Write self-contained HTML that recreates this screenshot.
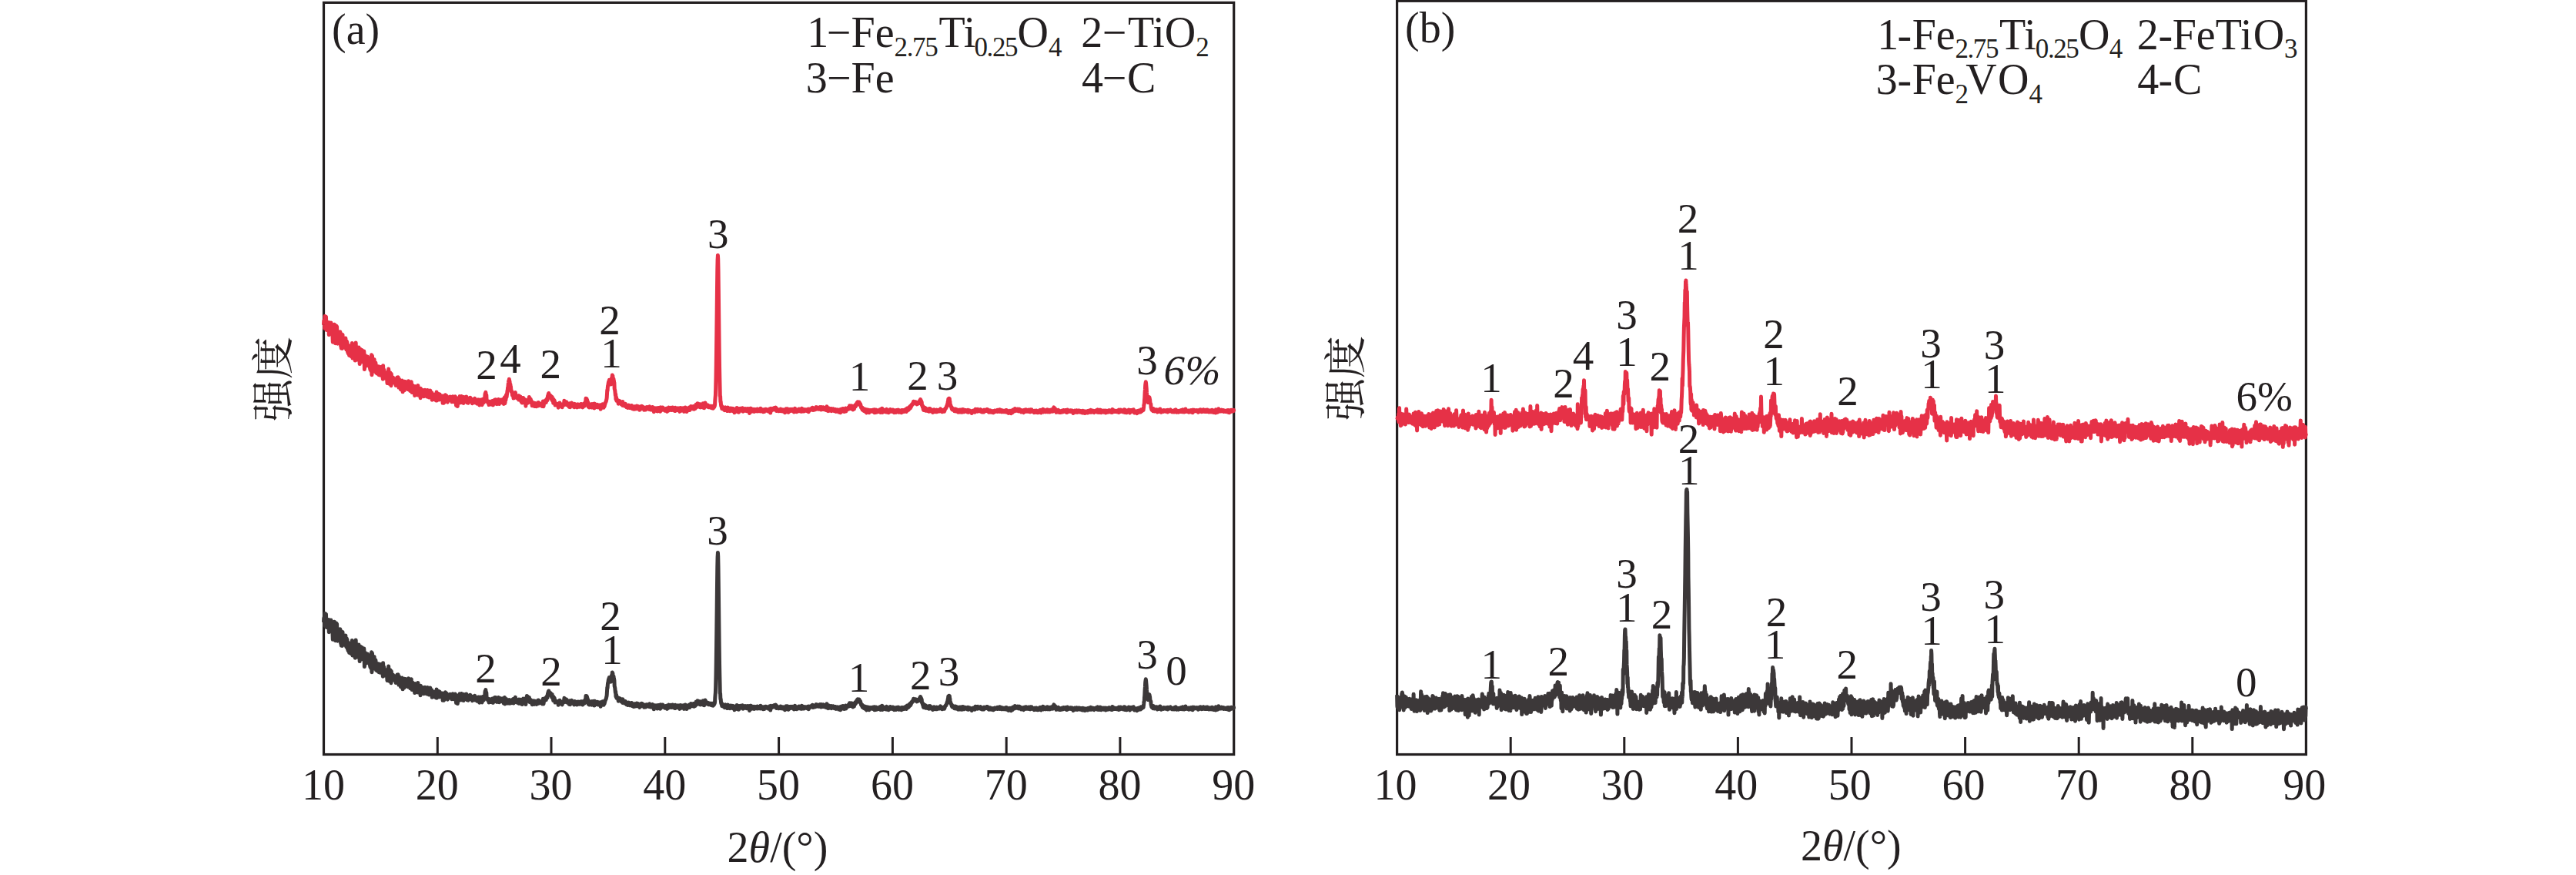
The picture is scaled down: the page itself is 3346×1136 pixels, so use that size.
<!DOCTYPE html>
<html lang="zh"><head><meta charset="utf-8"><title>XRD patterns</title>
<style>html,body{margin:0;padding:0;background:#fff;}body{width:3346px;height:1136px;overflow:hidden;}svg{display:block;}text{font-family:"Liberation Serif", "Noto Serif CJK SC", serif;fill:#231f20;}.it{font-style:italic;}.cv{fill:none;stroke-linejoin:round;stroke-linecap:butt;}</style></head><body>
<svg width="3346" height="1136" viewBox="0 0 3346 1136">
<rect width="3346" height="1136" fill="#fff"/>
<rect x="420.5" y="3.4" width="1182.2" height="976.1" fill="none" stroke="#231f20" stroke-width="3.2"/>
<path d="M568.3 979.5V957.0M716.0 979.5V957.0M863.8 979.5V957.0M1011.6 979.5V957.0M1159.4 979.5V957.0M1307.2 979.5V957.0M1454.9 979.5V957.0" stroke="#231f20" stroke-width="3" fill="none"/>
<rect x="1814.6" y="1.3" width="1180.8" height="978.2" fill="none" stroke="#231f20" stroke-width="3.2"/>
<path d="M1962.2 979.5V957.0M2109.8 979.5V957.0M2257.4 979.5V957.0M2405.0 979.5V957.0M2552.6 979.5V957.0M2700.2 979.5V957.0M2847.8 979.5V957.0" stroke="#231f20" stroke-width="3" fill="none"/>
<polyline class="cv" stroke="#3c3839" stroke-width="5" points="420.5,807.9 420.8,802.3 421.1,802.5 421.4,802.9 421.7,812.3 422.0,796.6 422.3,802.5 422.6,800.2 422.9,802.1 423.2,797.8 423.5,797.5 423.8,807.9 424.0,814.5 424.3,804.3 424.6,814.6 424.9,808.4 425.2,811.4 425.5,812.7 425.8,810.8 426.1,805.6 426.4,809.2 426.7,811.5 427.0,804.6 427.3,820.7 427.6,816.2 427.9,814.8 428.2,806.4 428.5,817.2 428.8,811.3 429.1,806.9 429.4,817.7 429.7,816.6 430.0,805.1 430.3,812.5 430.5,810.7 430.8,811.2 431.1,808.4 431.4,808.5 431.7,815.9 432.0,822.4 432.3,830.3 432.6,823.3 432.9,817.6 433.2,813.6 433.5,815.0 433.8,821.4 434.1,811.1 434.4,807.3 434.7,825.1 435.0,824.2 435.3,816.4 435.6,831.8 435.9,820.0 436.2,819.5 436.5,828.9 436.8,809.0 437.1,829.5 437.3,826.9 437.6,810.0 437.9,822.8 438.2,821.1 438.5,832.2 438.8,821.6 439.1,828.0 439.4,830.4 439.7,827.3 440.0,821.8 440.3,826.1 440.6,828.2 440.9,827.9 441.2,828.8 441.5,827.5 441.8,816.8 442.1,825.8 442.4,818.3 442.7,835.6 443.0,824.0 443.3,838.3 443.6,830.2 443.8,828.3 444.1,834.3 444.4,838.5 444.7,830.6 445.0,820.4 445.3,831.5 445.6,836.9 445.9,830.2 446.2,830.0 446.5,825.3 446.8,833.0 447.1,831.6 447.4,831.9 447.7,829.0 448.0,828.7 448.3,829.4 448.6,837.7 448.9,825.0 449.2,836.4 449.5,832.4 449.8,839.9 450.1,838.5 450.4,829.1 450.6,832.6 450.9,830.2 451.2,835.2 451.5,843.0 451.8,834.1 452.1,844.8 452.4,843.3 452.7,835.1 453.0,835.4 453.3,838.1 453.6,847.4 453.9,834.9 454.2,845.9 454.5,844.9 454.8,837.6 455.1,846.8 455.4,838.2 455.7,846.3 456.0,836.9 456.3,848.9 456.6,838.8 456.9,841.4 457.1,843.7 457.4,831.4 457.7,845.9 458.0,851.1 458.3,846.8 458.6,841.1 458.9,840.5 459.2,834.8 459.5,848.2 459.8,847.8 460.1,847.8 460.4,844.2 460.7,845.4 461.0,843.3 461.3,854.2 461.6,834.7 461.9,839.1 462.2,831.0 462.5,846.0 462.8,841.3 463.1,852.4 463.4,842.5 463.7,843.1 463.9,853.0 464.2,848.8 464.5,841.2 464.8,852.8 465.1,849.0 465.4,849.8 465.7,844.9 466.0,836.9 466.3,841.2 466.6,843.7 466.9,851.9 467.2,858.6 467.5,847.5 467.8,847.2 468.1,839.3 468.4,848.8 468.7,850.6 469.0,846.4 469.3,844.2 469.6,852.2 469.9,855.4 470.2,840.5 470.4,853.0 470.7,847.4 471.0,851.9 471.3,849.4 471.6,853.9 471.9,854.3 472.2,843.3 472.5,857.0 472.8,842.0 473.1,848.2 473.4,865.6 473.7,862.6 474.0,852.5 474.3,858.1 474.6,847.6 474.9,861.5 475.2,849.3 475.5,857.2 475.8,857.3 476.1,857.3 476.4,855.1 476.7,853.2 477.0,856.9 477.2,857.3 477.5,849.0 477.8,856.5 478.1,855.2 478.4,860.1 478.7,860.6 479.0,856.9 479.3,859.2 479.6,857.1 479.9,859.4 480.2,863.3 480.5,860.6 480.8,865.9 481.1,857.9 481.4,859.8 481.7,867.5 482.0,863.8 482.3,852.5 482.6,846.8 482.9,872.7 483.2,869.9 483.5,848.0 483.7,856.6 484.0,857.2 484.3,864.1 484.6,862.3 484.9,864.2 485.2,862.9 485.5,866.1 485.8,852.4 486.1,852.9 486.4,859.5 486.7,866.8 487.0,865.6 487.3,859.4 487.6,868.5 487.9,857.1 488.2,860.3 488.5,870.0 488.8,867.4 489.1,867.4 489.4,869.4 489.7,871.0 490.0,863.1 490.2,866.7 490.5,866.6 490.8,862.1 491.1,863.7 491.4,869.9 491.7,861.8 492.0,864.3 492.3,872.8 492.6,866.3 492.9,866.6 493.2,862.6 493.5,864.9 493.8,873.3 494.1,872.0 494.4,868.5 494.7,866.3 495.0,866.5 495.3,865.8 495.6,862.3 495.9,872.0 496.2,870.2 496.5,873.0 496.8,868.0 497.0,873.2 497.3,878.2 497.6,860.8 497.9,867.5 498.2,868.7 498.5,870.2 498.8,866.0 499.1,877.0 499.4,871.8 499.7,874.5 500.0,876.6 500.3,876.5 500.6,870.6 500.9,875.6 501.2,877.5 501.5,872.4 501.8,872.8 502.1,869.8 502.4,873.8 502.7,879.0 503.0,883.5 503.3,874.3 503.5,876.4 503.8,872.2 504.1,880.8 504.4,872.1 504.7,865.1 505.0,876.3 505.3,884.2 505.6,875.5 505.9,877.9 506.2,880.0 506.5,872.8 506.8,869.8 507.1,876.4 507.4,881.7 507.7,876.8 508.0,886.8 508.3,871.5 508.6,875.4 508.9,876.3 509.2,882.7 509.5,879.3 509.8,876.9 510.1,881.9 510.3,876.6 510.6,876.2 510.9,877.9 511.2,883.0 511.5,881.7 511.8,881.9 512.1,881.1 512.4,878.0 512.7,879.9 513.0,879.4 513.3,882.1 513.6,880.6 513.9,883.2 514.2,886.6 514.5,883.0 514.8,880.6 515.1,877.2 515.4,881.9 515.7,879.4 516.0,876.1 516.3,884.4 516.6,881.6 516.8,879.2 517.1,875.7 517.4,884.9 517.7,886.7 518.0,889.1 518.3,886.0 518.6,878.4 518.9,884.7 519.2,882.3 519.5,884.2 519.8,884.9 520.1,881.8 520.4,891.8 520.7,889.7 521.0,881.5 521.3,888.5 521.6,885.3 521.9,891.2 522.2,880.0 522.5,883.5 522.8,889.5 523.1,894.8 523.4,885.1 523.6,885.7 523.9,888.1 524.2,882.5 524.5,889.4 524.8,889.1 525.1,892.9 525.4,888.1 525.7,881.3 526.0,891.1 526.3,890.7 526.6,887.3 526.9,881.5 527.2,889.8 527.5,887.9 527.8,885.9 528.1,887.7 528.4,889.2 528.7,885.0 529.0,889.6 529.3,891.0 529.6,891.5 529.9,884.8 530.1,884.2 530.4,891.8 530.7,880.7 531.0,889.3 531.3,891.5 531.6,882.9 531.9,886.1 532.2,890.2 532.5,886.7 532.8,893.7 533.1,889.2 533.4,892.1 533.7,891.9 534.0,892.3 534.3,881.7 534.6,893.6 534.9,888.4 535.2,895.6 535.5,889.9 535.8,886.1 536.1,895.2 536.4,893.9 536.7,893.9 536.9,893.1 537.2,894.8 537.5,890.3 537.8,891.5 538.1,894.6 538.4,895.0 538.7,899.6 539.0,887.5 539.3,889.3 539.6,891.8 539.9,896.2 540.2,890.4 540.5,894.1 540.8,897.3 541.1,893.5 541.4,892.8 541.7,896.9 542.0,892.6 542.3,891.4 542.6,898.9 542.9,886.4 543.2,893.9 543.4,893.3 543.7,893.2 544.0,899.2 544.3,894.3 544.6,894.1 544.9,893.2 545.2,895.8 545.5,893.9 545.8,897.1 546.1,902.8 546.4,890.3 546.7,898.1 547.0,894.7 547.3,895.1 547.6,894.5 547.9,892.8 548.2,895.9 548.5,897.9 548.8,898.7 549.1,895.4 549.4,895.6 549.7,894.6 550.0,892.6 550.2,900.8 550.5,895.6 550.8,897.1 551.1,896.6 551.4,896.0 551.7,897.7 552.0,892.3 552.3,899.0 552.6,899.5 552.9,899.9 553.2,898.9 553.5,900.4 553.8,898.9 554.1,894.6 554.4,898.0 554.7,900.9 555.0,896.8 555.3,892.5 555.6,899.8 555.9,897.8 556.2,894.3 556.5,897.1 556.7,895.8 557.0,898.7 557.3,902.0 557.6,901.3 557.9,897.7 558.2,895.0 558.5,896.2 558.8,892.9 559.1,895.1 559.4,899.2 559.7,897.3 560.0,899.4 560.3,900.5 560.6,897.0 560.9,896.0 561.2,905.3 561.5,899.2 561.8,897.9 562.1,899.4 562.4,903.4 562.7,899.0 563.0,898.3 563.3,901.6 563.5,900.4 563.8,901.4 564.1,898.4 564.4,898.9 564.7,904.8 565.0,898.0 565.3,901.2 565.6,897.9 565.9,901.8 566.2,902.1 566.5,906.0 566.8,902.2 567.1,895.1 567.4,906.2 567.7,901.2 568.0,901.1 568.3,901.6 568.6,900.7 568.9,901.5 569.2,898.7 569.5,902.6 569.8,899.9 570.0,898.1 570.3,897.6 570.6,905.1 570.9,902.3 571.2,898.2 571.5,900.1 571.8,903.2 572.1,903.9 572.4,900.2 572.7,902.5 573.0,901.4 573.3,904.0 573.6,902.7 573.9,903.4 574.2,900.0 574.5,901.3 574.8,901.9 575.1,909.3 575.4,901.6 575.7,908.2 576.0,902.6 576.3,908.8 576.6,909.0 576.8,899.9 577.1,905.4 577.4,902.4 577.7,903.2 578.0,903.7 578.3,904.2 578.6,898.8 578.9,903.6 579.2,904.9 579.5,906.8 579.8,903.0 580.1,900.2 580.4,906.2 580.7,904.0 581.0,903.8 581.3,908.2 581.6,902.4 581.9,903.4 582.2,904.2 582.5,902.0 582.8,903.8 583.1,901.8 583.3,901.8 583.6,905.9 583.9,903.5 584.2,904.8 584.5,905.6 584.8,901.2 585.1,906.0 585.4,905.5 585.7,906.4 586.0,901.8 586.3,904.9 586.6,904.1 586.9,907.8 587.2,906.7 587.5,905.7 587.8,901.6 588.1,900.9 588.4,903.7 588.7,902.0 589.0,905.1 589.3,906.4 589.6,902.9 589.9,901.6 590.1,908.0 590.4,905.4 590.7,902.7 591.0,905.5 591.3,900.9 591.6,904.7 591.9,903.6 592.2,903.8 592.5,912.6 592.8,911.3 593.1,902.8 593.4,903.6 593.7,910.9 594.0,909.5 594.3,913.6 594.6,906.9 594.9,904.5 595.2,905.6 595.5,908.3 595.8,904.0 596.1,906.8 596.4,909.4 596.6,902.3 596.9,905.2 597.2,900.7 597.5,905.5 597.8,905.3 598.1,907.7 598.4,908.8 598.7,907.3 599.0,908.2 599.3,904.7 599.6,900.5 599.9,906.3 600.2,906.4 600.5,907.3 600.8,908.2 601.1,909.0 601.4,906.3 601.7,905.8 602.0,909.5 602.3,904.3 602.6,901.6 602.9,904.5 603.1,904.4 603.4,905.8 603.7,906.0 604.0,906.8 604.3,905.6 604.6,902.0 604.9,905.5 605.2,902.2 605.5,907.2 605.8,901.0 606.1,905.6 606.4,905.8 606.7,908.8 607.0,905.6 607.3,905.5 607.6,908.9 607.9,907.7 608.2,909.3 608.5,906.7 608.8,907.1 609.1,907.2 609.4,903.1 609.7,905.9 609.9,905.2 610.2,903.7 610.5,905.8 610.8,902.3 611.1,907.4 611.4,907.0 611.7,905.7 612.0,907.6 612.3,904.1 612.6,904.1 612.9,908.2 613.2,907.5 613.5,909.8 613.8,906.9 614.1,905.7 614.4,906.7 614.7,907.0 615.0,904.6 615.3,905.8 615.6,908.5 615.9,904.4 616.2,906.6 616.4,906.5 616.7,903.3 617.0,906.1 617.3,906.7 617.6,909.1 617.9,906.8 618.2,908.7 618.5,908.8 618.8,906.2 619.1,906.8 619.4,908.9 619.7,910.3 620.0,906.4 620.3,906.5 620.6,906.2 620.9,906.0 621.2,905.0 621.5,907.1 621.8,906.4 622.1,906.2 622.4,905.7 622.7,912.2 623.0,908.8 623.2,906.8 623.5,909.7 623.8,905.1 624.1,906.8 624.4,908.5 624.7,908.4 625.0,908.1 625.3,908.0 625.6,908.0 625.9,911.5 626.2,911.8 626.5,907.5 626.8,906.3 627.1,904.6 627.4,906.0 627.7,906.4 628.0,906.4 628.3,909.0 628.6,905.8 628.9,907.4 629.2,903.8 629.5,904.8 629.7,903.4 630.0,898.7 630.3,896.9 630.6,900.2 630.9,895.6 631.2,902.4 631.5,904.0 631.8,899.0 632.1,906.2 632.4,906.4 632.7,907.6 633.0,906.4 633.3,907.8 633.6,909.0 633.9,907.9 634.2,907.5 634.5,910.1 634.8,909.6 635.1,912.0 635.4,908.9 635.7,909.2 636.0,907.6 636.3,911.4 636.5,908.7 636.8,908.4 637.1,911.5 637.4,909.0 637.7,909.2 638.0,909.2 638.3,909.6 638.6,909.9 638.9,911.8 639.2,910.7 639.5,907.0 639.8,907.7 640.1,910.5 640.4,912.4 640.7,909.2 641.0,907.2 641.3,910.9 641.6,911.0 641.9,910.2 642.2,906.0 642.5,907.6 642.8,905.5 643.0,908.8 643.3,910.6 643.6,908.4 643.9,905.4 644.2,907.6 644.5,908.6 644.8,908.0 645.1,910.7 645.4,911.3 645.7,910.2 646.0,910.5 646.3,907.8 646.6,910.1 646.9,909.4 647.2,908.3 647.5,905.5 647.8,908.8 648.1,907.7 648.4,911.7 648.7,907.7 649.0,906.2 649.3,907.0 649.6,907.7 649.8,907.5 650.1,908.6 650.4,908.4 650.7,909.1 651.0,910.4 651.3,909.2 651.6,906.9 651.9,910.7 652.2,910.5 652.5,909.1 652.8,907.4 653.1,908.2 653.4,907.8 653.7,909.0 654.0,906.5 654.3,913.2 654.6,909.9 654.9,910.1 655.2,909.1 655.5,905.5 655.8,914.0 656.1,913.1 656.3,909.9 656.6,910.4 656.9,912.2 657.2,910.5 657.5,907.5 657.8,909.3 658.1,913.1 658.4,912.2 658.7,911.6 659.0,910.7 659.3,912.1 659.6,910.6 659.9,912.9 660.2,910.5 660.5,910.4 660.8,909.2 661.1,912.8 661.4,908.6 661.7,912.1 662.0,910.6 662.3,913.3 662.6,912.8 662.9,910.4 663.1,912.5 663.4,909.2 663.7,910.7 664.0,912.7 664.3,911.4 664.6,908.8 664.9,909.8 665.2,909.8 665.5,911.3 665.8,908.3 666.1,908.8 666.4,911.2 666.7,907.5 667.0,913.0 667.3,909.1 667.6,911.0 667.9,911.8 668.2,907.6 668.5,912.1 668.8,909.1 669.1,910.3 669.4,905.2 669.6,911.3 669.9,910.3 670.2,910.2 670.5,911.0 670.8,910.2 671.1,911.9 671.4,909.7 671.7,910.0 672.0,912.2 672.3,911.7 672.6,910.8 672.9,912.0 673.2,908.4 673.5,912.4 673.8,913.3 674.1,907.9 674.4,911.9 674.7,911.4 675.0,913.0 675.3,908.4 675.6,909.4 675.9,908.2 676.2,910.2 676.4,911.2 676.7,912.2 677.0,913.9 677.3,908.6 677.6,908.4 677.9,910.4 678.2,914.6 678.5,908.3 678.8,911.1 679.1,910.1 679.4,911.7 679.7,907.1 680.0,911.9 680.3,910.0 680.6,910.9 680.9,911.3 681.2,910.9 681.5,908.1 681.8,909.2 682.1,912.9 682.4,909.8 682.7,907.2 682.9,914.6 683.2,906.4 683.5,907.9 683.8,906.4 684.1,906.9 684.4,903.6 684.7,904.3 685.0,904.0 685.3,905.1 685.6,906.8 685.9,906.9 686.2,906.7 686.5,905.7 686.8,907.3 687.1,908.7 687.4,905.5 687.7,911.4 688.0,911.0 688.3,910.7 688.6,908.5 688.9,909.7 689.2,908.4 689.5,910.8 689.7,912.2 690.0,909.2 690.3,912.1 690.6,910.2 690.9,909.8 691.2,914.7 691.5,911.0 691.8,913.4 692.1,911.7 692.4,909.8 692.7,912.9 693.0,910.5 693.3,911.1 693.6,913.2 693.9,912.7 694.2,914.4 694.5,910.1 694.8,910.9 695.1,914.1 695.4,910.7 695.7,911.2 696.0,911.2 696.2,913.2 696.5,911.0 696.8,914.4 697.1,911.3 697.4,913.6 697.7,910.4 698.0,912.5 698.3,910.6 698.6,909.4 698.9,912.1 699.2,913.4 699.5,910.7 699.8,909.1 700.1,912.4 700.4,910.2 700.7,911.0 701.0,912.8 701.3,910.8 701.6,912.1 701.9,911.2 702.2,911.5 702.5,912.5 702.8,910.7 703.0,911.0 703.3,911.1 703.6,912.6 703.9,910.5 704.2,911.8 704.5,913.9 704.8,911.5 705.1,910.6 705.4,907.2 705.7,908.9 706.0,914.0 706.3,911.9 706.6,910.0 706.9,909.8 707.2,908.9 707.5,908.4 707.8,907.5 708.1,906.9 708.4,906.2 708.7,907.9 709.0,906.8 709.3,908.8 709.5,906.6 709.8,906.4 710.1,905.3 710.4,905.8 710.7,903.3 711.0,905.9 711.3,902.7 711.6,900.0 711.9,902.1 712.2,897.9 712.5,899.8 712.8,896.9 713.1,898.8 713.4,900.9 713.7,899.7 713.8,901.2 714.0,900.2 714.3,899.1 714.6,900.9 714.9,901.5 715.2,899.8 715.5,902.8 715.8,903.3 716.0,901.0 716.3,902.5 716.6,904.9 716.9,902.0 717.2,901.6 717.5,906.2 717.8,905.3 718.1,906.7 718.4,905.9 718.7,909.5 719.0,904.4 719.3,907.9 719.6,907.3 719.9,905.9 720.2,906.5 720.5,908.4 720.8,909.4 721.1,912.1 721.4,910.4 721.7,910.3 722.0,911.2 722.3,911.0 722.6,911.3 722.8,910.7 723.1,912.0 723.4,910.5 723.7,910.6 724.0,910.7 724.3,911.8 724.6,913.1 724.9,910.4 725.2,915.3 725.5,914.2 725.8,912.1 726.1,912.2 726.4,913.4 726.7,912.7 727.0,909.2 727.3,910.9 727.6,910.4 727.9,912.5 728.2,912.8 728.5,913.0 728.8,913.5 729.1,913.4 729.3,911.6 729.6,911.3 729.9,911.1 730.2,914.9 730.5,913.3 730.8,911.3 731.1,912.9 731.4,910.6 731.7,911.9 732.0,911.1 732.3,911.9 732.6,911.1 732.9,906.3 733.2,910.1 733.5,911.1 733.8,909.9 734.1,907.3 734.4,910.6 734.7,911.3 735.0,911.4 735.3,910.2 735.6,907.9 735.9,908.0 736.1,908.7 736.4,911.9 736.7,911.6 737.0,910.2 737.3,910.5 737.6,910.7 737.9,912.3 738.2,912.5 738.5,911.1 738.8,913.8 739.1,911.1 739.4,910.9 739.7,914.6 740.0,909.8 740.3,911.2 740.6,914.8 740.9,912.3 741.2,912.6 741.5,910.8 741.8,912.0 742.1,912.3 742.4,912.9 742.6,909.2 742.9,913.0 743.2,910.9 743.5,912.7 743.8,912.5 744.1,912.7 744.4,911.4 744.7,913.5 745.0,911.9 745.3,914.2 745.6,913.6 745.9,914.9 746.2,911.9 746.5,910.5 746.8,912.3 747.1,912.3 747.4,911.2 747.7,912.3 748.0,913.1 748.3,911.2 748.6,913.1 748.9,914.0 749.2,912.1 749.4,915.0 749.7,912.5 750.0,911.3 750.3,913.7 750.6,912.7 750.9,910.9 751.2,913.0 751.5,913.9 751.8,913.2 752.1,914.2 752.4,912.5 752.7,914.2 753.0,913.5 753.3,911.9 753.6,911.0 753.9,912.6 754.2,914.1 754.5,911.1 754.8,910.8 755.1,913.2 755.4,912.8 755.7,910.8 755.9,911.4 756.2,912.5 756.5,913.1 756.8,915.0 757.1,914.3 757.4,913.9 757.7,913.4 758.0,911.8 758.3,912.1 758.6,910.2 758.9,912.7 759.2,913.0 759.5,912.6 759.8,911.1 760.1,908.3 760.4,911.3 760.7,908.5 761.0,903.4 761.3,905.8 761.6,904.4 761.9,903.5 762.2,904.3 762.5,904.7 762.7,906.8 763.0,906.5 763.3,908.0 763.6,909.9 763.9,908.7 764.2,914.1 764.5,912.4 764.8,912.4 765.1,911.7 765.4,915.1 765.7,912.6 766.0,913.6 766.3,913.2 766.6,911.5 766.9,911.1 767.2,912.2 767.5,912.3 767.8,912.2 768.1,912.9 768.4,914.0 768.7,915.1 769.0,910.5 769.2,914.1 769.5,914.6 769.8,913.4 770.1,914.2 770.4,912.6 770.7,914.3 771.0,912.0 771.3,910.4 771.6,911.0 771.9,916.0 772.2,911.6 772.5,910.2 772.8,913.3 773.1,914.2 773.4,912.9 773.7,913.7 774.0,914.7 774.3,913.5 774.6,913.8 774.9,914.3 775.2,913.8 775.5,911.5 775.8,914.5 776.0,911.3 776.3,914.2 776.6,914.1 776.9,914.9 777.2,913.3 777.5,913.8 777.8,912.3 778.1,913.5 778.4,913.1 778.7,913.8 779.0,913.0 779.3,913.2 779.6,911.8 779.9,913.0 780.2,917.2 780.5,914.5 780.8,912.1 781.1,912.1 781.4,913.9 781.7,915.2 782.0,913.3 782.3,914.4 782.5,913.3 782.8,910.8 783.1,911.0 783.4,911.7 783.7,911.9 784.0,915.2 784.3,911.3 784.6,914.4 784.9,912.1 785.2,913.5 785.5,911.3 785.8,911.1 786.1,909.1 786.4,909.0 786.7,908.4 787.0,907.6 787.3,907.2 787.6,905.3 787.9,904.4 788.2,902.4 788.5,897.4 788.8,892.3 789.1,893.4 789.3,889.6 789.6,886.7 789.9,886.1 790.2,883.7 790.5,881.9 790.8,883.5 791.0,880.4 791.1,881.1 791.4,879.5 791.7,882.7 792.0,883.2 792.3,881.3 792.6,883.7 792.9,882.6 793.2,885.2 793.5,885.1 793.8,883.5 794.1,883.4 794.4,877.1 794.7,877.6 795.0,877.7 795.3,873.1 795.6,873.6 795.8,873.8 796.1,875.9 796.4,877.5 796.7,877.5 797.0,878.1 797.3,880.5 797.6,882.3 797.9,882.9 798.2,890.8 798.5,891.9 798.8,893.2 799.1,896.4 799.4,899.4 799.7,897.8 800.0,904.5 800.3,901.9 800.6,902.0 800.9,906.3 801.2,905.8 801.5,906.1 801.8,905.6 802.1,905.5 802.4,906.9 802.6,908.0 802.9,905.8 803.2,910.2 803.5,907.5 803.8,908.5 804.1,908.1 804.4,909.3 804.7,907.2 805.0,906.7 805.3,907.8 805.6,908.4 805.9,909.4 806.2,909.9 806.5,910.4 806.8,909.6 807.1,911.0 807.4,908.0 807.7,908.8 808.0,909.0 808.3,910.7 808.6,912.4 808.9,907.7 809.1,910.4 809.4,909.9 809.7,911.7 810.0,909.8 810.3,911.4 810.6,910.5 810.9,911.2 811.2,911.0 811.5,913.2 811.8,911.7 812.1,913.3 812.4,910.4 812.7,912.7 813.0,911.9 813.3,911.7 813.6,912.3 813.9,914.8 814.2,913.7 814.5,913.5 814.8,913.1 815.1,914.6 815.4,915.5 815.7,914.4 815.9,915.1 816.2,914.4 816.5,912.7 816.8,912.2 817.1,914.8 817.4,913.7 817.7,915.7 818.0,915.2 818.3,913.2 818.6,914.9 818.9,914.5 819.2,914.1 819.5,912.7 819.8,914.9 820.1,915.9 820.4,912.6 820.7,914.3 821.0,914.5 821.3,915.4 821.6,916.7 821.9,915.6 822.2,915.0 822.4,917.0 822.7,914.1 823.0,914.1 823.3,917.4 823.6,917.3 823.9,916.1 824.2,913.8 824.5,913.7 824.8,916.4 825.1,917.0 825.4,914.3 825.7,916.5 826.0,914.6 826.3,913.8 826.6,915.3 826.9,915.5 827.2,913.1 827.5,916.7 827.8,914.7 828.1,916.2 828.4,915.7 828.7,913.5 829.0,913.6 829.2,915.5 829.5,915.0 829.8,916.5 830.1,915.2 830.4,914.3 830.7,918.4 831.0,914.4 831.3,914.3 831.6,914.1 831.9,917.3 832.2,916.5 832.5,914.6 832.8,913.5 833.1,915.4 833.4,916.3 833.7,914.0 834.0,913.4 834.3,915.0 834.6,915.5 834.9,914.7 835.2,915.8 835.5,914.5 835.7,915.2 836.0,916.6 836.3,916.6 836.6,918.3 836.9,915.5 837.2,915.3 837.5,916.5 837.8,917.8 838.1,916.5 838.4,915.7 838.7,918.0 839.0,916.5 839.3,916.3 839.6,914.8 839.9,917.0 840.2,914.7 840.5,915.3 840.8,915.1 841.1,914.8 841.4,915.8 841.7,916.3 842.0,916.4 842.2,916.0 842.5,916.5 842.8,915.2 843.1,917.5 843.4,914.7 843.7,913.9 844.0,914.3 844.3,917.0 844.6,915.1 844.9,915.3 845.2,915.5 845.5,918.1 845.8,918.1 846.1,917.3 846.4,915.9 846.7,916.0 847.0,916.2 847.3,918.3 847.6,914.6 847.9,917.0 848.2,917.4 848.5,916.6 848.8,918.6 849.0,916.3 849.3,920.8 849.6,916.3 849.9,917.1 850.2,918.1 850.5,917.9 850.8,915.8 851.1,918.0 851.4,918.5 851.7,916.4 852.0,916.9 852.3,917.4 852.6,919.5 852.9,916.8 853.2,915.9 853.5,918.1 853.8,920.0 854.1,915.8 854.4,917.1 854.7,916.0 855.0,916.1 855.3,918.5 855.5,916.1 855.8,915.5 856.1,918.2 856.4,918.1 856.7,917.1 857.0,916.7 857.3,917.6 857.6,920.3 857.9,916.6 858.2,914.9 858.5,916.8 858.8,915.7 859.1,916.1 859.4,915.8 859.7,915.5 860.0,916.6 860.3,916.4 860.6,918.1 860.9,915.1 861.2,918.0 861.5,915.8 861.8,917.4 862.1,916.6 862.3,916.5 862.6,917.5 862.9,917.4 863.2,917.2 863.5,919.2 863.8,917.1 864.1,917.3 864.4,918.0 864.7,919.1 865.0,917.3 865.3,918.3 865.6,916.3 865.9,918.6 866.2,918.7 866.5,920.4 866.8,919.6 867.1,916.7 867.4,917.4 867.7,919.2 868.0,918.1 868.3,919.1 868.6,914.9 868.8,917.0 869.1,916.6 869.4,917.4 869.7,916.0 870.0,916.5 870.3,917.1 870.6,916.5 870.9,916.7 871.2,915.8 871.5,915.4 871.8,916.2 872.1,918.6 872.4,915.9 872.7,916.1 873.0,918.1 873.3,916.1 873.6,915.0 873.9,917.3 874.2,918.4 874.5,915.4 874.8,917.0 875.1,917.3 875.4,916.1 875.6,918.9 875.9,917.5 876.2,916.3 876.5,919.4 876.8,917.1 877.1,915.2 877.4,919.4 877.7,918.2 878.0,917.9 878.3,916.5 878.6,918.4 878.9,916.4 879.2,917.7 879.5,918.5 879.8,916.8 880.1,916.5 880.4,916.6 880.7,915.8 881.0,917.1 881.3,916.7 881.6,917.1 881.9,917.5 882.1,916.8 882.4,918.5 882.7,920.4 883.0,918.5 883.3,917.9 883.6,918.9 883.9,915.5 884.2,919.6 884.5,917.7 884.8,917.6 885.1,918.9 885.4,917.5 885.7,916.1 886.0,917.4 886.3,916.6 886.6,917.7 886.9,916.6 887.2,917.0 887.5,915.9 887.8,916.5 888.1,918.8 888.4,920.4 888.7,919.0 888.9,917.9 889.2,919.2 889.5,918.3 889.8,917.8 890.1,915.0 890.4,916.8 890.7,916.0 891.0,917.9 891.3,917.4 891.6,916.7 891.9,920.5 892.2,918.7 892.5,916.2 892.8,916.7 893.1,918.3 893.4,916.4 893.7,918.9 894.0,917.2 894.3,917.0 894.6,916.3 894.9,917.4 895.2,915.0 895.4,916.4 895.7,915.8 896.0,918.5 896.3,916.5 896.6,916.1 896.9,916.4 897.2,915.2 897.5,913.5 897.8,916.1 898.1,915.1 898.4,915.4 898.7,914.6 899.0,916.4 899.3,915.2 899.6,916.7 899.9,915.4 900.2,914.1 900.5,915.6 900.8,913.4 901.1,913.8 901.4,917.3 901.7,915.8 902.0,915.2 902.2,914.2 902.5,913.2 902.8,913.1 903.1,916.5 903.4,913.7 903.7,914.3 904.0,915.2 904.3,911.0 904.6,914.9 904.9,913.9 905.2,912.8 905.5,912.9 905.8,913.0 905.9,913.8 906.1,909.8 906.4,911.3 906.7,911.8 907.0,911.8 907.3,913.1 907.6,911.3 907.9,910.9 908.2,914.3 908.5,911.6 908.7,912.0 909.0,912.4 909.3,910.6 909.6,914.9 909.9,912.4 910.2,912.3 910.5,914.4 910.8,912.5 911.1,912.4 911.4,913.3 911.7,911.9 912.0,912.9 912.3,910.8 912.6,912.3 912.9,914.9 913.2,909.8 913.5,913.7 913.8,912.6 914.1,914.3 914.4,913.3 914.7,915.8 915.0,911.5 915.3,912.2 915.5,914.3 915.8,912.3 916.1,909.0 916.4,911.2 916.7,913.5 917.0,912.9 917.3,913.6 917.6,912.0 917.9,911.7 918.2,913.2 918.5,912.8 918.8,912.4 919.1,912.2 919.4,912.2 919.7,912.6 920.0,912.6 920.3,914.7 920.6,914.0 920.9,913.1 921.2,914.0 921.5,914.8 921.8,914.8 922.0,913.3 922.3,913.5 922.6,913.3 922.9,913.5 923.2,914.2 923.5,913.9 923.8,915.5 924.1,913.2 924.4,914.8 924.7,915.4 925.0,914.8 925.3,916.0 925.6,915.0 925.9,915.2 926.2,915.0 926.5,916.1 926.8,915.1 927.1,914.0 927.4,912.5 927.7,914.6 928.0,913.5 928.3,913.2 928.6,911.2 928.8,906.5 929.1,902.5 929.4,899.3 929.7,890.2 930.0,876.9 930.3,859.4 930.6,837.1 930.9,813.1 931.2,787.6 931.5,759.8 931.8,736.7 932.1,722.8 932.4,718.3 932.4,717.4 932.7,721.9 933.0,736.2 933.3,760.2 933.6,787.0 933.9,813.7 934.2,839.2 934.5,861.0 934.8,876.3 935.1,889.8 935.3,899.9 935.6,900.6 935.9,907.8 936.2,907.5 936.5,911.5 936.8,913.3 937.1,914.2 937.4,913.5 937.7,916.5 938.0,913.6 938.3,916.1 938.6,914.5 938.9,916.9 939.2,916.6 939.5,916.8 939.8,916.2 940.1,917.3 940.4,916.9 940.7,918.2 941.0,918.6 941.3,916.3 941.6,917.2 941.9,915.2 942.1,915.0 942.4,916.5 942.7,917.0 943.0,918.5 943.3,917.1 943.6,917.5 943.9,918.3 944.2,918.7 944.5,916.9 944.8,919.6 945.1,919.1 945.4,915.1 945.7,918.3 946.0,918.5 946.3,918.9 946.6,916.7 946.9,918.2 947.2,917.1 947.5,919.0 947.8,916.9 948.1,919.8 948.4,916.6 948.6,918.2 948.9,916.0 949.2,917.8 949.5,917.8 949.8,919.1 950.1,918.2 950.4,917.8 950.7,916.3 951.0,918.9 951.3,916.7 951.6,918.0 951.9,918.0 952.2,919.8 952.5,917.3 952.8,916.5 953.1,918.6 953.4,917.2 953.7,918.1 954.0,921.8 954.3,919.3 954.6,917.4 954.9,919.3 955.1,919.7 955.4,918.2 955.7,920.0 956.0,917.1 956.3,917.9 956.6,918.4 956.9,918.8 957.2,915.6 957.5,920.7 957.8,920.6 958.1,918.6 958.4,919.6 958.7,919.8 959.0,917.1 959.3,916.7 959.6,921.3 959.9,920.8 960.2,920.1 960.5,919.8 960.8,917.5 961.1,917.7 961.4,918.1 961.7,916.4 961.9,919.2 962.2,917.4 962.5,918.4 962.8,917.4 963.1,918.7 963.4,918.8 963.7,917.8 964.0,918.5 964.3,915.8 964.6,917.0 964.9,916.3 965.2,920.3 965.5,917.4 965.8,918.3 966.1,919.0 966.4,918.7 966.7,918.6 967.0,918.2 967.3,918.6 967.6,918.8 967.9,916.4 968.2,919.2 968.4,917.8 968.7,917.9 969.0,918.8 969.3,918.5 969.6,917.0 969.9,919.7 970.2,917.4 970.5,916.7 970.8,918.4 971.1,918.6 971.4,916.6 971.7,916.5 972.0,918.7 972.3,917.8 972.6,917.4 972.9,919.0 973.2,921.3 973.5,922.5 973.8,919.4 974.1,918.7 974.4,918.8 974.7,916.3 975.0,918.2 975.2,919.6 975.5,916.3 975.8,919.6 976.1,918.6 976.4,920.3 976.7,917.1 977.0,919.5 977.3,918.5 977.6,919.9 977.9,918.6 978.2,919.7 978.5,919.8 978.8,918.6 979.1,917.9 979.4,917.4 979.7,920.4 980.0,919.4 980.3,919.4 980.6,918.9 980.9,919.4 981.2,919.2 981.5,919.6 981.7,917.5 982.0,917.5 982.3,918.6 982.6,917.6 982.9,919.3 983.2,917.4 983.5,919.9 983.8,917.0 984.1,917.9 984.4,917.6 984.7,918.8 985.0,917.9 985.3,918.8 985.6,919.8 985.9,917.7 986.2,917.3 986.5,918.3 986.8,918.3 987.1,918.4 987.4,918.0 987.7,920.1 988.0,916.2 988.3,919.4 988.5,919.0 988.8,917.5 989.1,918.1 989.4,918.8 989.7,918.8 990.0,918.4 990.3,918.4 990.6,917.8 990.9,919.0 991.2,920.8 991.5,919.2 991.8,919.7 992.1,917.8 992.4,918.6 992.7,920.6 993.0,918.1 993.3,917.9 993.6,918.7 993.9,919.4 994.2,917.3 994.5,918.8 994.8,917.2 995.0,918.5 995.3,918.0 995.6,919.3 995.9,917.5 996.2,917.6 996.5,919.0 996.8,918.5 997.1,917.8 997.4,919.3 997.7,918.2 998.0,918.7 998.3,920.2 998.6,918.3 998.9,919.0 999.2,920.5 999.5,917.9 999.8,916.9 1000.1,919.3 1000.4,918.9 1000.7,922.0 1001.0,916.8 1001.3,916.5 1001.6,919.7 1001.8,918.1 1002.1,918.0 1002.4,918.8 1002.7,916.8 1003.0,917.7 1003.3,917.8 1003.6,918.2 1003.9,918.0 1004.2,916.6 1004.5,917.4 1004.8,916.6 1005.1,915.7 1005.4,917.8 1005.7,915.6 1006.0,915.6 1006.3,916.8 1006.6,916.5 1006.9,916.0 1007.2,915.9 1007.5,915.0 1007.8,915.8 1008.1,917.1 1008.3,919.4 1008.6,918.0 1008.9,916.5 1009.2,918.6 1009.5,917.7 1009.8,918.6 1010.1,918.5 1010.4,917.7 1010.7,919.7 1011.0,919.0 1011.3,918.2 1011.6,918.7 1011.9,919.6 1012.2,918.9 1012.5,918.3 1012.8,918.9 1013.1,918.5 1013.4,918.4 1013.7,917.6 1014.0,917.0 1014.3,919.8 1014.6,918.9 1014.9,919.4 1015.1,917.9 1015.4,918.0 1015.7,918.3 1016.0,919.5 1016.3,918.4 1016.6,919.9 1016.9,917.7 1017.2,919.7 1017.5,920.0 1017.8,918.8 1018.1,919.2 1018.4,918.2 1018.7,919.6 1019.0,919.5 1019.3,918.9 1019.6,921.7 1019.9,918.5 1020.2,920.4 1020.5,917.2 1020.8,919.9 1021.1,916.7 1021.4,918.4 1021.6,918.2 1021.9,918.3 1022.2,917.6 1022.5,919.5 1022.8,916.7 1023.1,920.9 1023.4,919.6 1023.7,920.9 1024.0,921.2 1024.3,919.8 1024.6,919.7 1024.9,918.3 1025.2,920.3 1025.5,917.5 1025.8,917.7 1026.1,918.8 1026.4,918.4 1026.7,917.6 1027.0,918.9 1027.3,917.4 1027.6,917.7 1027.9,919.4 1028.2,917.4 1028.4,917.9 1028.7,918.9 1029.0,918.2 1029.3,917.3 1029.6,918.7 1029.9,918.4 1030.2,919.7 1030.5,918.4 1030.8,920.1 1031.1,917.6 1031.4,921.0 1031.7,918.9 1032.0,919.1 1032.3,919.8 1032.6,916.2 1032.9,920.4 1033.2,918.8 1033.5,917.4 1033.8,920.0 1034.1,917.7 1034.4,920.0 1034.7,919.6 1034.9,920.8 1035.2,918.2 1035.5,918.7 1035.8,918.3 1036.1,918.0 1036.4,919.6 1036.7,918.1 1037.0,918.4 1037.3,917.8 1037.6,919.8 1037.9,917.0 1038.2,918.5 1038.5,919.0 1038.8,919.7 1039.1,919.0 1039.4,918.2 1039.7,920.0 1040.0,918.1 1040.3,920.2 1040.6,918.3 1040.9,918.5 1041.2,918.9 1041.5,916.3 1041.7,920.3 1042.0,917.9 1042.3,919.8 1042.6,918.6 1042.9,918.0 1043.2,917.9 1043.5,917.3 1043.8,918.7 1044.1,919.2 1044.4,920.0 1044.7,918.4 1045.0,917.9 1045.3,919.5 1045.6,918.9 1045.9,918.0 1046.2,918.3 1046.5,918.8 1046.8,918.3 1047.1,917.8 1047.4,918.5 1047.7,918.4 1048.0,919.0 1048.2,918.6 1048.5,919.7 1048.8,918.1 1049.1,917.4 1049.4,919.4 1049.7,919.4 1050.0,918.5 1050.3,920.8 1050.6,917.8 1050.9,917.2 1051.2,918.8 1051.5,919.0 1051.8,917.3 1052.1,917.3 1052.4,918.1 1052.7,917.2 1053.0,918.0 1053.3,916.8 1053.6,917.9 1053.9,917.9 1054.2,916.2 1054.5,917.1 1054.8,917.7 1055.0,917.6 1055.3,915.3 1055.6,916.4 1055.9,918.5 1056.2,916.9 1056.5,915.6 1056.8,918.0 1057.1,917.1 1057.4,918.2 1057.7,917.6 1058.0,916.4 1058.3,916.9 1058.6,916.3 1058.9,916.8 1059.2,916.5 1059.5,917.6 1059.8,915.7 1060.1,914.6 1060.4,916.5 1060.7,916.8 1061.0,915.3 1061.3,915.0 1061.5,915.8 1061.8,916.6 1062.1,916.9 1062.4,916.3 1062.7,915.7 1063.0,916.2 1063.3,917.3 1063.6,915.4 1063.9,915.9 1064.2,915.1 1064.5,916.5 1064.8,916.7 1065.1,914.5 1065.4,917.4 1065.7,916.5 1066.0,916.0 1066.3,918.0 1066.6,916.9 1066.9,915.1 1067.2,914.7 1067.5,916.4 1067.8,916.3 1068.1,915.8 1068.3,915.8 1068.6,917.5 1068.9,917.3 1069.2,916.5 1069.5,914.7 1069.8,917.5 1070.1,917.1 1070.4,917.2 1070.7,917.5 1071.0,916.0 1071.3,917.2 1071.6,917.6 1071.9,917.0 1072.2,915.2 1072.5,918.3 1072.8,917.1 1073.1,916.5 1073.4,916.8 1073.7,918.8 1074.0,913.8 1074.3,917.2 1074.6,917.6 1074.8,918.0 1075.1,917.2 1075.4,918.0 1075.7,919.6 1076.0,917.2 1076.3,917.1 1076.6,919.3 1076.9,915.9 1077.2,919.2 1077.5,919.0 1077.8,917.4 1078.1,918.1 1078.4,918.2 1078.7,918.9 1079.0,918.5 1079.3,918.2 1079.6,916.5 1079.9,918.4 1080.2,919.6 1080.5,917.5 1080.8,919.0 1081.1,918.4 1081.3,918.9 1081.6,918.3 1081.9,918.1 1082.2,916.7 1082.5,918.3 1082.8,917.3 1083.1,919.2 1083.4,919.6 1083.7,918.7 1084.0,918.2 1084.3,918.1 1084.6,917.5 1084.9,919.3 1085.2,917.4 1085.5,918.0 1085.8,918.9 1086.1,920.4 1086.4,918.4 1086.7,919.0 1087.0,918.1 1087.3,919.2 1087.6,917.9 1087.9,920.1 1088.1,918.3 1088.4,920.1 1088.7,919.7 1089.0,919.6 1089.3,918.4 1089.6,921.1 1089.9,918.4 1090.2,920.4 1090.5,919.0 1090.8,919.9 1091.1,917.7 1091.4,919.0 1091.7,921.7 1092.0,918.2 1092.3,919.7 1092.6,918.5 1092.9,920.6 1093.2,917.1 1093.5,917.9 1093.8,919.2 1094.1,919.0 1094.4,918.6 1094.6,917.9 1094.9,916.5 1095.2,917.3 1095.5,918.3 1095.8,917.9 1096.1,919.5 1096.4,920.4 1096.7,918.6 1097.0,917.4 1097.3,919.5 1097.6,919.1 1097.9,920.2 1098.2,918.2 1098.5,916.0 1098.8,920.0 1099.1,918.4 1099.4,918.2 1099.7,918.5 1100.0,918.2 1100.3,917.8 1100.6,917.5 1100.9,916.9 1101.2,917.5 1101.4,917.5 1101.7,915.8 1102.0,915.1 1102.3,917.1 1102.6,917.1 1102.9,916.5 1103.2,916.5 1103.5,912.7 1103.8,916.1 1104.1,915.5 1104.4,915.6 1104.7,914.0 1105.0,913.8 1105.3,915.2 1105.6,912.7 1105.9,916.7 1106.2,915.2 1106.5,914.6 1106.8,915.9 1107.1,916.9 1107.4,916.2 1107.7,913.3 1107.9,917.9 1108.2,915.2 1108.5,915.3 1108.8,916.3 1109.1,916.3 1109.4,917.0 1109.7,915.3 1110.0,915.1 1110.3,914.5 1110.6,913.3 1110.9,911.8 1111.2,913.9 1111.5,913.3 1111.8,911.9 1112.1,912.0 1112.4,911.3 1112.7,909.6 1113.0,910.6 1113.3,908.7 1113.6,911.2 1113.9,909.5 1114.2,907.8 1114.5,908.4 1114.7,908.3 1115.0,908.1 1115.3,908.2 1115.6,908.1 1115.9,908.0 1116.2,908.4 1116.5,911.6 1116.8,911.4 1117.1,911.8 1117.4,910.1 1117.7,911.6 1118.0,912.0 1118.3,914.3 1118.6,915.3 1118.9,915.8 1119.2,915.6 1119.5,916.0 1119.8,915.0 1120.1,918.0 1120.4,917.0 1120.7,915.9 1121.0,918.5 1121.2,917.8 1121.5,916.5 1121.8,919.1 1122.1,917.9 1122.4,918.5 1122.7,919.8 1123.0,916.9 1123.3,918.3 1123.6,919.6 1123.9,920.4 1124.2,917.5 1124.5,918.6 1124.8,917.9 1125.1,919.5 1125.4,919.8 1125.7,921.9 1126.0,917.8 1126.3,917.9 1126.6,920.4 1126.9,919.1 1127.2,918.8 1127.5,918.7 1127.8,920.2 1128.0,919.2 1128.3,918.2 1128.6,918.7 1128.9,921.7 1129.2,920.8 1129.5,920.3 1129.8,920.0 1130.1,918.9 1130.4,920.1 1130.7,919.2 1131.0,918.6 1131.3,919.4 1131.6,919.9 1131.9,918.7 1132.2,919.2 1132.5,918.5 1132.8,919.9 1133.1,920.3 1133.4,918.6 1133.7,918.3 1134.0,918.5 1134.3,919.6 1134.5,919.6 1134.8,918.0 1135.1,919.1 1135.4,919.8 1135.7,917.7 1136.0,921.8 1136.3,921.5 1136.6,918.3 1136.9,918.9 1137.2,919.6 1137.5,921.6 1137.8,918.1 1138.1,919.9 1138.4,921.3 1138.7,921.2 1139.0,921.1 1139.3,919.4 1139.6,919.8 1139.9,919.7 1140.2,919.0 1140.5,920.1 1140.8,919.0 1141.1,920.5 1141.3,918.9 1141.6,920.1 1141.9,918.8 1142.2,920.6 1142.5,918.8 1142.8,917.7 1143.1,918.3 1143.4,921.4 1143.7,921.5 1144.0,919.6 1144.3,918.1 1144.6,917.0 1144.9,919.3 1145.2,918.7 1145.5,919.6 1145.8,916.2 1146.1,921.5 1146.4,919.8 1146.7,921.1 1147.0,918.4 1147.3,918.6 1147.6,919.9 1147.8,919.0 1148.1,918.9 1148.4,919.5 1148.7,918.3 1149.0,919.1 1149.3,920.3 1149.6,919.0 1149.9,918.9 1150.2,918.3 1150.5,918.3 1150.8,920.9 1151.1,920.5 1151.4,918.5 1151.7,917.4 1152.0,920.0 1152.3,921.1 1152.6,920.5 1152.9,920.0 1153.2,919.1 1153.5,919.2 1153.8,920.5 1154.1,919.3 1154.4,921.7 1154.6,918.5 1154.9,919.9 1155.2,920.8 1155.5,918.7 1155.8,920.2 1156.1,919.6 1156.4,917.4 1156.7,920.0 1157.0,920.0 1157.3,919.6 1157.6,920.0 1157.9,918.1 1158.2,920.2 1158.5,919.4 1158.8,919.2 1159.1,919.9 1159.4,920.5 1159.7,917.9 1160.0,918.3 1160.3,918.8 1160.6,919.8 1160.9,920.5 1161.1,920.2 1161.4,921.6 1161.7,920.8 1162.0,919.1 1162.3,919.8 1162.6,919.2 1162.9,918.9 1163.2,919.6 1163.5,919.1 1163.8,921.4 1164.1,918.7 1164.4,920.2 1164.7,918.5 1165.0,919.7 1165.3,919.2 1165.6,920.1 1165.9,920.4 1166.2,920.3 1166.5,919.4 1166.8,918.1 1167.1,920.4 1167.4,920.1 1167.7,921.3 1167.9,921.1 1168.2,920.5 1168.5,918.9 1168.8,921.0 1169.1,919.4 1169.4,920.5 1169.7,919.0 1170.0,920.9 1170.3,919.8 1170.6,920.1 1170.9,921.8 1171.2,918.5 1171.5,919.6 1171.8,919.7 1172.1,920.5 1172.4,918.9 1172.7,919.8 1173.0,920.6 1173.3,919.7 1173.6,918.6 1173.9,919.7 1174.2,919.9 1174.4,919.8 1174.7,920.3 1175.0,919.4 1175.3,918.4 1175.6,918.0 1175.9,919.5 1176.2,918.1 1176.5,918.8 1176.8,917.3 1177.1,917.6 1177.4,920.5 1177.7,917.3 1178.0,918.3 1178.3,916.1 1178.6,916.6 1178.9,916.7 1179.2,916.0 1179.5,918.6 1179.8,917.0 1180.1,918.0 1180.4,917.2 1180.7,917.5 1181.0,915.2 1181.2,915.3 1181.5,914.1 1181.8,914.9 1182.1,914.3 1182.4,916.0 1182.7,913.1 1183.0,913.6 1183.3,914.7 1183.6,912.7 1183.9,911.5 1184.2,912.2 1184.5,912.3 1184.8,911.3 1185.1,910.4 1185.4,911.2 1185.7,910.2 1186.0,909.1 1186.3,908.6 1186.6,907.2 1186.9,908.1 1187.2,908.5 1187.5,908.9 1187.7,908.5 1188.0,909.0 1188.3,908.4 1188.6,908.8 1188.9,908.9 1189.2,907.7 1189.5,908.4 1189.8,910.2 1190.1,909.9 1190.4,908.5 1190.7,909.6 1191.0,910.9 1191.3,908.5 1191.6,910.2 1191.9,909.0 1192.2,909.6 1192.5,909.4 1192.8,908.5 1193.1,908.2 1193.4,909.9 1193.7,908.6 1194.0,908.9 1194.2,908.8 1194.5,906.2 1194.8,907.8 1195.1,907.0 1195.4,906.9 1195.6,904.4 1195.7,906.4 1196.0,905.4 1196.3,908.0 1196.6,906.5 1196.9,908.7 1197.2,908.0 1197.5,912.2 1197.8,912.5 1198.1,913.0 1198.4,915.0 1198.7,913.0 1199.0,914.6 1199.3,917.7 1199.6,915.8 1199.9,918.5 1200.2,915.7 1200.5,916.8 1200.8,916.7 1201.0,915.7 1201.3,915.5 1201.6,916.7 1201.9,918.5 1202.2,915.7 1202.5,919.2 1202.8,917.4 1203.1,918.8 1203.4,917.6 1203.7,918.5 1204.0,918.5 1204.3,918.1 1204.6,918.0 1204.9,919.4 1205.2,917.0 1205.5,918.0 1205.8,918.8 1206.1,918.3 1206.4,918.4 1206.7,920.3 1207.0,917.9 1207.3,916.6 1207.5,918.5 1207.8,919.6 1208.1,918.6 1208.4,916.6 1208.7,918.9 1209.0,918.8 1209.3,917.7 1209.6,918.8 1209.9,918.9 1210.2,920.3 1210.5,920.5 1210.8,919.3 1211.1,918.4 1211.4,918.4 1211.7,921.4 1212.0,919.2 1212.3,919.2 1212.6,919.9 1212.9,920.9 1213.2,917.8 1213.5,918.6 1213.8,919.6 1214.1,919.9 1214.3,919.7 1214.6,918.9 1214.9,918.9 1215.2,919.8 1215.5,919.6 1215.8,920.8 1216.1,918.2 1216.4,919.8 1216.7,918.2 1217.0,920.7 1217.3,920.6 1217.6,919.7 1217.9,918.6 1218.2,918.3 1218.5,919.5 1218.8,919.4 1219.1,919.3 1219.4,920.0 1219.7,918.2 1220.0,919.3 1220.3,919.9 1220.6,918.3 1220.8,919.2 1221.1,919.2 1221.4,917.5 1221.7,916.9 1222.0,919.3 1222.3,919.9 1222.6,918.2 1222.9,918.1 1223.2,920.2 1223.5,918.7 1223.8,920.8 1224.1,919.2 1224.4,919.9 1224.7,918.7 1225.0,918.9 1225.3,918.9 1225.6,918.6 1225.9,918.3 1226.2,918.0 1226.5,920.3 1226.8,918.4 1227.1,919.0 1227.4,917.4 1227.6,916.9 1227.9,916.3 1228.2,916.4 1228.5,916.2 1228.8,915.8 1229.1,915.2 1229.4,914.0 1229.7,913.2 1230.0,913.7 1230.3,911.6 1230.6,910.5 1230.9,910.4 1231.2,907.5 1231.5,907.2 1231.8,904.1 1232.1,904.9 1232.4,904.8 1232.5,904.3 1232.7,903.2 1233.0,904.4 1233.3,903.5 1233.6,907.0 1233.9,907.1 1234.1,911.7 1234.4,912.3 1234.7,911.5 1235.0,913.5 1235.3,913.9 1235.6,914.3 1235.9,914.4 1236.2,916.8 1236.5,915.1 1236.8,917.6 1237.1,916.2 1237.4,916.7 1237.7,917.3 1238.0,918.3 1238.3,916.7 1238.6,918.0 1238.9,918.2 1239.2,917.8 1239.5,918.1 1239.8,919.7 1240.1,919.3 1240.4,917.7 1240.7,917.7 1240.9,919.2 1241.2,917.0 1241.5,919.9 1241.8,917.7 1242.1,918.5 1242.4,917.6 1242.7,919.5 1243.0,918.4 1243.3,920.4 1243.6,918.1 1243.9,919.3 1244.2,919.7 1244.5,921.1 1244.8,918.7 1245.1,921.1 1245.4,919.7 1245.7,920.2 1246.0,919.4 1246.3,919.0 1246.6,921.0 1246.9,918.0 1247.2,920.0 1247.4,918.2 1247.7,918.6 1248.0,919.5 1248.3,918.7 1248.6,921.1 1248.9,919.7 1249.2,921.3 1249.5,917.8 1249.8,919.8 1250.1,920.3 1250.4,920.9 1250.7,917.5 1251.0,919.5 1251.3,919.7 1251.6,918.6 1251.9,918.4 1252.2,919.5 1252.5,920.7 1252.8,918.7 1253.1,918.3 1253.4,918.5 1253.7,919.1 1254.0,920.0 1254.2,919.3 1254.5,919.0 1254.8,920.0 1255.1,918.8 1255.4,919.5 1255.7,919.1 1256.0,920.4 1256.3,919.1 1256.6,921.1 1256.9,919.7 1257.2,918.3 1257.5,920.3 1257.8,921.3 1258.1,919.8 1258.4,919.9 1258.7,919.2 1259.0,919.6 1259.3,918.9 1259.6,920.4 1259.9,919.2 1260.2,919.9 1260.5,920.2 1260.7,920.8 1261.0,920.8 1261.3,921.4 1261.6,921.4 1261.9,921.1 1262.2,922.5 1262.5,921.3 1262.8,921.0 1263.1,920.3 1263.4,919.4 1263.7,919.5 1264.0,920.0 1264.3,920.3 1264.6,920.6 1264.9,919.1 1265.2,919.8 1265.5,919.4 1265.8,919.1 1266.1,921.2 1266.4,918.1 1266.7,918.7 1267.0,917.2 1267.3,919.2 1267.5,920.1 1267.8,918.4 1268.1,919.1 1268.4,918.3 1268.7,919.3 1269.0,919.8 1269.3,920.2 1269.6,917.4 1269.9,917.3 1270.2,918.8 1270.5,918.0 1270.8,918.2 1271.1,918.9 1271.4,918.9 1271.7,919.7 1272.0,919.1 1272.3,919.8 1272.6,919.4 1272.9,919.7 1273.2,918.9 1273.5,919.6 1273.8,917.6 1274.0,919.8 1274.3,920.4 1274.6,919.1 1274.9,920.8 1275.2,919.0 1275.5,921.1 1275.8,919.1 1276.1,920.7 1276.4,920.3 1276.7,921.0 1277.0,918.8 1277.3,920.5 1277.6,920.4 1277.9,921.0 1278.2,919.8 1278.5,918.1 1278.8,919.9 1279.1,920.1 1279.4,920.0 1279.7,918.8 1280.0,918.7 1280.3,918.3 1280.6,919.4 1280.8,919.1 1281.1,918.8 1281.4,918.5 1281.7,917.5 1282.0,919.4 1282.3,919.1 1282.6,919.0 1282.9,917.6 1283.2,918.2 1283.5,919.7 1283.8,920.5 1284.1,920.3 1284.4,919.6 1284.7,921.3 1285.0,919.8 1285.3,920.1 1285.6,920.6 1285.9,918.8 1286.2,920.6 1286.5,920.2 1286.8,920.1 1287.1,920.5 1287.3,921.1 1287.6,919.4 1287.9,920.2 1288.2,921.0 1288.5,920.6 1288.8,919.7 1289.1,920.1 1289.4,919.8 1289.7,919.9 1290.0,921.8 1290.3,920.8 1290.6,921.7 1290.9,919.4 1291.2,920.3 1291.5,919.4 1291.8,919.9 1292.1,919.5 1292.4,920.6 1292.7,920.5 1293.0,919.1 1293.3,919.2 1293.6,920.1 1293.9,920.2 1294.1,919.3 1294.4,919.2 1294.7,919.1 1295.0,918.8 1295.3,918.5 1295.6,920.6 1295.9,920.1 1296.2,919.7 1296.5,919.2 1296.8,919.7 1297.1,919.1 1297.4,919.4 1297.7,919.8 1298.0,919.4 1298.3,917.7 1298.6,919.2 1298.9,920.5 1299.2,919.3 1299.5,919.8 1299.8,918.1 1300.1,918.9 1300.4,919.0 1300.6,919.2 1300.9,919.0 1301.2,920.2 1301.5,920.8 1301.8,920.2 1302.1,918.9 1302.4,919.0 1302.7,920.3 1303.0,919.2 1303.3,920.2 1303.6,920.5 1303.9,920.0 1304.2,920.7 1304.5,919.2 1304.8,920.7 1305.1,920.2 1305.4,920.6 1305.7,920.3 1306.0,919.8 1306.3,918.9 1306.6,920.5 1306.9,920.5 1307.2,918.5 1307.4,921.2 1307.7,921.2 1308.0,918.7 1308.3,920.7 1308.6,920.5 1308.9,920.7 1309.2,919.8 1309.5,921.7 1309.8,921.1 1310.1,922.4 1310.4,919.8 1310.7,920.6 1311.0,920.7 1311.3,920.5 1311.6,921.3 1311.9,919.3 1312.2,920.4 1312.5,920.7 1312.8,920.6 1313.1,920.5 1313.4,922.7 1313.7,920.3 1313.9,919.2 1314.2,919.1 1314.5,919.4 1314.8,919.3 1315.1,921.6 1315.4,918.9 1315.7,918.0 1316.0,919.9 1316.3,919.6 1316.6,918.9 1316.9,918.0 1317.2,919.8 1317.5,918.6 1317.8,918.5 1318.1,919.9 1318.4,916.5 1318.7,919.3 1319.0,918.7 1319.3,917.2 1319.6,918.3 1319.9,919.3 1320.2,918.2 1320.4,918.5 1320.7,918.1 1321.0,918.6 1321.3,918.2 1321.6,919.2 1321.9,917.1 1322.2,918.8 1322.5,919.5 1322.8,919.8 1323.1,918.0 1323.4,917.8 1323.7,918.8 1324.0,917.1 1324.3,919.2 1324.6,919.1 1324.9,918.2 1325.2,919.8 1325.5,918.5 1325.8,918.3 1326.1,919.1 1326.4,921.1 1326.7,920.8 1327.0,919.5 1327.2,918.9 1327.5,919.7 1327.8,919.6 1328.1,918.9 1328.4,919.7 1328.7,919.0 1329.0,921.0 1329.3,921.2 1329.6,921.5 1329.9,919.7 1330.2,920.2 1330.5,918.2 1330.8,920.1 1331.1,920.6 1331.4,918.5 1331.7,918.6 1332.0,919.9 1332.3,919.4 1332.6,917.8 1332.9,919.1 1333.2,918.9 1333.5,919.5 1333.7,920.3 1334.0,918.9 1334.3,920.2 1334.6,919.3 1334.9,918.6 1335.2,920.1 1335.5,919.3 1335.8,919.0 1336.1,918.1 1336.4,920.5 1336.7,919.5 1337.0,919.4 1337.3,919.7 1337.6,920.1 1337.9,919.3 1338.2,920.9 1338.5,917.7 1338.8,920.4 1339.1,918.6 1339.4,919.4 1339.7,920.0 1340.0,917.8 1340.3,920.2 1340.5,920.1 1340.8,919.9 1341.1,919.3 1341.4,919.6 1341.7,919.8 1342.0,919.5 1342.3,920.2 1342.6,919.8 1342.9,921.0 1343.2,921.6 1343.5,919.3 1343.8,919.9 1344.1,919.9 1344.4,920.6 1344.7,921.3 1345.0,920.0 1345.3,919.5 1345.6,921.1 1345.9,921.0 1346.2,918.9 1346.5,921.4 1346.8,920.1 1347.0,920.3 1347.3,919.8 1347.6,920.5 1347.9,921.7 1348.2,919.8 1348.5,920.5 1348.8,919.9 1349.1,920.9 1349.4,920.2 1349.7,921.4 1350.0,921.1 1350.3,918.8 1350.6,920.7 1350.9,919.2 1351.2,918.3 1351.5,918.6 1351.8,920.1 1352.1,921.0 1352.4,921.9 1352.7,919.7 1353.0,919.3 1353.3,919.9 1353.6,920.4 1353.8,920.3 1354.1,920.1 1354.4,919.7 1354.7,917.3 1355.0,920.6 1355.3,917.6 1355.6,921.0 1355.9,919.8 1356.2,919.3 1356.5,918.8 1356.8,920.0 1357.1,920.0 1357.4,920.3 1357.7,918.8 1358.0,918.8 1358.3,920.2 1358.6,920.8 1358.9,919.5 1359.2,918.8 1359.5,918.4 1359.8,920.6 1360.1,919.6 1360.3,917.8 1360.6,920.0 1360.9,918.9 1361.2,920.9 1361.5,920.2 1361.8,919.0 1362.1,920.5 1362.4,918.2 1362.7,920.5 1363.0,919.0 1363.3,919.7 1363.6,920.9 1363.9,920.2 1364.2,919.9 1364.5,918.4 1364.8,920.2 1365.1,918.3 1365.4,920.3 1365.7,918.0 1366.0,918.1 1366.3,919.3 1366.6,919.4 1366.9,919.6 1367.1,918.5 1367.4,920.2 1367.7,916.7 1368.0,917.4 1368.3,917.8 1368.6,916.5 1368.9,914.9 1369.2,915.2 1369.5,915.7 1369.8,916.8 1370.1,917.5 1370.4,918.3 1370.7,916.8 1371.0,919.2 1371.3,920.1 1371.6,919.8 1371.9,921.4 1372.2,920.0 1372.5,920.0 1372.8,919.0 1373.1,921.0 1373.4,920.4 1373.6,919.4 1373.9,920.2 1374.2,920.8 1374.5,918.3 1374.8,919.3 1375.1,920.5 1375.4,920.6 1375.7,920.7 1376.0,920.7 1376.3,921.5 1376.6,920.2 1376.9,921.2 1377.2,919.9 1377.5,921.2 1377.8,921.4 1378.1,919.7 1378.4,919.6 1378.7,920.8 1379.0,919.3 1379.3,919.5 1379.6,920.7 1379.9,919.2 1380.2,921.1 1380.4,919.8 1380.7,920.8 1381.0,920.4 1381.3,918.4 1381.6,918.6 1381.9,919.0 1382.2,919.0 1382.5,920.0 1382.8,919.6 1383.1,920.0 1383.4,918.6 1383.7,919.4 1384.0,920.8 1384.3,920.5 1384.6,919.5 1384.9,918.6 1385.2,919.1 1385.5,919.2 1385.8,921.6 1386.1,919.1 1386.4,918.0 1386.7,920.8 1386.9,919.8 1387.2,920.2 1387.5,918.9 1387.8,920.5 1388.1,919.5 1388.4,918.8 1388.7,920.0 1389.0,919.2 1389.3,918.9 1389.6,919.0 1389.9,919.2 1390.2,920.2 1390.5,918.8 1390.8,918.9 1391.1,920.4 1391.4,920.3 1391.7,919.5 1392.0,919.3 1392.3,919.4 1392.6,919.2 1392.9,920.6 1393.2,919.4 1393.5,919.7 1393.7,920.2 1394.0,922.4 1394.3,919.9 1394.6,920.9 1394.9,921.7 1395.2,919.8 1395.5,920.7 1395.8,920.0 1396.1,919.2 1396.4,921.3 1396.7,920.9 1397.0,920.7 1397.3,920.1 1397.6,921.2 1397.9,920.1 1398.2,921.0 1398.5,918.7 1398.8,920.7 1399.1,919.9 1399.4,921.4 1399.7,919.7 1400.0,919.7 1400.2,920.5 1400.5,919.1 1400.8,920.2 1401.1,921.0 1401.4,919.9 1401.7,919.7 1402.0,919.1 1402.3,919.7 1402.6,920.1 1402.9,919.8 1403.2,919.7 1403.5,921.3 1403.8,920.2 1404.1,919.7 1404.4,920.1 1404.7,921.0 1405.0,919.9 1405.3,920.5 1405.6,919.7 1405.9,921.9 1406.2,920.7 1406.5,919.3 1406.8,922.0 1407.0,920.2 1407.3,920.1 1407.6,919.5 1407.9,921.0 1408.2,920.0 1408.5,920.1 1408.8,920.2 1409.1,922.5 1409.4,920.6 1409.7,920.5 1410.0,920.1 1410.3,920.5 1410.6,920.2 1410.9,921.7 1411.2,920.3 1411.5,920.3 1411.8,921.2 1412.1,920.5 1412.4,921.6 1412.7,921.9 1413.0,921.0 1413.3,921.1 1413.5,919.2 1413.8,919.2 1414.1,919.2 1414.4,919.6 1414.7,919.9 1415.0,920.6 1415.3,921.1 1415.6,920.2 1415.9,919.4 1416.2,921.0 1416.5,921.2 1416.8,918.3 1417.1,920.8 1417.4,919.8 1417.7,921.2 1418.0,920.0 1418.3,920.3 1418.6,921.0 1418.9,920.7 1419.2,920.0 1419.5,919.1 1419.8,920.0 1420.1,919.4 1420.3,920.3 1420.6,920.7 1420.9,921.2 1421.2,921.5 1421.5,920.7 1421.8,919.4 1422.1,919.4 1422.4,919.8 1422.7,920.2 1423.0,919.8 1423.3,919.1 1423.6,920.0 1423.9,919.1 1424.2,919.9 1424.5,918.6 1424.8,920.3 1425.1,921.0 1425.4,921.2 1425.7,919.6 1426.0,917.9 1426.3,919.4 1426.6,918.4 1426.8,919.1 1427.1,919.9 1427.4,921.5 1427.7,921.0 1428.0,919.3 1428.3,921.4 1428.6,919.7 1428.9,920.2 1429.2,918.1 1429.5,919.6 1429.8,919.7 1430.1,920.6 1430.4,921.6 1430.7,919.7 1431.0,919.3 1431.3,920.0 1431.6,919.2 1431.9,919.8 1432.2,920.5 1432.5,919.2 1432.8,920.8 1433.1,920.5 1433.3,919.8 1433.6,921.1 1433.9,919.1 1434.2,921.0 1434.5,920.2 1434.8,919.3 1435.1,920.2 1435.4,919.9 1435.7,920.0 1436.0,919.2 1436.3,921.9 1436.6,920.1 1436.9,921.2 1437.2,920.9 1437.5,920.4 1437.8,919.3 1438.1,920.6 1438.4,919.8 1438.7,921.2 1439.0,919.9 1439.3,919.8 1439.6,919.1 1439.9,920.1 1440.1,919.1 1440.4,920.9 1440.7,918.8 1441.0,920.5 1441.3,920.1 1441.6,920.5 1441.9,918.9 1442.2,919.7 1442.5,921.0 1442.8,919.5 1443.1,919.7 1443.4,920.0 1443.7,920.4 1444.0,919.0 1444.3,921.6 1444.6,918.9 1444.9,917.5 1445.2,920.3 1445.5,918.9 1445.8,920.8 1446.1,918.6 1446.4,919.1 1446.6,919.5 1446.9,920.4 1447.2,918.9 1447.5,919.1 1447.8,919.0 1448.1,919.1 1448.4,920.5 1448.7,919.7 1449.0,919.3 1449.3,919.7 1449.6,920.5 1449.9,919.5 1450.2,919.8 1450.5,920.6 1450.8,920.5 1451.1,920.5 1451.4,919.1 1451.7,919.1 1452.0,919.7 1452.3,919.8 1452.6,919.6 1452.9,919.9 1453.2,921.5 1453.4,918.1 1453.7,918.9 1454.0,920.3 1454.3,919.3 1454.6,919.9 1454.9,919.6 1455.2,918.3 1455.5,920.7 1455.8,918.0 1456.1,920.1 1456.4,919.3 1456.7,919.3 1457.0,919.2 1457.3,919.3 1457.6,920.2 1457.9,919.8 1458.2,920.3 1458.5,919.6 1458.8,919.7 1459.1,920.9 1459.4,918.5 1459.7,920.0 1459.9,920.2 1460.2,917.8 1460.5,920.0 1460.8,919.7 1461.1,921.5 1461.4,919.9 1461.7,918.1 1462.0,918.7 1462.3,919.5 1462.6,920.2 1462.9,920.1 1463.2,919.6 1463.5,921.8 1463.8,921.1 1464.1,920.5 1464.4,919.6 1464.7,919.6 1465.0,919.8 1465.3,920.6 1465.6,920.2 1465.9,919.7 1466.2,917.9 1466.5,920.7 1466.7,920.4 1467.0,918.5 1467.3,921.3 1467.6,922.0 1467.9,918.7 1468.2,921.0 1468.5,918.4 1468.8,919.9 1469.1,919.1 1469.4,920.4 1469.7,918.7 1470.0,919.0 1470.3,919.4 1470.6,918.2 1470.9,918.8 1471.2,920.2 1471.5,919.7 1471.8,919.0 1472.1,920.0 1472.4,917.8 1472.7,918.9 1473.0,920.4 1473.2,919.1 1473.5,922.1 1473.8,919.5 1474.1,921.3 1474.4,920.8 1474.7,920.7 1475.0,919.9 1475.3,921.7 1475.6,920.2 1475.9,920.6 1476.2,922.3 1476.5,922.5 1476.8,920.0 1477.1,921.3 1477.4,919.4 1477.7,920.5 1478.0,920.1 1478.3,920.8 1478.6,921.6 1478.9,919.8 1479.2,919.2 1479.5,920.1 1479.8,919.6 1480.0,920.8 1480.3,918.9 1480.6,918.9 1480.9,920.0 1481.2,918.5 1481.5,921.0 1481.8,919.5 1482.1,917.8 1482.4,919.2 1482.7,919.0 1483.0,918.8 1483.3,919.7 1483.6,918.8 1483.9,917.9 1484.2,917.6 1484.5,918.2 1484.8,918.2 1485.1,918.4 1485.4,915.9 1485.7,913.6 1486.0,910.7 1486.3,910.7 1486.5,905.9 1486.8,902.5 1487.1,895.8 1487.4,891.9 1487.7,885.9 1488.0,883.7 1488.3,881.8 1488.6,883.6 1488.9,887.3 1489.2,890.5 1489.5,896.0 1489.8,899.6 1490.1,902.6 1490.4,905.2 1490.7,907.7 1491.0,908.1 1491.3,908.4 1491.6,906.6 1491.9,904.0 1492.2,902.3 1492.5,902.9 1492.8,901.6 1493.1,902.4 1493.3,903.6 1493.6,904.8 1493.9,908.5 1494.2,909.5 1494.5,910.2 1494.8,910.5 1495.1,914.8 1495.4,915.8 1495.7,917.4 1496.0,917.9 1496.3,918.4 1496.6,916.7 1496.9,918.2 1497.2,918.7 1497.5,918.0 1497.8,919.7 1498.1,916.6 1498.4,919.6 1498.7,919.0 1499.0,917.3 1499.3,918.2 1499.6,920.0 1499.8,918.7 1500.1,918.0 1500.4,919.3 1500.7,918.9 1501.0,918.3 1501.3,918.3 1501.6,919.7 1501.9,919.8 1502.2,917.7 1502.5,919.0 1502.8,919.9 1503.1,920.2 1503.4,921.0 1503.7,918.6 1504.0,918.9 1504.3,918.1 1504.6,920.0 1504.9,920.1 1505.2,919.4 1505.5,920.4 1505.8,919.0 1506.1,918.5 1506.4,918.8 1506.6,920.0 1506.9,917.0 1507.2,918.5 1507.5,920.3 1507.8,918.7 1508.1,920.5 1508.4,921.2 1508.7,920.8 1509.0,919.3 1509.3,920.5 1509.6,919.9 1509.9,919.9 1510.2,919.7 1510.5,919.8 1510.8,918.8 1511.1,919.2 1511.4,920.4 1511.7,919.4 1512.0,918.5 1512.3,919.5 1512.6,918.8 1512.9,918.8 1513.1,919.4 1513.4,919.9 1513.7,919.4 1514.0,919.2 1514.3,920.3 1514.6,919.4 1514.9,920.0 1515.2,918.6 1515.5,919.4 1515.8,920.2 1516.1,918.7 1516.4,919.6 1516.7,921.0 1517.0,918.2 1517.3,919.2 1517.6,919.1 1517.9,919.5 1518.2,918.6 1518.5,919.4 1518.8,918.8 1519.1,918.9 1519.4,918.7 1519.7,919.1 1519.9,920.0 1520.2,919.1 1520.5,917.9 1520.8,919.6 1521.1,919.0 1521.4,919.5 1521.7,919.3 1522.0,919.4 1522.3,920.1 1522.6,920.8 1522.9,920.6 1523.2,920.0 1523.5,920.0 1523.8,919.3 1524.1,919.3 1524.4,920.1 1524.7,919.2 1525.0,921.1 1525.3,919.9 1525.6,918.6 1525.9,919.5 1526.2,919.6 1526.4,920.0 1526.7,919.8 1527.0,919.5 1527.3,917.9 1527.6,918.3 1527.9,919.7 1528.2,919.0 1528.5,921.2 1528.8,919.2 1529.1,919.9 1529.4,920.3 1529.7,920.0 1530.0,920.6 1530.3,920.4 1530.6,921.2 1530.9,919.9 1531.2,920.4 1531.5,919.3 1531.8,919.5 1532.1,919.6 1532.4,920.7 1532.7,919.6 1533.0,920.1 1533.2,919.4 1533.5,919.0 1533.8,920.4 1534.1,919.1 1534.4,918.5 1534.7,919.4 1535.0,919.6 1535.3,920.7 1535.6,919.1 1535.9,920.7 1536.2,920.6 1536.5,917.8 1536.8,920.0 1537.1,919.9 1537.4,919.7 1537.7,919.7 1538.0,921.0 1538.3,920.2 1538.6,918.2 1538.9,919.5 1539.2,919.7 1539.5,919.9 1539.7,919.6 1540.0,917.0 1540.3,920.4 1540.6,919.2 1540.9,919.1 1541.2,920.2 1541.5,919.2 1541.8,919.5 1542.1,919.0 1542.4,919.1 1542.7,920.5 1543.0,919.7 1543.3,919.8 1543.6,919.5 1543.9,920.4 1544.2,921.2 1544.5,921.0 1544.8,918.9 1545.1,919.5 1545.4,920.4 1545.7,919.5 1546.0,919.8 1546.2,919.5 1546.5,920.4 1546.8,919.6 1547.1,918.6 1547.4,920.9 1547.7,919.6 1548.0,919.9 1548.3,920.0 1548.6,921.1 1548.9,918.4 1549.2,921.8 1549.5,918.7 1549.8,918.2 1550.1,919.4 1550.4,919.0 1550.7,919.2 1551.0,919.5 1551.3,920.1 1551.6,918.4 1551.9,919.4 1552.2,919.8 1552.5,919.7 1552.8,919.1 1553.0,919.3 1553.3,919.6 1553.6,918.7 1553.9,919.2 1554.2,919.3 1554.5,919.3 1554.8,918.5 1555.1,918.9 1555.4,919.5 1555.7,919.4 1556.0,920.4 1556.3,921.3 1556.6,918.9 1556.9,920.9 1557.2,919.1 1557.5,918.9 1557.8,919.4 1558.1,919.9 1558.4,918.0 1558.7,920.3 1559.0,918.5 1559.3,917.8 1559.5,918.1 1559.8,920.3 1560.1,919.5 1560.4,920.2 1560.7,920.5 1561.0,918.7 1561.3,920.4 1561.6,919.6 1561.9,920.3 1562.2,918.4 1562.5,920.4 1562.8,918.9 1563.1,917.7 1563.4,920.3 1563.7,920.3 1564.0,918.7 1564.3,918.4 1564.6,919.5 1564.9,920.3 1565.2,919.4 1565.5,920.0 1565.8,919.0 1566.1,919.1 1566.3,920.4 1566.6,918.9 1566.9,918.0 1567.2,920.6 1567.5,919.3 1567.8,918.8 1568.1,920.5 1568.4,918.0 1568.7,918.8 1569.0,919.1 1569.3,918.7 1569.6,919.4 1569.9,920.5 1570.2,920.9 1570.5,919.2 1570.8,919.6 1571.1,919.6 1571.4,920.5 1571.7,919.8 1572.0,918.8 1572.3,919.8 1572.6,919.2 1572.8,919.7 1573.1,918.8 1573.4,920.9 1573.7,920.6 1574.0,919.7 1574.3,918.2 1574.6,920.6 1574.9,919.5 1575.2,919.7 1575.5,921.3 1575.8,919.9 1576.1,921.3 1576.4,919.1 1576.7,921.5 1577.0,921.0 1577.3,920.7 1577.6,921.3 1577.9,919.6 1578.2,920.4 1578.5,919.7 1578.8,919.7 1579.1,922.0 1579.4,917.7 1579.6,920.7 1579.9,921.2 1580.2,919.0 1580.5,918.3 1580.8,920.0 1581.1,920.0 1581.4,921.3 1581.7,919.2 1582.0,919.3 1582.3,919.5 1582.6,920.6 1582.9,916.8 1583.2,920.1 1583.5,919.0 1583.8,918.9 1584.1,919.8 1584.4,918.3 1584.7,919.9 1585.0,919.4 1585.3,919.1 1585.6,918.5 1585.9,918.4 1586.1,919.9 1586.4,918.7 1586.7,918.4 1587.0,918.9 1587.3,918.5 1587.6,919.9 1587.9,920.0 1588.2,919.9 1588.5,919.9 1588.8,919.5 1589.1,919.8 1589.4,918.6 1589.7,920.5 1590.0,920.0 1590.3,920.2 1590.6,919.4 1590.9,920.3 1591.2,919.3 1591.5,919.9 1591.8,920.5 1592.1,920.1 1592.4,919.3 1592.7,920.1 1592.9,919.4 1593.2,920.2 1593.5,920.6 1593.8,919.1 1594.1,919.9 1594.4,920.1 1594.7,920.4 1595.0,919.3 1595.3,918.7 1595.6,920.1 1595.9,921.5 1596.2,918.8 1596.5,919.5 1596.8,921.7 1597.1,919.1 1597.4,919.0 1597.7,919.3 1598.0,919.9 1598.3,920.7 1598.6,919.1 1598.9,919.1 1599.2,919.9 1599.4,918.3 1599.7,919.9 1600.0,919.5 1600.3,919.2 1600.6,918.8 1600.9,920.0 1601.2,919.5 1601.5,919.4 1601.8,919.9 1602.1,919.5 1602.4,918.2 1602.7,920.2"/>
<polyline class="cv" stroke="#e63147" stroke-width="5" points="420.5,421.9 420.8,416.3 421.1,416.5 421.4,416.9 421.7,426.3 422.0,410.5 422.3,416.5 422.6,414.2 422.9,416.1 423.2,411.7 423.5,411.5 423.8,421.9 424.0,428.5 424.3,418.3 424.6,428.6 424.9,422.4 425.2,425.4 425.5,426.7 425.8,424.8 426.1,419.6 426.4,423.2 426.7,425.5 427.0,418.6 427.3,434.7 427.6,430.2 427.9,428.8 428.2,420.4 428.5,431.2 428.8,425.3 429.1,420.9 429.4,431.7 429.7,430.6 430.0,419.1 430.3,426.5 430.5,424.7 430.8,425.2 431.1,422.4 431.4,422.5 431.7,429.9 432.0,436.4 432.3,444.2 432.6,437.3 432.9,431.6 433.2,427.6 433.5,428.9 433.8,435.4 434.1,425.1 434.4,421.3 434.7,439.1 435.0,438.2 435.3,430.4 435.6,445.8 435.9,434.0 436.2,433.5 436.5,442.9 436.8,423.0 437.1,443.5 437.3,440.9 437.6,424.0 437.9,436.8 438.2,435.1 438.5,446.2 438.8,435.6 439.1,442.0 439.4,444.4 439.7,441.2 440.0,435.7 440.3,440.1 440.6,442.2 440.9,441.9 441.2,442.8 441.5,441.5 441.8,430.8 442.1,439.8 442.4,432.3 442.7,449.6 443.0,438.0 443.3,452.3 443.6,444.1 443.8,442.3 444.1,448.2 444.4,452.4 444.7,444.6 445.0,434.4 445.3,445.5 445.6,450.9 445.9,444.2 446.2,444.0 446.5,439.3 446.8,447.0 447.1,445.6 447.4,445.9 447.7,443.0 448.0,442.7 448.3,443.4 448.6,451.7 448.9,439.0 449.2,450.4 449.5,446.4 449.8,453.9 450.1,452.5 450.4,443.1 450.6,446.5 450.9,444.2 451.2,449.2 451.5,456.9 451.8,448.1 452.1,458.8 452.4,457.3 452.7,449.1 453.0,449.4 453.3,452.1 453.6,461.4 453.9,448.9 454.2,459.8 454.5,458.9 454.8,451.6 455.1,460.8 455.4,452.2 455.7,460.3 456.0,450.9 456.3,462.9 456.6,452.8 456.9,455.4 457.1,457.7 457.4,445.4 457.7,459.9 458.0,465.1 458.3,460.8 458.6,455.1 458.9,454.5 459.2,448.8 459.5,462.2 459.8,461.7 460.1,461.8 460.4,458.2 460.7,459.4 461.0,457.2 461.3,468.1 461.6,448.7 461.9,453.1 462.2,445.0 462.5,460.0 462.8,455.3 463.1,466.4 463.4,456.5 463.7,457.1 463.9,467.0 464.2,462.8 464.5,455.2 464.8,466.8 465.1,462.9 465.4,463.8 465.7,458.9 466.0,450.9 466.3,455.2 466.6,457.7 466.9,465.9 467.2,472.6 467.5,461.5 467.8,461.2 468.1,453.3 468.4,462.8 468.7,464.6 469.0,460.4 469.3,458.2 469.6,466.2 469.9,469.4 470.2,454.4 470.4,467.0 470.7,461.4 471.0,465.9 471.3,463.4 471.6,467.9 471.9,468.3 472.2,457.3 472.5,471.0 472.8,456.0 473.1,462.2 473.4,479.6 473.7,476.6 474.0,466.5 474.3,472.1 474.6,461.5 474.9,475.5 475.2,463.3 475.5,471.2 475.8,471.3 476.1,471.3 476.4,469.1 476.7,467.2 477.0,470.9 477.2,471.3 477.5,463.0 477.8,470.5 478.1,469.2 478.4,474.1 478.7,474.6 479.0,470.9 479.3,473.2 479.6,471.1 479.9,473.4 480.2,477.2 480.5,474.6 480.8,479.9 481.1,471.9 481.4,473.8 481.7,481.5 482.0,477.8 482.3,466.5 482.6,460.8 482.9,486.7 483.2,483.9 483.5,462.0 483.7,470.6 484.0,471.1 484.3,478.1 484.6,476.3 484.9,478.2 485.2,476.9 485.5,480.1 485.8,466.4 486.1,466.9 486.4,473.5 486.7,480.8 487.0,479.6 487.3,473.4 487.6,482.4 487.9,471.1 488.2,474.3 488.5,484.0 488.8,481.4 489.1,481.4 489.4,483.4 489.7,485.0 490.0,477.1 490.2,480.7 490.5,480.6 490.8,476.1 491.1,477.7 491.4,483.9 491.7,475.8 492.0,478.3 492.3,486.8 492.6,480.3 492.9,480.6 493.2,476.6 493.5,478.9 493.8,487.2 494.1,486.0 494.4,482.5 494.7,480.2 495.0,480.5 495.3,479.7 495.6,476.3 495.9,486.0 496.2,484.2 496.5,486.9 496.8,482.0 497.0,487.2 497.3,492.2 497.6,474.7 497.9,481.5 498.2,482.7 498.5,484.2 498.8,480.0 499.1,491.0 499.4,485.8 499.7,488.5 500.0,490.6 500.3,490.5 500.6,484.6 500.9,489.6 501.2,491.5 501.5,486.4 501.8,486.8 502.1,483.8 502.4,487.8 502.7,493.0 503.0,497.5 503.3,488.3 503.5,490.4 503.8,486.2 504.1,494.7 504.4,486.0 504.7,479.1 505.0,490.2 505.3,498.2 505.6,489.5 505.9,491.9 506.2,494.0 506.5,486.8 506.8,483.8 507.1,490.4 507.4,495.7 507.7,490.8 508.0,500.8 508.3,485.5 508.6,489.4 508.9,490.3 509.2,496.7 509.5,493.3 509.8,490.9 510.1,495.9 510.3,490.6 510.6,490.1 510.9,491.9 511.2,497.0 511.5,495.7 511.8,495.9 512.1,495.1 512.4,491.9 512.7,493.9 513.0,493.4 513.3,496.1 513.6,494.6 513.9,497.2 514.2,500.6 514.5,497.0 514.8,494.5 515.1,491.2 515.4,495.9 515.7,493.4 516.0,490.1 516.3,498.4 516.6,495.6 516.8,493.2 517.1,489.7 517.4,498.9 517.7,500.7 518.0,503.1 518.3,500.0 518.6,492.3 518.9,498.7 519.2,496.3 519.5,498.2 519.8,498.9 520.1,495.8 520.4,505.7 520.7,503.7 521.0,495.5 521.3,502.5 521.6,499.3 521.9,505.2 522.2,493.9 522.5,497.5 522.8,503.5 523.1,508.8 523.4,499.1 523.6,499.7 523.9,502.1 524.2,496.5 524.5,503.3 524.8,503.0 525.1,506.8 525.4,502.1 525.7,495.3 526.0,505.1 526.3,504.6 526.6,501.3 526.9,495.4 527.2,503.8 527.5,501.9 527.8,499.9 528.1,501.7 528.4,503.2 528.7,499.0 529.0,503.6 529.3,505.0 529.6,505.4 529.9,498.7 530.1,498.2 530.4,505.7 530.7,494.7 531.0,503.3 531.3,505.5 531.6,496.8 531.9,500.1 532.2,504.2 532.5,500.7 532.8,507.6 533.1,503.1 533.4,506.0 533.7,505.9 534.0,506.3 534.3,495.7 534.6,507.6 534.9,502.4 535.2,509.6 535.5,503.9 535.8,500.1 536.1,509.2 536.4,507.9 536.7,507.9 536.9,507.0 537.2,508.7 537.5,504.2 537.8,505.4 538.1,508.6 538.4,509.0 538.7,513.5 539.0,501.5 539.3,503.2 539.6,505.8 539.9,510.1 540.2,504.4 540.5,508.1 540.8,511.3 541.1,507.5 541.4,506.8 541.7,510.9 542.0,506.6 542.3,505.4 542.6,512.9 542.9,500.4 543.2,507.9 543.4,507.3 543.7,507.2 544.0,513.2 544.3,508.3 544.6,508.1 544.9,507.2 545.2,509.8 545.5,507.9 545.8,511.1 546.1,516.7 546.4,504.3 546.7,512.1 547.0,508.7 547.3,509.1 547.6,508.5 547.9,506.7 548.2,509.9 548.5,511.9 548.8,512.6 549.1,509.3 549.4,509.6 549.7,508.6 550.0,506.6 550.2,514.8 550.5,509.6 550.8,511.1 551.1,510.6 551.4,510.0 551.7,511.7 552.0,506.3 552.3,513.0 552.6,513.4 552.9,513.9 553.2,512.8 553.5,514.3 553.8,512.8 554.1,508.5 554.4,511.9 554.7,514.9 555.0,510.8 555.3,506.5 555.6,513.7 555.9,511.8 556.2,508.3 556.5,511.0 556.7,509.8 557.0,512.7 557.3,515.9 557.6,515.3 557.9,511.7 558.2,509.0 558.5,510.2 558.8,506.9 559.1,509.1 559.4,513.2 559.7,511.2 560.0,513.4 560.3,514.4 560.6,511.0 560.9,509.9 561.2,519.2 561.5,513.1 561.8,511.8 562.1,513.4 562.4,517.4 562.7,512.9 563.0,512.2 563.3,515.6 563.5,514.4 563.8,515.3 564.1,512.4 564.4,512.9 564.7,518.8 565.0,512.0 565.3,515.1 565.6,511.9 565.9,515.8 566.2,516.1 566.5,520.0 566.8,516.2 567.1,509.0 567.4,520.1 567.7,515.1 568.0,515.0 568.3,515.5 568.6,514.6 568.9,515.4 569.2,512.7 569.5,516.5 569.8,513.8 570.0,512.1 570.3,511.6 570.6,519.1 570.9,516.2 571.2,512.1 571.5,514.0 571.8,517.2 572.1,517.9 572.4,514.1 572.7,516.5 573.0,515.4 573.3,518.0 573.6,516.7 573.9,517.3 574.2,514.0 574.5,515.2 574.8,515.8 575.1,523.3 575.4,515.5 575.7,522.2 576.0,516.5 576.3,522.7 576.6,523.0 576.8,513.8 577.1,519.4 577.4,516.3 577.7,517.2 578.0,517.6 578.3,518.1 578.6,512.7 578.9,517.5 579.2,518.8 579.5,520.8 579.8,517.0 580.1,514.1 580.4,520.1 580.7,517.9 581.0,517.8 581.3,522.2 581.6,516.3 581.9,517.3 582.2,518.2 582.5,515.9 582.8,517.7 583.1,515.8 583.3,515.7 583.6,519.8 583.9,517.5 584.2,518.7 584.5,519.5 584.8,515.1 585.1,520.0 585.4,519.4 585.7,520.3 586.0,515.7 586.3,518.8 586.6,518.0 586.9,521.8 587.2,520.6 587.5,519.6 587.8,515.5 588.1,514.8 588.4,517.7 588.7,515.9 589.0,519.0 589.3,520.3 589.6,516.9 589.9,515.6 590.1,521.9 590.4,519.3 590.7,516.7 591.0,519.4 591.3,514.8 591.6,518.6 591.9,517.5 592.2,517.7 592.5,526.5 592.8,525.2 593.1,516.7 593.4,517.5 593.7,524.8 594.0,523.4 594.3,527.5 594.6,520.8 594.9,518.4 595.2,519.6 595.5,522.2 595.8,518.0 596.1,520.7 596.4,523.3 596.6,516.2 596.9,519.1 597.2,514.6 597.5,519.4 597.8,519.3 598.1,521.6 598.4,522.7 598.7,521.2 599.0,522.1 599.3,518.6 599.6,514.4 599.9,520.2 600.2,520.3 600.5,521.3 600.8,522.1 601.1,522.9 601.4,520.2 601.7,519.7 602.0,523.4 602.3,518.2 602.6,515.5 602.9,518.4 603.1,518.3 603.4,519.7 603.7,519.9 604.0,520.7 604.3,519.5 604.6,515.9 604.9,519.4 605.2,516.1 605.5,521.1 605.8,514.9 606.1,519.5 606.4,519.7 606.7,522.7 607.0,519.4 607.3,519.4 607.6,522.8 607.9,521.6 608.2,523.2 608.5,520.6 608.8,521.0 609.1,521.0 609.4,517.0 609.7,519.8 609.9,519.0 610.2,517.5 610.5,519.6 610.8,516.2 611.1,521.3 611.4,520.9 611.7,519.5 612.0,521.5 612.3,517.9 612.6,518.0 612.9,522.1 613.2,521.4 613.5,523.7 613.8,520.7 614.1,519.6 614.4,520.6 614.7,520.9 615.0,518.4 615.3,519.7 615.6,522.4 615.9,518.3 616.2,520.4 616.4,520.3 616.7,517.2 617.0,519.9 617.3,520.5 617.6,522.9 617.9,520.6 618.2,522.5 618.5,522.6 618.8,520.0 619.1,520.6 619.4,522.7 619.7,524.1 620.0,520.2 620.3,520.3 620.6,520.0 620.9,519.8 621.2,518.8 621.5,520.9 621.8,520.2 622.1,520.0 622.4,519.5 622.7,526.0 623.0,522.6 623.2,520.6 623.5,523.4 623.8,518.9 624.1,520.6 624.4,522.2 624.7,522.1 625.0,521.8 625.3,521.7 625.6,521.8 625.9,525.3 626.2,525.6 626.5,521.3 626.8,520.1 627.1,518.3 627.4,519.7 627.7,520.1 628.0,520.2 628.3,522.7 628.6,519.6 628.9,521.1 629.2,517.5 629.5,518.5 629.7,517.1 630.0,512.4 630.3,510.6 630.6,513.9 630.9,509.3 631.2,516.1 631.5,517.7 631.8,512.7 632.1,519.9 632.4,520.1 632.7,521.3 633.0,520.1 633.3,521.4 633.6,522.7 633.9,521.6 634.2,521.2 634.5,523.8 634.8,523.3 635.1,525.6 635.4,522.5 635.7,522.8 636.0,521.2 636.3,524.9 636.5,522.3 636.8,522.0 637.1,525.1 637.4,522.6 637.7,522.8 638.0,522.7 638.3,523.1 638.6,523.4 638.9,525.3 639.2,524.2 639.5,520.5 639.8,521.2 640.1,524.0 640.4,525.9 640.7,522.6 641.0,520.6 641.3,524.4 641.6,524.4 641.9,523.6 642.2,519.4 642.5,521.0 642.8,518.9 643.0,522.1 643.3,523.9 643.6,521.7 643.9,518.7 644.2,520.9 644.5,521.9 644.8,521.2 645.1,524.0 645.4,524.5 645.7,523.4 646.0,523.7 646.3,520.9 646.6,523.2 646.9,522.4 647.2,521.3 647.5,518.5 647.8,521.8 648.1,520.6 648.4,524.6 648.7,520.5 649.0,519.0 649.3,519.7 649.6,520.4 649.8,520.1 650.1,521.2 650.4,520.9 650.7,521.6 651.0,522.8 651.3,521.5 651.6,519.1 651.9,522.8 652.2,522.6 652.5,521.1 652.8,519.2 653.1,520.0 653.4,519.4 653.7,520.6 654.0,517.9 654.3,524.4 654.6,520.9 654.9,520.9 655.2,519.6 655.5,515.7 655.8,523.8 656.1,522.5 656.3,518.7 656.6,518.6 656.9,519.5 657.2,516.9 657.5,512.7 657.8,513.2 658.1,515.4 658.4,512.8 658.7,510.2 659.0,507.4 659.3,506.6 659.6,502.9 659.9,503.1 660.2,498.7 660.5,496.8 660.8,494.2 661.1,496.9 661.4,492.2 661.7,495.8 662.0,494.9 662.3,498.7 662.6,499.5 662.9,498.9 663.1,502.8 663.4,501.4 663.7,504.7 664.0,508.3 664.3,508.6 664.6,507.5 664.9,509.6 665.2,510.8 665.5,513.1 665.8,510.8 666.1,511.8 666.4,514.6 666.7,511.2 667.0,517.0 667.3,513.2 667.6,515.3 667.9,516.1 668.2,511.9 668.5,516.4 668.8,513.5 669.1,514.7 669.4,509.6 669.6,515.6 669.9,514.7 670.2,514.6 670.5,515.5 670.8,514.8 671.1,516.4 671.4,514.4 671.7,514.7 672.0,517.1 672.3,516.6 672.6,515.9 672.9,517.2 673.2,513.8 673.5,517.9 673.8,519.0 674.1,513.7 674.4,517.9 674.7,517.5 675.0,519.3 675.3,514.9 675.6,516.1 675.9,515.0 676.2,517.3 676.4,518.5 676.7,519.7 677.0,521.6 677.3,516.5 677.6,516.5 677.9,518.7 678.2,523.1 678.5,516.9 678.8,519.9 679.1,519.1 679.4,520.8 679.7,516.5 680.0,521.5 680.3,519.7 680.6,520.8 680.9,521.4 681.2,521.2 681.5,518.6 681.8,520.0 682.1,523.9 682.4,521.3 682.7,519.2 682.9,527.2 683.2,519.8 683.5,522.2 683.8,521.6 684.1,523.0 684.4,520.5 684.7,521.7 685.0,521.5 685.3,522.2 685.6,523.1 685.9,522.0 686.2,520.7 686.5,518.5 686.8,518.9 687.1,519.4 687.4,515.5 687.7,520.9 688.0,520.2 688.3,519.8 688.6,517.7 688.9,519.2 689.2,518.1 689.5,520.9 689.7,522.7 690.0,520.1 690.3,523.3 690.6,521.7 690.9,521.6 691.2,526.8 691.5,523.3 691.8,525.9 692.1,524.4 692.4,522.6 692.7,525.8 693.0,523.5 693.3,524.1 693.6,526.3 693.9,525.8 694.2,527.6 694.5,523.3 694.8,524.2 695.1,527.3 695.4,524.0 695.7,524.5 696.0,524.5 696.2,526.5 696.5,524.4 696.8,527.8 697.1,524.7 697.4,527.0 697.7,523.9 698.0,526.0 698.3,524.1 698.6,522.8 698.9,525.6 699.2,526.9 699.5,524.2 699.8,522.6 700.1,526.0 700.4,523.8 700.7,524.5 701.0,526.3 701.3,524.4 701.6,525.7 701.9,524.8 702.2,525.1 702.5,526.1 702.8,524.2 703.0,524.6 703.3,524.7 703.6,526.3 703.9,524.1 704.2,525.4 704.5,527.6 704.8,525.1 705.1,524.3 705.4,520.9 705.7,522.6 706.0,527.7 706.3,525.6 706.6,523.7 706.9,523.5 707.2,522.5 707.5,522.1 707.8,521.2 708.1,520.6 708.4,519.9 708.7,521.6 709.0,520.5 709.3,522.5 709.5,520.3 709.8,520.2 710.1,519.0 710.4,519.5 710.7,517.1 711.0,519.7 711.3,516.4 711.6,513.7 711.9,515.9 712.2,511.6 712.5,513.6 712.8,510.6 713.1,512.5 713.4,514.7 713.7,513.4 713.8,515.0 714.0,514.0 714.3,512.9 714.6,514.6 714.9,515.3 715.2,513.6 715.5,516.6 715.8,517.1 716.0,514.8 716.3,516.3 716.6,518.7 716.9,515.8 717.2,515.4 717.5,520.0 717.8,519.1 718.1,520.5 718.4,519.7 718.7,523.3 719.0,518.2 719.3,521.7 719.6,521.2 719.9,519.7 720.2,520.3 720.5,522.3 720.8,523.2 721.1,525.9 721.4,524.3 721.7,524.1 722.0,525.0 722.3,524.9 722.6,525.2 722.8,524.5 723.1,525.8 723.4,524.3 723.7,524.5 724.0,524.6 724.3,525.6 724.6,527.0 724.9,524.3 725.2,529.2 725.5,528.0 725.8,526.0 726.1,526.0 726.4,527.3 726.7,526.5 727.0,523.0 727.3,524.7 727.6,524.3 727.9,526.4 728.2,526.7 728.5,526.9 728.8,527.3 729.1,527.3 729.3,525.5 729.6,525.1 729.9,525.0 730.2,528.7 730.5,527.2 730.8,525.2 731.1,526.7 731.4,524.5 731.7,525.8 732.0,525.0 732.3,525.8 732.6,525.0 732.9,520.2 733.2,524.0 733.5,525.0 733.8,523.8 734.1,521.2 734.4,524.5 734.7,525.2 735.0,525.3 735.3,524.1 735.6,521.8 735.9,521.9 736.1,522.6 736.4,525.8 736.7,525.5 737.0,524.1 737.3,524.4 737.6,524.6 737.9,526.3 738.2,526.4 738.5,525.1 738.8,527.7 739.1,525.1 739.4,524.8 739.7,528.5 740.0,523.7 740.3,525.1 740.6,528.7 740.9,526.2 741.2,526.5 741.5,524.7 741.8,525.9 742.1,526.2 742.4,526.8 742.6,523.1 742.9,526.9 743.2,524.8 743.5,526.6 743.8,526.4 744.1,526.6 744.4,525.3 744.7,527.5 745.0,525.9 745.3,528.1 745.6,527.5 745.9,528.8 746.2,525.9 746.5,524.4 746.8,526.3 747.1,526.2 747.4,525.1 747.7,526.2 748.0,527.0 748.3,525.1 748.6,527.1 748.9,527.9 749.2,526.1 749.4,528.9 749.7,526.4 750.0,525.3 750.3,527.7 750.6,526.6 750.9,524.9 751.2,526.9 751.5,527.8 751.8,527.1 752.1,528.2 752.4,526.4 752.7,528.2 753.0,527.4 753.3,525.9 753.6,525.0 753.9,526.6 754.2,528.0 754.5,525.1 754.8,524.7 755.1,527.1 755.4,526.7 755.7,524.7 755.9,525.3 756.2,526.4 756.5,527.0 756.8,528.9 757.1,528.3 757.4,527.8 757.7,527.3 758.0,525.7 758.3,526.0 758.6,524.1 758.9,526.7 759.2,527.0 759.5,526.5 759.8,525.1 760.1,522.2 760.4,525.3 760.7,522.5 761.0,517.3 761.3,519.8 761.6,518.4 761.9,517.5 762.2,518.2 762.5,518.7 762.7,520.8 763.0,520.5 763.3,522.0 763.6,523.8 763.9,522.7 764.2,528.0 764.5,526.3 764.8,526.4 765.1,525.6 765.4,529.0 765.7,526.5 766.0,527.6 766.3,527.1 766.6,525.5 766.9,525.1 767.2,526.2 767.5,526.3 767.8,526.1 768.1,526.8 768.4,528.0 768.7,529.0 769.0,524.5 769.2,528.1 769.5,528.5 769.8,527.4 770.1,528.2 770.4,526.5 770.7,528.2 771.0,526.0 771.3,524.4 771.6,525.0 771.9,529.9 772.2,525.6 772.5,524.1 772.8,527.3 773.1,528.2 773.4,526.9 773.7,527.6 774.0,528.6 774.3,527.5 774.6,527.7 774.9,528.2 775.2,527.7 775.5,525.4 775.8,528.4 776.0,525.3 776.3,528.2 776.6,528.1 776.9,528.8 777.2,527.2 777.5,527.7 777.8,526.3 778.1,527.4 778.4,527.1 778.7,527.7 779.0,526.9 779.3,527.2 779.6,525.7 779.9,527.0 780.2,531.2 780.5,528.4 780.8,526.0 781.1,526.0 781.4,527.9 781.7,529.1 782.0,527.3 782.3,528.4 782.5,527.3 782.8,524.7 783.1,525.0 783.4,525.7 783.7,525.9 784.0,529.2 784.3,525.3 784.6,528.3 784.9,526.1 785.2,527.5 785.5,525.3 785.8,525.1 786.1,523.0 786.4,523.0 786.7,522.4 787.0,521.5 787.3,521.2 787.6,519.3 787.9,518.4 788.2,516.4 788.5,511.4 788.8,506.2 789.1,507.4 789.3,503.6 789.6,500.7 789.9,500.0 790.2,497.6 790.5,495.9 790.8,497.5 791.0,494.4 791.1,495.0 791.4,493.4 791.7,496.7 792.0,497.2 792.3,495.2 792.6,497.6 792.9,496.6 793.2,499.1 793.5,499.1 793.8,497.5 794.1,497.4 794.4,491.1 794.7,491.6 795.0,491.7 795.3,487.1 795.6,487.5 795.8,487.7 796.1,489.9 796.4,491.5 796.7,491.4 797.0,492.0 797.3,494.5 797.6,496.2 797.9,496.9 798.2,504.8 798.5,505.8 798.8,507.2 799.1,510.3 799.4,513.4 799.7,511.8 800.0,518.5 800.3,515.9 800.6,515.9 800.9,520.3 801.2,519.8 801.5,520.1 801.8,519.6 802.1,519.5 802.4,520.9 802.6,522.0 802.9,519.8 803.2,524.2 803.5,521.5 803.8,522.5 804.1,522.1 804.4,523.3 804.7,521.1 805.0,520.7 805.3,521.7 805.6,522.4 805.9,523.4 806.2,523.8 806.5,524.4 806.8,523.6 807.1,525.0 807.4,521.9 807.7,522.8 808.0,523.0 808.3,524.7 808.6,526.4 808.9,521.6 809.1,524.3 809.4,523.8 809.7,525.7 810.0,523.8 810.3,525.4 810.6,524.5 810.9,525.2 811.2,525.0 811.5,527.2 811.8,525.6 812.1,527.2 812.4,524.3 812.7,526.7 813.0,525.9 813.3,525.7 813.6,526.3 813.9,528.8 814.2,527.7 814.5,527.5 814.8,527.1 815.1,528.6 815.4,529.4 815.7,528.4 815.9,529.1 816.2,528.4 816.5,526.7 816.8,526.2 817.1,528.8 817.4,527.6 817.7,529.6 818.0,529.2 818.3,527.1 818.6,528.9 818.9,528.5 819.2,528.1 819.5,526.7 819.8,528.9 820.1,529.9 820.4,526.6 820.7,528.3 821.0,528.5 821.3,529.4 821.6,530.7 821.9,529.6 822.2,529.0 822.4,530.9 822.7,528.1 823.0,528.1 823.3,531.3 823.6,531.3 823.9,530.1 824.2,527.8 824.5,527.7 824.8,530.4 825.1,531.0 825.4,528.3 825.7,530.5 826.0,528.6 826.3,527.8 826.6,529.3 826.9,529.5 827.2,527.1 827.5,530.7 827.8,528.6 828.1,530.1 828.4,529.7 828.7,527.5 829.0,527.6 829.2,529.5 829.5,529.0 829.8,530.5 830.1,529.2 830.4,528.3 830.7,532.3 831.0,528.3 831.3,528.3 831.6,528.1 831.9,531.3 832.2,530.5 832.5,528.6 832.8,527.5 833.1,529.4 833.4,530.3 833.7,528.0 834.0,527.4 834.3,529.0 834.6,529.4 834.9,528.7 835.2,529.8 835.5,528.5 835.7,529.2 836.0,530.6 836.3,530.6 836.6,532.3 836.9,529.5 837.2,529.3 837.5,530.5 837.8,531.8 838.1,530.5 838.4,529.7 838.7,532.0 839.0,530.5 839.3,530.3 839.6,528.8 839.9,530.9 840.2,528.6 840.5,529.3 840.8,529.0 841.1,528.8 841.4,529.8 841.7,530.2 842.0,530.4 842.2,530.0 842.5,530.5 842.8,529.2 843.1,531.5 843.4,528.6 843.7,527.9 844.0,528.2 844.3,531.0 844.6,529.1 844.9,529.3 845.2,529.4 845.5,532.1 845.8,532.1 846.1,531.3 846.4,529.9 846.7,530.0 847.0,530.2 847.3,532.3 847.6,528.6 847.9,530.9 848.2,531.4 848.5,530.6 848.8,532.6 849.0,530.2 849.3,534.7 849.6,530.3 849.9,531.1 850.2,532.1 850.5,531.9 850.8,529.8 851.1,532.0 851.4,532.5 851.7,530.4 852.0,530.9 852.3,531.4 852.6,533.5 852.9,530.8 853.2,529.9 853.5,532.0 853.8,534.0 854.1,529.8 854.4,531.1 854.7,530.0 855.0,530.1 855.3,532.5 855.5,530.1 855.8,529.5 856.1,532.2 856.4,532.1 856.7,531.0 857.0,530.7 857.3,531.5 857.6,534.3 857.9,530.6 858.2,528.9 858.5,530.8 858.8,529.7 859.1,530.1 859.4,529.8 859.7,529.5 860.0,530.6 860.3,530.4 860.6,532.1 860.9,529.0 861.2,532.0 861.5,529.8 861.8,531.4 862.1,530.6 862.3,530.4 862.6,531.5 862.9,531.4 863.2,531.2 863.5,533.2 863.8,531.1 864.1,531.3 864.4,532.0 864.7,533.1 865.0,531.3 865.3,532.3 865.6,530.3 865.9,532.6 866.2,532.7 866.5,534.4 866.8,533.6 867.1,530.7 867.4,531.4 867.7,533.2 868.0,532.1 868.3,533.1 868.6,528.9 868.8,531.0 869.1,530.6 869.4,531.4 869.7,530.0 870.0,530.5 870.3,531.0 870.6,530.5 870.9,530.7 871.2,529.8 871.5,529.4 871.8,530.2 872.1,532.6 872.4,529.9 872.7,530.1 873.0,532.1 873.3,530.1 873.6,529.0 873.9,531.2 874.2,532.4 874.5,529.4 874.8,531.0 875.1,531.3 875.4,530.0 875.6,532.8 875.9,531.4 876.2,530.3 876.5,533.4 876.8,531.1 877.1,529.2 877.4,533.4 877.7,532.2 878.0,531.9 878.3,530.5 878.6,532.4 878.9,530.4 879.2,531.6 879.5,532.5 879.8,530.8 880.1,530.5 880.4,530.6 880.7,529.8 881.0,531.1 881.3,530.7 881.6,531.1 881.9,531.5 882.1,530.8 882.4,532.5 882.7,534.4 883.0,532.5 883.3,531.9 883.6,532.8 883.9,529.4 884.2,533.5 884.5,531.7 884.8,531.6 885.1,532.8 885.4,531.5 885.7,530.0 886.0,531.4 886.3,530.6 886.6,531.7 886.9,530.6 887.2,531.0 887.5,529.9 887.8,530.5 888.1,532.8 888.4,534.4 888.7,533.0 888.9,531.9 889.2,533.2 889.5,532.3 889.8,531.8 890.1,529.0 890.4,530.8 890.7,530.0 891.0,531.9 891.3,531.4 891.6,530.7 891.9,534.5 892.2,532.7 892.5,530.2 892.8,530.7 893.1,532.3 893.4,530.4 893.7,532.9 894.0,531.1 894.3,530.9 894.6,530.3 894.9,531.3 895.2,529.0 895.4,530.4 895.7,529.8 896.0,532.4 896.3,530.5 896.6,530.1 896.9,530.3 897.2,529.2 897.5,527.5 897.8,530.1 898.1,529.1 898.4,529.4 898.7,528.6 899.0,530.4 899.3,529.2 899.6,530.7 899.9,529.4 900.2,528.1 900.5,529.6 900.8,527.4 901.1,527.8 901.4,531.2 901.7,529.7 902.0,529.2 902.2,528.1 902.5,527.1 902.8,527.1 903.1,530.5 903.4,527.7 903.7,528.3 904.0,529.2 904.3,525.0 904.6,528.9 904.9,527.9 905.2,526.8 905.5,526.9 905.8,527.0 905.9,527.8 906.1,523.8 906.4,525.3 906.7,525.8 907.0,525.8 907.3,527.0 907.6,525.2 907.9,524.9 908.2,528.3 908.5,525.6 908.7,525.9 909.0,526.4 909.3,524.6 909.6,528.9 909.9,526.4 910.2,526.3 910.5,528.4 910.8,526.5 911.1,526.4 911.4,527.3 911.7,525.9 912.0,526.9 912.3,524.8 912.6,526.3 912.9,528.9 913.2,523.8 913.5,527.7 913.8,526.6 914.1,528.3 914.4,527.3 914.7,529.8 915.0,525.5 915.3,526.2 915.5,528.3 915.8,526.3 916.1,523.0 916.4,525.2 916.7,527.5 917.0,526.9 917.3,527.6 917.6,526.0 917.9,525.7 918.2,527.2 918.5,526.8 918.8,526.4 919.1,526.2 919.4,526.1 919.7,526.6 920.0,526.6 920.3,528.7 920.6,528.0 920.9,527.1 921.2,528.0 921.5,528.8 921.8,528.8 922.0,527.3 922.3,527.5 922.6,527.3 922.9,527.5 923.2,528.2 923.5,527.9 923.8,529.5 924.1,527.2 924.4,528.8 924.7,529.3 925.0,528.8 925.3,530.0 925.6,529.0 925.9,529.2 926.2,529.0 926.5,530.1 926.8,529.1 927.1,528.0 927.4,526.5 927.7,528.6 928.0,527.5 928.3,527.2 928.6,525.2 928.8,520.5 929.1,516.5 929.4,513.3 929.7,504.2 930.0,490.8 930.3,473.4 930.6,451.1 930.9,427.1 931.2,401.6 931.5,373.8 931.8,350.7 932.1,336.8 932.4,332.3 932.4,331.4 932.7,335.9 933.0,350.2 933.3,374.2 933.6,401.0 933.9,427.7 934.2,453.2 934.5,475.0 934.8,490.3 935.1,503.8 935.3,513.9 935.6,514.6 935.9,521.8 936.2,521.5 936.5,525.5 936.8,527.3 937.1,528.2 937.4,527.5 937.7,530.5 938.0,527.6 938.3,530.1 938.6,528.5 938.9,530.9 939.2,530.6 939.5,530.8 939.8,530.2 940.1,531.3 940.4,530.9 940.7,532.2 941.0,532.5 941.3,530.3 941.6,531.2 941.9,529.2 942.1,529.0 942.4,530.5 942.7,531.0 943.0,532.5 943.3,531.1 943.6,531.4 943.9,532.3 944.2,532.7 944.5,530.9 944.8,533.6 945.1,533.1 945.4,529.1 945.7,532.3 946.0,532.5 946.3,532.9 946.6,530.7 946.9,532.2 947.2,531.1 947.5,533.0 947.8,530.9 948.1,533.8 948.4,530.6 948.6,532.1 948.9,530.0 949.2,531.8 949.5,531.8 949.8,533.1 950.1,532.2 950.4,531.8 950.7,530.3 951.0,532.8 951.3,530.7 951.6,532.0 951.9,532.0 952.2,533.8 952.5,531.3 952.8,530.5 953.1,532.6 953.4,531.2 953.7,532.1 954.0,535.8 954.3,533.2 954.6,531.4 954.9,533.3 955.1,533.7 955.4,532.2 955.7,534.0 956.0,531.1 956.3,531.9 956.6,532.4 956.9,532.8 957.2,529.6 957.5,534.6 957.8,534.6 958.1,532.6 958.4,533.6 958.7,533.8 959.0,531.0 959.3,530.6 959.6,535.3 959.9,534.8 960.2,534.1 960.5,533.8 960.8,531.5 961.1,531.7 961.4,532.1 961.7,530.4 961.9,533.2 962.2,531.4 962.5,532.4 962.8,531.4 963.1,532.7 963.4,532.8 963.7,531.7 964.0,532.5 964.3,529.8 964.6,531.0 964.9,530.3 965.2,534.3 965.5,531.4 965.8,532.3 966.1,533.0 966.4,532.7 966.7,532.6 967.0,532.2 967.3,532.6 967.6,532.8 967.9,530.4 968.2,533.2 968.4,531.8 968.7,531.9 969.0,532.8 969.3,532.5 969.6,531.0 969.9,533.7 970.2,531.4 970.5,530.7 970.8,532.4 971.1,532.6 971.4,530.6 971.7,530.5 972.0,532.7 972.3,531.8 972.6,531.4 972.9,533.0 973.2,535.3 973.5,536.4 973.8,533.4 974.1,532.7 974.4,532.8 974.7,530.3 975.0,532.2 975.2,533.6 975.5,530.3 975.8,533.6 976.1,532.6 976.4,534.3 976.7,531.1 977.0,533.4 977.3,532.5 977.6,533.9 977.9,532.6 978.2,533.7 978.5,533.8 978.8,532.6 979.1,531.9 979.4,531.4 979.7,534.4 980.0,533.4 980.3,533.3 980.6,532.8 980.9,533.4 981.2,533.2 981.5,533.5 981.7,531.5 982.0,531.5 982.3,532.6 982.6,531.6 982.9,533.3 983.2,531.4 983.5,533.9 983.8,531.0 984.1,531.9 984.4,531.6 984.7,532.8 985.0,531.9 985.3,532.8 985.6,533.8 985.9,531.7 986.2,531.3 986.5,532.3 986.8,532.3 987.1,532.4 987.4,532.0 987.7,534.1 988.0,530.2 988.3,533.4 988.5,533.0 988.8,531.5 989.1,532.1 989.4,532.8 989.7,532.8 990.0,532.4 990.3,532.4 990.6,531.8 990.9,533.0 991.2,534.8 991.5,533.2 991.8,533.6 992.1,531.8 992.4,532.6 992.7,534.6 993.0,532.1 993.3,531.9 993.6,532.7 993.9,533.4 994.2,531.3 994.5,532.8 994.8,531.2 995.0,532.5 995.3,532.0 995.6,533.3 995.9,531.5 996.2,531.6 996.5,533.0 996.8,532.5 997.1,531.8 997.4,533.3 997.7,532.2 998.0,532.7 998.3,534.2 998.6,532.3 998.9,533.0 999.2,534.5 999.5,531.9 999.8,530.9 1000.1,533.3 1000.4,532.9 1000.7,536.0 1001.0,530.8 1001.3,530.5 1001.6,533.7 1001.8,532.1 1002.1,532.0 1002.4,532.7 1002.7,530.8 1003.0,531.7 1003.3,531.8 1003.6,532.2 1003.9,532.0 1004.2,530.6 1004.5,531.4 1004.8,530.6 1005.1,529.7 1005.4,531.8 1005.7,529.6 1006.0,529.6 1006.3,530.8 1006.6,530.5 1006.9,530.0 1007.2,529.9 1007.5,529.0 1007.8,529.8 1008.1,531.1 1008.3,533.4 1008.6,532.0 1008.9,530.5 1009.2,532.6 1009.5,531.7 1009.8,532.6 1010.1,532.5 1010.4,531.7 1010.7,533.7 1011.0,533.0 1011.3,532.2 1011.6,532.7 1011.9,533.6 1012.2,532.9 1012.5,532.3 1012.8,532.9 1013.1,532.5 1013.4,532.4 1013.7,531.6 1014.0,531.0 1014.3,533.8 1014.6,532.9 1014.9,533.4 1015.1,531.8 1015.4,532.0 1015.7,532.3 1016.0,533.5 1016.3,532.4 1016.6,533.9 1016.9,531.7 1017.2,533.7 1017.5,534.0 1017.8,532.8 1018.1,533.2 1018.4,532.2 1018.7,533.6 1019.0,533.5 1019.3,532.9 1019.6,535.7 1019.9,532.5 1020.2,534.4 1020.5,531.2 1020.8,533.9 1021.1,530.7 1021.4,532.4 1021.6,532.2 1021.9,532.3 1022.2,531.6 1022.5,533.5 1022.8,530.7 1023.1,534.9 1023.4,533.6 1023.7,534.9 1024.0,535.2 1024.3,533.8 1024.6,533.7 1024.9,532.3 1025.2,534.3 1025.5,531.5 1025.8,531.7 1026.1,532.8 1026.4,532.4 1026.7,531.6 1027.0,532.9 1027.3,531.4 1027.6,531.7 1027.9,533.4 1028.2,531.4 1028.4,531.9 1028.7,532.9 1029.0,532.2 1029.3,531.3 1029.6,532.7 1029.9,532.4 1030.2,533.7 1030.5,532.4 1030.8,534.1 1031.1,531.6 1031.4,535.0 1031.7,532.9 1032.0,533.1 1032.3,533.8 1032.6,530.2 1032.9,534.4 1033.2,532.8 1033.5,531.4 1033.8,534.0 1034.1,531.7 1034.4,534.0 1034.7,533.6 1034.9,534.8 1035.2,532.2 1035.5,532.7 1035.8,532.3 1036.1,532.0 1036.4,533.6 1036.7,532.1 1037.0,532.4 1037.3,531.8 1037.6,533.8 1037.9,531.0 1038.2,532.5 1038.5,533.0 1038.8,533.7 1039.1,533.0 1039.4,532.2 1039.7,534.0 1040.0,532.1 1040.3,534.2 1040.6,532.3 1040.9,532.5 1041.2,532.9 1041.5,530.3 1041.7,534.3 1042.0,531.9 1042.3,533.8 1042.6,532.6 1042.9,532.0 1043.2,531.9 1043.5,531.3 1043.8,532.7 1044.1,533.2 1044.4,534.0 1044.7,532.4 1045.0,531.9 1045.3,533.5 1045.6,532.9 1045.9,532.0 1046.2,532.3 1046.5,532.8 1046.8,532.3 1047.1,531.8 1047.4,532.5 1047.7,532.4 1048.0,533.0 1048.2,532.6 1048.5,533.7 1048.8,532.1 1049.1,531.4 1049.4,533.4 1049.7,533.3 1050.0,532.5 1050.3,534.8 1050.6,531.8 1050.9,531.2 1051.2,532.8 1051.5,533.0 1051.8,531.3 1052.1,531.3 1052.4,532.1 1052.7,531.2 1053.0,532.0 1053.3,530.8 1053.6,531.9 1053.9,531.9 1054.2,530.2 1054.5,531.1 1054.8,531.7 1055.0,531.6 1055.3,529.3 1055.6,530.4 1055.9,532.5 1056.2,530.9 1056.5,529.6 1056.8,532.0 1057.1,531.0 1057.4,532.2 1057.7,531.6 1058.0,530.4 1058.3,530.9 1058.6,530.3 1058.9,530.8 1059.2,530.5 1059.5,531.6 1059.8,529.7 1060.1,528.6 1060.4,530.5 1060.7,530.8 1061.0,529.3 1061.3,529.0 1061.5,529.8 1061.8,530.6 1062.1,530.9 1062.4,530.3 1062.7,529.7 1063.0,530.2 1063.3,531.3 1063.6,529.4 1063.9,529.9 1064.2,529.1 1064.5,530.5 1064.8,530.7 1065.1,528.5 1065.4,531.4 1065.7,530.5 1066.0,530.0 1066.3,532.0 1066.6,530.9 1066.9,529.1 1067.2,528.7 1067.5,530.4 1067.8,530.3 1068.1,529.8 1068.3,529.8 1068.6,531.5 1068.9,531.3 1069.2,530.5 1069.5,528.7 1069.8,531.5 1070.1,531.1 1070.4,531.2 1070.7,531.5 1071.0,530.0 1071.3,531.2 1071.6,531.6 1071.9,531.0 1072.2,529.2 1072.5,532.3 1072.8,531.1 1073.1,530.5 1073.4,530.8 1073.7,532.8 1074.0,527.8 1074.3,531.2 1074.6,531.6 1074.8,532.0 1075.1,531.2 1075.4,532.0 1075.7,533.6 1076.0,531.2 1076.3,531.1 1076.6,533.3 1076.9,529.9 1077.2,533.2 1077.5,533.0 1077.8,531.4 1078.1,532.1 1078.4,532.2 1078.7,532.9 1079.0,532.5 1079.3,532.2 1079.6,530.5 1079.9,532.4 1080.2,533.6 1080.5,531.5 1080.8,533.0 1081.1,532.4 1081.3,532.9 1081.6,532.3 1081.9,532.1 1082.2,530.7 1082.5,532.3 1082.8,531.3 1083.1,533.2 1083.4,533.6 1083.7,532.7 1084.0,532.2 1084.3,532.1 1084.6,531.5 1084.9,533.3 1085.2,531.4 1085.5,532.0 1085.8,532.9 1086.1,534.4 1086.4,532.4 1086.7,533.0 1087.0,532.1 1087.3,533.2 1087.6,531.9 1087.9,534.1 1088.1,532.3 1088.4,534.1 1088.7,533.7 1089.0,533.6 1089.3,532.4 1089.6,535.1 1089.9,532.4 1090.2,534.4 1090.5,533.0 1090.8,533.9 1091.1,531.7 1091.4,533.0 1091.7,535.7 1092.0,532.2 1092.3,533.7 1092.6,532.5 1092.9,534.6 1093.2,531.1 1093.5,531.9 1093.8,533.2 1094.1,533.0 1094.4,532.6 1094.6,531.9 1094.9,530.5 1095.2,531.3 1095.5,532.3 1095.8,531.9 1096.1,533.5 1096.4,534.4 1096.7,532.6 1097.0,531.4 1097.3,533.5 1097.6,533.1 1097.9,534.2 1098.2,532.2 1098.5,530.0 1098.8,534.0 1099.1,532.4 1099.4,532.2 1099.7,532.4 1100.0,532.2 1100.3,531.8 1100.6,531.5 1100.9,530.9 1101.2,531.5 1101.4,531.5 1101.7,529.8 1102.0,529.1 1102.3,531.1 1102.6,531.1 1102.9,530.5 1103.2,530.5 1103.5,526.7 1103.8,530.1 1104.1,529.5 1104.4,529.6 1104.7,528.0 1105.0,527.8 1105.3,529.2 1105.6,526.7 1105.9,530.7 1106.2,529.2 1106.5,528.6 1106.8,529.9 1107.1,530.9 1107.4,530.2 1107.7,527.3 1107.9,531.9 1108.2,529.2 1108.5,529.3 1108.8,530.3 1109.1,530.3 1109.4,531.0 1109.7,529.3 1110.0,529.1 1110.3,528.5 1110.6,527.3 1110.9,525.8 1111.2,527.9 1111.5,527.3 1111.8,525.9 1112.1,526.0 1112.4,525.3 1112.7,523.6 1113.0,524.6 1113.3,522.7 1113.6,525.2 1113.9,523.5 1114.2,521.8 1114.5,522.4 1114.7,522.3 1115.0,522.1 1115.3,522.2 1115.6,522.1 1115.9,522.0 1116.2,522.4 1116.5,525.6 1116.8,525.4 1117.1,525.8 1117.4,524.1 1117.7,525.6 1118.0,526.0 1118.3,528.3 1118.6,529.3 1118.9,529.8 1119.2,529.6 1119.5,530.0 1119.8,529.0 1120.1,532.0 1120.4,531.0 1120.7,529.9 1121.0,532.5 1121.2,531.8 1121.5,530.5 1121.8,533.1 1122.1,531.9 1122.4,532.5 1122.7,533.8 1123.0,530.9 1123.3,532.3 1123.6,533.6 1123.9,534.4 1124.2,531.5 1124.5,532.6 1124.8,531.9 1125.1,533.5 1125.4,533.8 1125.7,535.9 1126.0,531.8 1126.3,531.9 1126.6,534.4 1126.9,533.1 1127.2,532.8 1127.5,532.7 1127.8,534.2 1128.0,533.2 1128.3,532.2 1128.6,532.7 1128.9,535.7 1129.2,534.8 1129.5,534.3 1129.8,534.0 1130.1,532.9 1130.4,534.1 1130.7,533.2 1131.0,532.6 1131.3,533.4 1131.6,533.9 1131.9,532.7 1132.2,533.2 1132.5,532.5 1132.8,533.9 1133.1,534.3 1133.4,532.6 1133.7,532.3 1134.0,532.5 1134.3,533.6 1134.5,533.6 1134.8,532.0 1135.1,533.1 1135.4,533.8 1135.7,531.7 1136.0,535.8 1136.3,535.5 1136.6,532.3 1136.9,532.9 1137.2,533.6 1137.5,535.6 1137.8,532.1 1138.1,533.9 1138.4,535.3 1138.7,535.2 1139.0,535.1 1139.3,533.4 1139.6,533.8 1139.9,533.7 1140.2,533.0 1140.5,534.1 1140.8,533.0 1141.1,534.5 1141.3,532.9 1141.6,534.1 1141.9,532.8 1142.2,534.6 1142.5,532.8 1142.8,531.7 1143.1,532.3 1143.4,535.4 1143.7,535.5 1144.0,533.6 1144.3,532.1 1144.6,531.0 1144.9,533.3 1145.2,532.7 1145.5,533.6 1145.8,530.2 1146.1,535.5 1146.4,533.8 1146.7,535.1 1147.0,532.4 1147.3,532.6 1147.6,533.9 1147.8,533.0 1148.1,532.9 1148.4,533.5 1148.7,532.3 1149.0,533.1 1149.3,534.3 1149.6,533.0 1149.9,532.9 1150.2,532.3 1150.5,532.3 1150.8,534.9 1151.1,534.5 1151.4,532.5 1151.7,531.4 1152.0,534.0 1152.3,535.1 1152.6,534.5 1152.9,534.0 1153.2,533.1 1153.5,533.2 1153.8,534.5 1154.1,533.3 1154.4,535.7 1154.6,532.5 1154.9,533.9 1155.2,534.8 1155.5,532.7 1155.8,534.2 1156.1,533.6 1156.4,531.4 1156.7,534.0 1157.0,534.0 1157.3,533.6 1157.6,534.0 1157.9,532.1 1158.2,534.2 1158.5,533.4 1158.8,533.2 1159.1,533.9 1159.4,534.5 1159.7,531.9 1160.0,532.3 1160.3,532.8 1160.6,533.8 1160.9,534.5 1161.1,534.2 1161.4,535.6 1161.7,534.8 1162.0,533.1 1162.3,533.8 1162.6,533.2 1162.9,532.9 1163.2,533.6 1163.5,533.1 1163.8,535.4 1164.1,532.7 1164.4,534.2 1164.7,532.5 1165.0,533.7 1165.3,533.2 1165.6,534.1 1165.9,534.4 1166.2,534.3 1166.5,533.4 1166.8,532.1 1167.1,534.4 1167.4,534.1 1167.7,535.3 1167.9,535.1 1168.2,534.5 1168.5,532.9 1168.8,534.9 1169.1,533.4 1169.4,534.5 1169.7,533.0 1170.0,534.9 1170.3,533.8 1170.6,534.1 1170.9,535.8 1171.2,532.5 1171.5,533.6 1171.8,533.7 1172.1,534.5 1172.4,532.9 1172.7,533.8 1173.0,534.6 1173.3,533.7 1173.6,532.6 1173.9,533.7 1174.2,533.9 1174.4,533.8 1174.7,534.3 1175.0,533.3 1175.3,532.4 1175.6,532.0 1175.9,533.5 1176.2,532.1 1176.5,532.8 1176.8,531.3 1177.1,531.6 1177.4,534.5 1177.7,531.3 1178.0,532.3 1178.3,530.1 1178.6,530.6 1178.9,530.7 1179.2,530.0 1179.5,532.6 1179.8,531.0 1180.1,532.0 1180.4,531.2 1180.7,531.5 1181.0,529.2 1181.2,529.3 1181.5,528.1 1181.8,528.9 1182.1,528.3 1182.4,530.0 1182.7,527.1 1183.0,527.6 1183.3,528.7 1183.6,526.7 1183.9,525.5 1184.2,526.2 1184.5,526.3 1184.8,525.3 1185.1,524.4 1185.4,525.2 1185.7,524.2 1186.0,523.1 1186.3,522.6 1186.6,521.2 1186.9,522.1 1187.2,522.5 1187.5,522.9 1187.7,522.5 1188.0,523.0 1188.3,522.4 1188.6,522.8 1188.9,522.9 1189.2,521.7 1189.5,522.4 1189.8,524.2 1190.1,523.9 1190.4,522.5 1190.7,523.6 1191.0,524.9 1191.3,522.5 1191.6,524.2 1191.9,523.0 1192.2,523.6 1192.5,523.4 1192.8,522.5 1193.1,522.2 1193.4,523.9 1193.7,522.6 1194.0,522.9 1194.2,522.8 1194.5,520.2 1194.8,521.8 1195.1,521.0 1195.4,520.9 1195.6,518.4 1195.7,520.4 1196.0,519.4 1196.3,522.0 1196.6,520.5 1196.9,522.7 1197.2,522.0 1197.5,526.2 1197.8,526.5 1198.1,527.0 1198.4,529.0 1198.7,527.0 1199.0,528.6 1199.3,531.7 1199.6,529.8 1199.9,532.5 1200.2,529.7 1200.5,530.8 1200.8,530.7 1201.0,529.7 1201.3,529.5 1201.6,530.7 1201.9,532.5 1202.2,529.7 1202.5,533.2 1202.8,531.4 1203.1,532.8 1203.4,531.6 1203.7,532.5 1204.0,532.5 1204.3,532.1 1204.6,532.0 1204.9,533.4 1205.2,531.0 1205.5,532.0 1205.8,532.8 1206.1,532.3 1206.4,532.4 1206.7,534.3 1207.0,531.9 1207.3,530.5 1207.5,532.5 1207.8,533.6 1208.1,532.6 1208.4,530.6 1208.7,532.9 1209.0,532.8 1209.3,531.7 1209.6,532.8 1209.9,532.9 1210.2,534.3 1210.5,534.5 1210.8,533.3 1211.1,532.4 1211.4,532.4 1211.7,535.4 1212.0,533.2 1212.3,533.2 1212.6,533.9 1212.9,534.9 1213.2,531.8 1213.5,532.6 1213.8,533.6 1214.1,533.9 1214.3,533.7 1214.6,532.9 1214.9,532.9 1215.2,533.8 1215.5,533.6 1215.8,534.8 1216.1,532.2 1216.4,533.8 1216.7,532.2 1217.0,534.7 1217.3,534.6 1217.6,533.7 1217.9,532.6 1218.2,532.3 1218.5,533.5 1218.8,533.4 1219.1,533.3 1219.4,534.0 1219.7,532.2 1220.0,533.3 1220.3,533.9 1220.6,532.3 1220.8,533.2 1221.1,533.2 1221.4,531.5 1221.7,530.9 1222.0,533.3 1222.3,533.9 1222.6,532.1 1222.9,532.1 1223.2,534.1 1223.5,532.7 1223.8,534.8 1224.1,533.2 1224.4,533.9 1224.7,532.7 1225.0,532.9 1225.3,532.9 1225.6,532.6 1225.9,532.3 1226.2,532.0 1226.5,534.3 1226.8,532.4 1227.1,533.0 1227.4,531.4 1227.6,530.9 1227.9,530.3 1228.2,530.4 1228.5,530.2 1228.8,529.8 1229.1,529.2 1229.4,528.0 1229.7,527.2 1230.0,527.7 1230.3,525.5 1230.6,524.5 1230.9,524.4 1231.2,521.5 1231.5,521.2 1231.8,518.1 1232.1,518.9 1232.4,518.8 1232.5,518.3 1232.7,517.2 1233.0,518.4 1233.3,517.5 1233.6,521.0 1233.9,521.1 1234.1,525.7 1234.4,526.3 1234.7,525.5 1235.0,527.5 1235.3,527.9 1235.6,528.3 1235.9,528.4 1236.2,530.8 1236.5,529.1 1236.8,531.6 1237.1,530.2 1237.4,530.7 1237.7,531.3 1238.0,532.3 1238.3,530.7 1238.6,532.0 1238.9,532.2 1239.2,531.8 1239.5,532.1 1239.8,533.7 1240.1,533.3 1240.4,531.7 1240.7,531.7 1240.9,533.2 1241.2,531.0 1241.5,533.9 1241.8,531.7 1242.1,532.5 1242.4,531.6 1242.7,533.5 1243.0,532.4 1243.3,534.4 1243.6,532.1 1243.9,533.3 1244.2,533.7 1244.5,535.1 1244.8,532.7 1245.1,535.1 1245.4,533.7 1245.7,534.2 1246.0,533.4 1246.3,533.0 1246.6,535.0 1246.9,532.0 1247.2,534.0 1247.4,532.2 1247.7,532.6 1248.0,533.5 1248.3,532.7 1248.6,535.1 1248.9,533.7 1249.2,535.3 1249.5,531.8 1249.8,533.8 1250.1,534.3 1250.4,534.9 1250.7,531.5 1251.0,533.5 1251.3,533.7 1251.6,532.6 1251.9,532.4 1252.2,533.5 1252.5,534.7 1252.8,532.7 1253.1,532.3 1253.4,532.5 1253.7,533.1 1254.0,534.0 1254.2,533.3 1254.5,533.0 1254.8,534.0 1255.1,532.8 1255.4,533.5 1255.7,533.1 1256.0,534.4 1256.3,533.1 1256.6,535.1 1256.9,533.7 1257.2,532.3 1257.5,534.3 1257.8,535.3 1258.1,533.8 1258.4,533.9 1258.7,533.2 1259.0,533.6 1259.3,532.9 1259.6,534.4 1259.9,533.2 1260.2,533.9 1260.5,534.2 1260.7,534.8 1261.0,534.8 1261.3,535.4 1261.6,535.4 1261.9,535.1 1262.2,536.5 1262.5,535.2 1262.8,535.0 1263.1,534.3 1263.4,533.4 1263.7,533.5 1264.0,534.0 1264.3,534.3 1264.6,534.6 1264.9,533.1 1265.2,533.8 1265.5,533.4 1265.8,533.1 1266.1,535.2 1266.4,532.1 1266.7,532.7 1267.0,531.2 1267.3,533.2 1267.5,534.1 1267.8,532.4 1268.1,533.1 1268.4,532.3 1268.7,533.3 1269.0,533.8 1269.3,534.2 1269.6,531.4 1269.9,531.3 1270.2,532.8 1270.5,532.0 1270.8,532.2 1271.1,532.9 1271.4,532.9 1271.7,533.7 1272.0,533.1 1272.3,533.8 1272.6,533.4 1272.9,533.7 1273.2,532.9 1273.5,533.6 1273.8,531.6 1274.0,533.8 1274.3,534.4 1274.6,533.1 1274.9,534.8 1275.2,533.0 1275.5,535.1 1275.8,533.1 1276.1,534.7 1276.4,534.3 1276.7,535.0 1277.0,532.8 1277.3,534.5 1277.6,534.4 1277.9,535.0 1278.2,533.8 1278.5,532.1 1278.8,533.9 1279.1,534.1 1279.4,534.0 1279.7,532.8 1280.0,532.7 1280.3,532.3 1280.6,533.4 1280.8,533.1 1281.1,532.8 1281.4,532.5 1281.7,531.5 1282.0,533.4 1282.3,533.1 1282.6,533.0 1282.9,531.6 1283.2,532.2 1283.5,533.7 1283.8,534.5 1284.1,534.3 1284.4,533.6 1284.7,535.3 1285.0,533.8 1285.3,534.1 1285.6,534.6 1285.9,532.8 1286.2,534.6 1286.5,534.2 1286.8,534.1 1287.1,534.5 1287.3,535.1 1287.6,533.4 1287.9,534.2 1288.2,535.0 1288.5,534.6 1288.8,533.7 1289.1,534.1 1289.4,533.8 1289.7,533.9 1290.0,535.8 1290.3,534.8 1290.6,535.7 1290.9,533.4 1291.2,534.3 1291.5,533.4 1291.8,533.9 1292.1,533.5 1292.4,534.6 1292.7,534.5 1293.0,533.1 1293.3,533.2 1293.6,534.1 1293.9,534.2 1294.1,533.3 1294.4,533.2 1294.7,533.1 1295.0,532.8 1295.3,532.5 1295.6,534.6 1295.9,534.1 1296.2,533.7 1296.5,533.2 1296.8,533.7 1297.1,533.1 1297.4,533.4 1297.7,533.8 1298.0,533.4 1298.3,531.7 1298.6,533.2 1298.9,534.5 1299.2,533.3 1299.5,533.8 1299.8,532.1 1300.1,532.9 1300.4,533.0 1300.6,533.2 1300.9,533.0 1301.2,534.2 1301.5,534.8 1301.8,534.2 1302.1,532.9 1302.4,533.0 1302.7,534.3 1303.0,533.2 1303.3,534.2 1303.6,534.5 1303.9,534.0 1304.2,534.7 1304.5,533.2 1304.8,534.7 1305.1,534.2 1305.4,534.6 1305.7,534.3 1306.0,533.8 1306.3,532.9 1306.6,534.5 1306.9,534.5 1307.2,532.5 1307.4,535.2 1307.7,535.2 1308.0,532.7 1308.3,534.7 1308.6,534.5 1308.9,534.7 1309.2,533.8 1309.5,535.7 1309.8,535.1 1310.1,536.4 1310.4,533.8 1310.7,534.6 1311.0,534.7 1311.3,534.5 1311.6,535.3 1311.9,533.3 1312.2,534.4 1312.5,534.7 1312.8,534.6 1313.1,534.5 1313.4,536.7 1313.7,534.3 1313.9,533.2 1314.2,533.1 1314.5,533.4 1314.8,533.3 1315.1,535.6 1315.4,532.9 1315.7,532.0 1316.0,533.9 1316.3,533.6 1316.6,532.9 1316.9,532.0 1317.2,533.8 1317.5,532.6 1317.8,532.5 1318.1,533.9 1318.4,530.5 1318.7,533.3 1319.0,532.7 1319.3,531.2 1319.6,532.3 1319.9,533.3 1320.2,532.2 1320.4,532.5 1320.7,532.1 1321.0,532.6 1321.3,532.2 1321.6,533.2 1321.9,531.1 1322.2,532.8 1322.5,533.5 1322.8,533.8 1323.1,532.0 1323.4,531.8 1323.7,532.8 1324.0,531.1 1324.3,533.2 1324.6,533.0 1324.9,532.2 1325.2,533.8 1325.5,532.5 1325.8,532.3 1326.1,533.1 1326.4,535.1 1326.7,534.8 1327.0,533.5 1327.2,532.9 1327.5,533.7 1327.8,533.6 1328.1,532.9 1328.4,533.7 1328.7,533.0 1329.0,535.0 1329.3,535.2 1329.6,535.5 1329.9,533.7 1330.2,534.2 1330.5,532.2 1330.8,534.1 1331.1,534.6 1331.4,532.5 1331.7,532.6 1332.0,533.9 1332.3,533.3 1332.6,531.8 1332.9,533.1 1333.2,532.9 1333.5,533.5 1333.7,534.3 1334.0,532.9 1334.3,534.2 1334.6,533.3 1334.9,532.6 1335.2,534.1 1335.5,533.3 1335.8,533.0 1336.1,532.1 1336.4,534.5 1336.7,533.5 1337.0,533.4 1337.3,533.7 1337.6,534.1 1337.9,533.3 1338.2,534.9 1338.5,531.7 1338.8,534.4 1339.1,532.6 1339.4,533.4 1339.7,534.0 1340.0,531.8 1340.3,534.2 1340.5,534.1 1340.8,533.9 1341.1,533.3 1341.4,533.6 1341.7,533.8 1342.0,533.5 1342.3,534.2 1342.6,533.8 1342.9,535.0 1343.2,535.6 1343.5,533.3 1343.8,533.9 1344.1,533.9 1344.4,534.6 1344.7,535.3 1345.0,534.0 1345.3,533.5 1345.6,535.1 1345.9,535.0 1346.2,532.9 1346.5,535.4 1346.8,534.1 1347.0,534.3 1347.3,533.8 1347.6,534.5 1347.9,535.7 1348.2,533.8 1348.5,534.5 1348.8,533.9 1349.1,534.9 1349.4,534.2 1349.7,535.4 1350.0,535.1 1350.3,532.8 1350.6,534.7 1350.9,533.2 1351.2,532.3 1351.5,532.6 1351.8,534.1 1352.1,535.0 1352.4,535.9 1352.7,533.7 1353.0,533.3 1353.3,533.9 1353.6,534.4 1353.8,534.3 1354.1,534.1 1354.4,533.7 1354.7,531.3 1355.0,534.6 1355.3,531.6 1355.6,535.0 1355.9,533.8 1356.2,533.3 1356.5,532.8 1356.8,534.0 1357.1,534.0 1357.4,534.3 1357.7,532.8 1358.0,532.8 1358.3,534.2 1358.6,534.8 1358.9,533.5 1359.2,532.8 1359.5,532.4 1359.8,534.6 1360.1,533.6 1360.3,531.8 1360.6,534.0 1360.9,532.9 1361.2,534.9 1361.5,534.2 1361.8,533.0 1362.1,534.5 1362.4,532.2 1362.7,534.5 1363.0,533.0 1363.3,533.7 1363.6,534.9 1363.9,534.2 1364.2,533.9 1364.5,532.4 1364.8,534.2 1365.1,532.3 1365.4,534.3 1365.7,532.0 1366.0,532.1 1366.3,533.3 1366.6,533.4 1366.9,533.6 1367.1,532.5 1367.4,534.2 1367.7,530.7 1368.0,531.4 1368.3,531.8 1368.6,530.5 1368.9,528.9 1369.2,529.2 1369.5,529.7 1369.8,530.8 1370.1,531.5 1370.4,532.3 1370.7,530.8 1371.0,533.2 1371.3,534.1 1371.6,533.8 1371.9,535.4 1372.2,534.0 1372.5,534.0 1372.8,533.0 1373.1,535.0 1373.4,534.4 1373.6,533.4 1373.9,534.2 1374.2,534.8 1374.5,532.3 1374.8,533.3 1375.1,534.5 1375.4,534.6 1375.7,534.7 1376.0,534.7 1376.3,535.5 1376.6,534.2 1376.9,535.2 1377.2,533.9 1377.5,535.2 1377.8,535.4 1378.1,533.7 1378.4,533.6 1378.7,534.8 1379.0,533.3 1379.3,533.5 1379.6,534.7 1379.9,533.2 1380.2,535.1 1380.4,533.8 1380.7,534.8 1381.0,534.4 1381.3,532.4 1381.6,532.6 1381.9,533.0 1382.2,533.0 1382.5,534.0 1382.8,533.6 1383.1,534.0 1383.4,532.6 1383.7,533.4 1384.0,534.8 1384.3,534.5 1384.6,533.5 1384.9,532.6 1385.2,533.1 1385.5,533.2 1385.8,535.6 1386.1,533.1 1386.4,532.0 1386.7,534.8 1386.9,533.8 1387.2,534.2 1387.5,532.9 1387.8,534.5 1388.1,533.5 1388.4,532.8 1388.7,534.0 1389.0,533.2 1389.3,532.9 1389.6,533.0 1389.9,533.2 1390.2,534.2 1390.5,532.8 1390.8,532.9 1391.1,534.4 1391.4,534.3 1391.7,533.5 1392.0,533.3 1392.3,533.4 1392.6,533.2 1392.9,534.6 1393.2,533.4 1393.5,533.7 1393.7,534.2 1394.0,536.4 1394.3,533.9 1394.6,534.9 1394.9,535.7 1395.2,533.8 1395.5,534.7 1395.8,534.0 1396.1,533.2 1396.4,535.3 1396.7,534.9 1397.0,534.7 1397.3,534.1 1397.6,535.2 1397.9,534.1 1398.2,535.0 1398.5,532.7 1398.8,534.7 1399.1,533.9 1399.4,535.4 1399.7,533.7 1400.0,533.7 1400.2,534.5 1400.5,533.0 1400.8,534.2 1401.1,535.0 1401.4,533.9 1401.7,533.7 1402.0,533.1 1402.3,533.7 1402.6,534.1 1402.9,533.8 1403.2,533.7 1403.5,535.3 1403.8,534.2 1404.1,533.6 1404.4,534.1 1404.7,535.0 1405.0,533.9 1405.3,534.5 1405.6,533.7 1405.9,535.9 1406.2,534.7 1406.5,533.3 1406.8,536.0 1407.0,534.2 1407.3,534.1 1407.6,533.5 1407.9,535.0 1408.2,534.0 1408.5,534.1 1408.8,534.2 1409.1,536.5 1409.4,534.6 1409.7,534.5 1410.0,534.1 1410.3,534.5 1410.6,534.2 1410.9,535.7 1411.2,534.3 1411.5,534.3 1411.8,535.2 1412.1,534.5 1412.4,535.6 1412.7,535.9 1413.0,535.0 1413.3,535.1 1413.5,533.2 1413.8,533.2 1414.1,533.2 1414.4,533.6 1414.7,533.9 1415.0,534.6 1415.3,535.1 1415.6,534.2 1415.9,533.4 1416.2,535.0 1416.5,535.2 1416.8,532.3 1417.1,534.8 1417.4,533.8 1417.7,535.2 1418.0,534.0 1418.3,534.3 1418.6,535.0 1418.9,534.7 1419.2,534.0 1419.5,533.1 1419.8,534.0 1420.1,533.4 1420.3,534.3 1420.6,534.7 1420.9,535.2 1421.2,535.5 1421.5,534.7 1421.8,533.4 1422.1,533.4 1422.4,533.8 1422.7,534.2 1423.0,533.8 1423.3,533.1 1423.6,534.0 1423.9,533.1 1424.2,533.9 1424.5,532.6 1424.8,534.3 1425.1,535.0 1425.4,535.2 1425.7,533.6 1426.0,531.9 1426.3,533.4 1426.6,532.4 1426.8,533.1 1427.1,533.9 1427.4,535.5 1427.7,535.0 1428.0,533.3 1428.3,535.4 1428.6,533.7 1428.9,534.2 1429.2,532.1 1429.5,533.6 1429.8,533.7 1430.1,534.6 1430.4,535.6 1430.7,533.7 1431.0,533.3 1431.3,534.0 1431.6,533.2 1431.9,533.8 1432.2,534.5 1432.5,533.2 1432.8,534.8 1433.1,534.5 1433.3,533.8 1433.6,535.1 1433.9,533.1 1434.2,535.0 1434.5,534.2 1434.8,533.3 1435.1,534.2 1435.4,533.9 1435.7,534.0 1436.0,533.2 1436.3,535.9 1436.6,534.1 1436.9,535.2 1437.2,534.9 1437.5,534.4 1437.8,533.3 1438.1,534.6 1438.4,533.8 1438.7,535.2 1439.0,533.9 1439.3,533.8 1439.6,533.1 1439.9,534.1 1440.1,533.1 1440.4,534.9 1440.7,532.8 1441.0,534.5 1441.3,534.1 1441.6,534.5 1441.9,532.9 1442.2,533.7 1442.5,535.0 1442.8,533.5 1443.1,533.7 1443.4,534.0 1443.7,534.4 1444.0,533.0 1444.3,535.6 1444.6,532.9 1444.9,531.5 1445.2,534.3 1445.5,532.9 1445.8,534.8 1446.1,532.6 1446.4,533.1 1446.6,533.5 1446.9,534.4 1447.2,532.9 1447.5,533.1 1447.8,533.0 1448.1,533.1 1448.4,534.5 1448.7,533.7 1449.0,533.3 1449.3,533.7 1449.6,534.5 1449.9,533.5 1450.2,533.8 1450.5,534.6 1450.8,534.5 1451.1,534.5 1451.4,533.1 1451.7,533.1 1452.0,533.7 1452.3,533.8 1452.6,533.6 1452.9,533.9 1453.2,535.5 1453.4,532.1 1453.7,532.9 1454.0,534.3 1454.3,533.3 1454.6,533.9 1454.9,533.6 1455.2,532.3 1455.5,534.6 1455.8,532.0 1456.1,534.1 1456.4,533.3 1456.7,533.3 1457.0,533.2 1457.3,533.3 1457.6,534.2 1457.9,533.8 1458.2,534.3 1458.5,533.6 1458.8,533.7 1459.1,534.9 1459.4,532.5 1459.7,534.0 1459.9,534.2 1460.2,531.8 1460.5,534.0 1460.8,533.7 1461.1,535.5 1461.4,533.9 1461.7,532.1 1462.0,532.7 1462.3,533.5 1462.6,534.2 1462.9,534.1 1463.2,533.6 1463.5,535.8 1463.8,535.1 1464.1,534.5 1464.4,533.6 1464.7,533.6 1465.0,533.8 1465.3,534.6 1465.6,534.2 1465.9,533.7 1466.2,531.9 1466.5,534.7 1466.7,534.4 1467.0,532.5 1467.3,535.3 1467.6,536.0 1467.9,532.7 1468.2,535.0 1468.5,532.4 1468.8,533.9 1469.1,533.1 1469.4,534.4 1469.7,532.7 1470.0,533.0 1470.3,533.4 1470.6,532.2 1470.9,532.8 1471.2,534.2 1471.5,533.7 1471.8,533.0 1472.1,534.0 1472.4,531.8 1472.7,532.9 1473.0,534.4 1473.2,533.1 1473.5,536.1 1473.8,533.5 1474.1,535.3 1474.4,534.8 1474.7,534.7 1475.0,533.9 1475.3,535.7 1475.6,534.2 1475.9,534.6 1476.2,536.3 1476.5,536.5 1476.8,534.0 1477.1,535.3 1477.4,533.4 1477.7,534.5 1478.0,534.1 1478.3,534.8 1478.6,535.6 1478.9,533.8 1479.2,533.2 1479.5,534.1 1479.8,533.6 1480.0,534.8 1480.3,532.9 1480.6,532.9 1480.9,534.0 1481.2,532.5 1481.5,535.0 1481.8,533.5 1482.1,531.8 1482.4,533.2 1482.7,533.0 1483.0,532.8 1483.3,533.7 1483.6,532.8 1483.9,531.9 1484.2,531.6 1484.5,532.2 1484.8,532.2 1485.1,532.4 1485.4,529.9 1485.7,527.6 1486.0,524.7 1486.3,524.7 1486.5,519.9 1486.8,516.5 1487.1,509.8 1487.4,505.9 1487.7,499.9 1488.0,497.7 1488.3,495.8 1488.6,497.6 1488.9,501.3 1489.2,504.5 1489.5,510.0 1489.8,513.6 1490.1,516.6 1490.4,519.2 1490.7,521.7 1491.0,522.1 1491.3,522.4 1491.6,520.6 1491.9,518.0 1492.2,516.3 1492.5,516.9 1492.8,515.6 1493.1,516.4 1493.3,517.6 1493.6,518.8 1493.9,522.5 1494.2,523.5 1494.5,524.2 1494.8,524.5 1495.1,528.8 1495.4,529.8 1495.7,531.4 1496.0,531.9 1496.3,532.4 1496.6,530.7 1496.9,532.2 1497.2,532.7 1497.5,532.0 1497.8,533.7 1498.1,530.6 1498.4,533.6 1498.7,533.0 1499.0,531.3 1499.3,532.2 1499.6,534.0 1499.8,532.7 1500.1,532.0 1500.4,533.3 1500.7,532.9 1501.0,532.3 1501.3,532.3 1501.6,533.7 1501.9,533.8 1502.2,531.7 1502.5,533.0 1502.8,533.9 1503.1,534.2 1503.4,535.0 1503.7,532.6 1504.0,532.9 1504.3,532.1 1504.6,534.0 1504.9,534.1 1505.2,533.4 1505.5,534.4 1505.8,533.0 1506.1,532.5 1506.4,532.8 1506.6,534.0 1506.9,531.0 1507.2,532.5 1507.5,534.3 1507.8,532.7 1508.1,534.5 1508.4,535.2 1508.7,534.8 1509.0,533.3 1509.3,534.5 1509.6,533.9 1509.9,533.9 1510.2,533.7 1510.5,533.8 1510.8,532.8 1511.1,533.2 1511.4,534.4 1511.7,533.4 1512.0,532.5 1512.3,533.5 1512.6,532.8 1512.9,532.8 1513.1,533.4 1513.4,533.9 1513.7,533.4 1514.0,533.2 1514.3,534.3 1514.6,533.4 1514.9,534.0 1515.2,532.6 1515.5,533.4 1515.8,534.2 1516.1,532.7 1516.4,533.6 1516.7,535.0 1517.0,532.2 1517.3,533.2 1517.6,533.1 1517.9,533.5 1518.2,532.6 1518.5,533.4 1518.8,532.8 1519.1,532.9 1519.4,532.7 1519.7,533.1 1519.9,534.0 1520.2,533.1 1520.5,531.9 1520.8,533.6 1521.1,533.0 1521.4,533.5 1521.7,533.3 1522.0,533.4 1522.3,534.1 1522.6,534.8 1522.9,534.6 1523.2,534.0 1523.5,534.0 1523.8,533.3 1524.1,533.3 1524.4,534.1 1524.7,533.2 1525.0,535.1 1525.3,533.9 1525.6,532.6 1525.9,533.5 1526.2,533.6 1526.4,534.0 1526.7,533.8 1527.0,533.5 1527.3,531.9 1527.6,532.3 1527.9,533.7 1528.2,533.0 1528.5,535.2 1528.8,533.2 1529.1,533.9 1529.4,534.3 1529.7,534.0 1530.0,534.6 1530.3,534.4 1530.6,535.2 1530.9,533.9 1531.2,534.4 1531.5,533.3 1531.8,533.5 1532.1,533.6 1532.4,534.7 1532.7,533.6 1533.0,534.1 1533.2,533.4 1533.5,533.0 1533.8,534.4 1534.1,533.1 1534.4,532.5 1534.7,533.4 1535.0,533.6 1535.3,534.7 1535.6,533.1 1535.9,534.7 1536.2,534.6 1536.5,531.8 1536.8,534.0 1537.1,533.8 1537.4,533.7 1537.7,533.7 1538.0,535.0 1538.3,534.2 1538.6,532.2 1538.9,533.5 1539.2,533.7 1539.5,533.9 1539.7,533.6 1540.0,531.0 1540.3,534.4 1540.6,533.2 1540.9,533.1 1541.2,534.2 1541.5,533.2 1541.8,533.5 1542.1,533.0 1542.4,533.1 1542.7,534.5 1543.0,533.7 1543.3,533.8 1543.6,533.5 1543.9,534.4 1544.2,535.2 1544.5,535.0 1544.8,532.9 1545.1,533.5 1545.4,534.4 1545.7,533.5 1546.0,533.8 1546.2,533.5 1546.5,534.4 1546.8,533.6 1547.1,532.6 1547.4,534.9 1547.7,533.6 1548.0,533.9 1548.3,534.0 1548.6,535.1 1548.9,532.4 1549.2,535.8 1549.5,532.7 1549.8,532.2 1550.1,533.4 1550.4,533.0 1550.7,533.2 1551.0,533.5 1551.3,534.1 1551.6,532.4 1551.9,533.4 1552.2,533.8 1552.5,533.7 1552.8,533.1 1553.0,533.3 1553.3,533.6 1553.6,532.7 1553.9,533.2 1554.2,533.3 1554.5,533.3 1554.8,532.5 1555.1,532.9 1555.4,533.5 1555.7,533.4 1556.0,534.4 1556.3,535.3 1556.6,532.9 1556.9,534.9 1557.2,533.1 1557.5,532.9 1557.8,533.4 1558.1,533.9 1558.4,532.0 1558.7,534.3 1559.0,532.5 1559.3,531.8 1559.5,532.1 1559.8,534.3 1560.1,533.5 1560.4,534.2 1560.7,534.5 1561.0,532.7 1561.3,534.4 1561.6,533.6 1561.9,534.3 1562.2,532.4 1562.5,534.4 1562.8,532.9 1563.1,531.7 1563.4,534.3 1563.7,534.3 1564.0,532.7 1564.3,532.4 1564.6,533.5 1564.9,534.3 1565.2,533.4 1565.5,534.0 1565.8,533.0 1566.1,533.1 1566.3,534.4 1566.6,532.9 1566.9,532.0 1567.2,534.6 1567.5,533.3 1567.8,532.8 1568.1,534.5 1568.4,532.0 1568.7,532.8 1569.0,533.1 1569.3,532.7 1569.6,533.4 1569.9,534.5 1570.2,534.9 1570.5,533.2 1570.8,533.6 1571.1,533.6 1571.4,534.5 1571.7,533.8 1572.0,532.8 1572.3,533.8 1572.6,533.2 1572.8,533.7 1573.1,532.8 1573.4,534.9 1573.7,534.6 1574.0,533.7 1574.3,532.2 1574.6,534.6 1574.9,533.5 1575.2,533.7 1575.5,535.3 1575.8,533.9 1576.1,535.3 1576.4,533.1 1576.7,535.5 1577.0,535.0 1577.3,534.7 1577.6,535.3 1577.9,533.6 1578.2,534.4 1578.5,533.7 1578.8,533.7 1579.1,536.0 1579.4,531.7 1579.6,534.7 1579.9,535.2 1580.2,533.0 1580.5,532.3 1580.8,534.0 1581.1,534.0 1581.4,535.3 1581.7,533.2 1582.0,533.3 1582.3,533.5 1582.6,534.6 1582.9,530.8 1583.2,534.1 1583.5,533.0 1583.8,532.9 1584.1,533.8 1584.4,532.3 1584.7,533.9 1585.0,533.4 1585.3,533.1 1585.6,532.5 1585.9,532.4 1586.1,533.9 1586.4,532.7 1586.7,532.4 1587.0,532.9 1587.3,532.5 1587.6,533.9 1587.9,534.0 1588.2,533.9 1588.5,533.9 1588.8,533.5 1589.1,533.8 1589.4,532.6 1589.7,534.5 1590.0,534.0 1590.3,534.2 1590.6,533.4 1590.9,534.3 1591.2,533.3 1591.5,533.9 1591.8,534.5 1592.1,534.1 1592.4,533.3 1592.7,534.1 1592.9,533.4 1593.2,534.2 1593.5,534.6 1593.8,533.1 1594.1,533.9 1594.4,534.1 1594.7,534.4 1595.0,533.3 1595.3,532.7 1595.6,534.1 1595.9,535.5 1596.2,532.8 1596.5,533.5 1596.8,535.7 1597.1,533.1 1597.4,533.0 1597.7,533.3 1598.0,533.9 1598.3,534.7 1598.6,533.1 1598.9,533.1 1599.2,533.9 1599.4,532.3 1599.7,533.9 1600.0,533.5 1600.3,533.2 1600.6,532.8 1600.9,534.0 1601.2,533.5 1601.5,533.4 1601.8,533.9 1602.1,533.5 1602.4,532.2 1602.7,534.2"/>
<polyline class="cv" stroke="#3c3839" stroke-width="5" points="1814.6,902.2 1814.9,916.8 1815.2,918.5 1815.5,917.1 1815.8,913.2 1816.1,911.8 1816.4,918.0 1816.7,910.6 1817.0,918.4 1817.3,915.4 1817.6,921.7 1817.8,919.0 1818.1,916.7 1818.4,915.8 1818.7,905.6 1819.0,909.1 1819.3,912.6 1819.6,913.5 1819.9,912.6 1820.2,905.4 1820.5,910.0 1820.8,900.5 1821.1,911.4 1821.4,899.1 1821.7,900.8 1822.0,905.2 1822.3,918.7 1822.6,907.0 1822.9,913.0 1823.2,922.0 1823.5,915.3 1823.8,917.2 1824.0,907.4 1824.3,911.1 1824.6,904.0 1824.9,917.9 1825.2,917.7 1825.5,918.4 1825.8,910.9 1826.1,915.6 1826.4,905.3 1826.7,913.5 1827.0,915.9 1827.3,913.7 1827.6,913.9 1827.9,911.6 1828.2,916.5 1828.5,915.4 1828.8,909.8 1829.1,912.4 1829.4,916.9 1829.7,913.4 1830.0,910.0 1830.2,907.7 1830.5,916.5 1830.8,907.3 1831.1,908.7 1831.4,917.3 1831.7,916.8 1832.0,910.8 1832.3,911.9 1832.6,918.8 1832.9,910.5 1833.2,920.4 1833.5,919.2 1833.8,914.5 1834.1,907.9 1834.4,918.5 1834.7,914.3 1835.0,907.5 1835.3,906.9 1835.6,912.9 1835.9,918.4 1836.1,901.3 1836.4,912.3 1836.7,912.1 1837.0,923.2 1837.3,911.0 1837.6,910.4 1837.9,913.4 1838.2,913.5 1838.5,915.8 1838.8,912.3 1839.1,914.0 1839.4,920.7 1839.7,908.8 1840.0,916.8 1840.3,923.6 1840.6,909.5 1840.9,914.0 1841.2,909.5 1841.5,917.4 1841.8,915.8 1842.1,915.7 1842.3,910.8 1842.6,911.1 1842.9,911.7 1843.2,917.9 1843.5,914.7 1843.8,919.9 1844.1,921.0 1844.4,908.8 1844.7,922.4 1845.0,917.4 1845.3,911.2 1845.6,897.7 1845.9,905.7 1846.2,913.1 1846.5,901.4 1846.8,919.6 1847.1,910.0 1847.4,913.6 1847.7,906.8 1848.0,910.3 1848.3,913.3 1848.5,907.2 1848.8,910.2 1849.1,910.9 1849.4,914.6 1849.7,904.9 1850.0,921.9 1850.3,922.4 1850.6,906.3 1850.9,904.7 1851.2,908.5 1851.5,913.8 1851.8,913.9 1852.1,914.8 1852.4,918.2 1852.7,913.3 1853.0,907.2 1853.3,904.2 1853.6,909.5 1853.9,906.4 1854.2,925.6 1854.5,907.9 1854.7,919.9 1855.0,913.5 1855.3,906.5 1855.6,907.1 1855.9,910.1 1856.2,915.3 1856.5,909.7 1856.8,915.1 1857.1,909.2 1857.4,908.1 1857.7,912.7 1858.0,919.3 1858.3,913.3 1858.6,923.1 1858.9,911.8 1859.2,919.7 1859.5,913.1 1859.8,921.4 1860.1,910.0 1860.4,914.3 1860.7,908.4 1860.9,903.4 1861.2,914.2 1861.5,915.9 1861.8,904.5 1862.1,919.0 1862.4,914.4 1862.7,910.8 1863.0,919.2 1863.3,919.1 1863.6,919.7 1863.9,920.1 1864.2,914.2 1864.5,913.6 1864.8,919.4 1865.1,918.9 1865.4,905.9 1865.7,907.4 1866.0,909.8 1866.3,911.3 1866.6,918.7 1866.9,909.9 1867.1,909.2 1867.4,916.1 1867.7,913.7 1868.0,915.7 1868.3,916.2 1868.6,908.4 1868.9,915.4 1869.2,907.2 1869.5,911.0 1869.8,922.3 1870.1,913.8 1870.4,914.4 1870.7,917.7 1871.0,921.0 1871.3,917.1 1871.6,908.0 1871.9,922.0 1872.2,915.6 1872.5,907.4 1872.8,914.3 1873.0,906.7 1873.3,909.3 1873.6,904.1 1873.9,907.7 1874.2,916.7 1874.5,899.8 1874.8,915.7 1875.1,916.9 1875.4,918.0 1875.7,912.0 1876.0,908.1 1876.3,911.0 1876.6,913.2 1876.9,917.2 1877.2,914.3 1877.5,900.6 1877.8,909.8 1878.1,908.7 1878.4,915.4 1878.7,911.7 1879.0,913.2 1879.2,910.0 1879.5,904.9 1879.8,908.7 1880.1,915.5 1880.4,906.5 1880.7,907.2 1881.0,902.9 1881.3,908.7 1881.6,914.3 1881.9,902.2 1882.2,911.1 1882.5,906.2 1882.8,922.6 1883.1,909.7 1883.4,911.0 1883.7,901.7 1884.0,919.5 1884.3,914.8 1884.6,912.7 1884.9,921.2 1885.2,911.3 1885.4,912.9 1885.7,918.6 1886.0,910.6 1886.3,916.2 1886.6,909.0 1886.9,905.6 1887.2,919.5 1887.5,915.5 1887.8,916.8 1888.1,916.8 1888.4,912.5 1888.7,914.4 1889.0,912.5 1889.3,910.8 1889.6,912.2 1889.9,904.0 1890.2,912.8 1890.5,909.7 1890.8,913.0 1891.1,906.5 1891.4,921.7 1891.6,914.7 1891.9,908.6 1892.2,916.7 1892.5,905.5 1892.8,903.8 1893.1,915.5 1893.4,922.3 1893.7,914.4 1894.0,915.3 1894.3,916.3 1894.6,922.5 1894.9,911.3 1895.2,905.1 1895.5,908.9 1895.8,916.7 1896.1,919.8 1896.4,908.8 1896.7,918.1 1897.0,907.3 1897.3,916.8 1897.6,910.8 1897.8,910.9 1898.1,909.6 1898.4,917.3 1898.7,921.7 1899.0,903.5 1899.3,914.7 1899.6,913.3 1899.9,907.5 1900.2,914.6 1900.5,915.0 1900.8,916.3 1901.1,908.1 1901.4,915.8 1901.7,914.4 1902.0,913.6 1902.3,909.8 1902.6,915.0 1902.9,913.0 1903.2,927.8 1903.5,917.3 1903.8,914.3 1904.0,916.5 1904.3,912.6 1904.6,920.2 1904.9,908.3 1905.2,912.3 1905.5,916.8 1905.8,910.6 1906.1,912.3 1906.4,931.2 1906.7,907.0 1907.0,910.1 1907.3,909.5 1907.6,915.3 1907.9,921.6 1908.2,928.8 1908.5,921.1 1908.8,918.9 1909.1,915.4 1909.4,918.0 1909.7,914.3 1909.9,920.2 1910.2,909.3 1910.5,918.6 1910.8,908.7 1911.1,914.9 1911.4,904.4 1911.7,907.7 1912.0,923.1 1912.3,918.0 1912.6,908.6 1912.9,918.9 1913.2,902.7 1913.5,913.7 1913.8,905.6 1914.1,918.1 1914.4,921.0 1914.7,911.8 1915.0,914.9 1915.3,910.3 1915.6,919.5 1915.9,918.1 1916.1,925.3 1916.4,915.8 1916.7,916.4 1917.0,908.7 1917.3,909.9 1917.6,915.8 1917.9,909.9 1918.2,919.7 1918.5,917.1 1918.8,910.5 1919.1,909.4 1919.4,921.7 1919.7,916.0 1920.0,920.8 1920.3,908.1 1920.6,913.3 1920.9,912.1 1921.2,927.9 1921.5,913.0 1921.8,916.1 1922.1,910.1 1922.3,911.0 1922.6,916.7 1922.9,909.1 1923.2,914.2 1923.5,913.4 1923.8,914.9 1924.1,911.8 1924.4,914.0 1924.7,911.3 1925.0,905.3 1925.3,900.9 1925.6,904.5 1925.9,911.4 1926.2,918.8 1926.5,906.5 1926.8,913.9 1927.1,905.9 1927.4,915.1 1927.7,921.0 1928.0,905.0 1928.3,913.9 1928.5,919.9 1928.8,909.4 1929.1,909.8 1929.4,909.4 1929.7,914.2 1930.0,912.9 1930.3,913.9 1930.6,916.0 1930.9,907.2 1931.2,919.6 1931.5,908.7 1931.8,918.0 1932.1,918.5 1932.4,908.7 1932.7,907.5 1933.0,907.2 1933.3,903.3 1933.6,913.6 1933.9,900.3 1934.2,907.8 1934.5,908.3 1934.7,913.0 1935.0,906.8 1935.3,909.5 1935.6,904.4 1935.9,907.8 1936.2,895.9 1936.5,889.8 1936.8,885.6 1937.1,894.0 1937.4,885.1 1937.7,899.7 1938.0,894.6 1938.3,890.9 1938.6,910.5 1938.9,909.9 1939.2,904.9 1939.5,914.0 1939.8,900.4 1940.1,911.5 1940.4,906.8 1940.7,911.5 1940.9,909.4 1941.2,913.6 1941.5,910.1 1941.8,910.1 1942.1,909.6 1942.4,910.2 1942.7,914.2 1943.0,909.5 1943.3,907.2 1943.6,911.2 1943.9,911.6 1944.2,919.4 1944.5,906.3 1944.8,914.0 1945.1,906.9 1945.4,917.0 1945.7,909.3 1946.0,911.5 1946.3,909.0 1946.6,913.3 1946.8,915.3 1947.1,915.1 1947.4,915.6 1947.7,912.0 1948.0,896.0 1948.3,907.6 1948.6,913.9 1948.9,909.5 1949.2,906.4 1949.5,899.5 1949.8,911.0 1950.1,921.7 1950.4,907.5 1950.7,919.7 1951.0,911.3 1951.3,917.7 1951.6,916.1 1951.9,909.2 1952.2,911.4 1952.5,911.6 1952.8,914.5 1953.0,902.2 1953.3,911.3 1953.6,908.8 1953.9,920.1 1954.2,906.4 1954.5,917.4 1954.8,912.2 1955.1,919.7 1955.4,920.3 1955.7,903.2 1956.0,921.1 1956.3,911.6 1956.6,917.3 1956.9,903.3 1957.2,919.5 1957.5,916.5 1957.8,913.6 1958.1,909.1 1958.4,917.6 1958.7,898.4 1959.0,914.2 1959.2,906.0 1959.5,910.9 1959.8,922.5 1960.1,910.2 1960.4,910.5 1960.7,904.2 1961.0,918.0 1961.3,914.5 1961.6,916.6 1961.9,922.7 1962.2,899.6 1962.5,904.1 1962.8,907.5 1963.1,911.6 1963.4,909.2 1963.7,919.0 1964.0,910.2 1964.3,903.8 1964.6,911.3 1964.9,910.0 1965.2,905.1 1965.4,910.7 1965.7,911.1 1966.0,918.7 1966.3,904.1 1966.6,904.4 1966.9,916.2 1967.2,911.6 1967.5,911.9 1967.8,913.6 1968.1,903.2 1968.4,906.6 1968.7,912.4 1969.0,915.7 1969.3,911.4 1969.6,920.0 1969.9,921.6 1970.2,910.5 1970.5,918.8 1970.8,917.1 1971.1,913.3 1971.4,913.6 1971.6,904.9 1971.9,916.7 1972.2,914.7 1972.5,912.8 1972.8,908.5 1973.1,917.0 1973.4,903.9 1973.7,919.3 1974.0,918.5 1974.3,912.2 1974.6,906.2 1974.9,905.7 1975.2,915.7 1975.5,914.3 1975.8,918.9 1976.1,907.2 1976.4,906.0 1976.7,927.6 1977.0,908.3 1977.3,915.1 1977.6,916.1 1977.8,914.7 1978.1,912.4 1978.4,914.5 1978.7,923.8 1979.0,914.2 1979.3,915.7 1979.6,923.9 1979.9,911.3 1980.2,907.3 1980.5,916.5 1980.8,912.8 1981.1,918.2 1981.4,921.1 1981.7,915.5 1982.0,915.5 1982.3,913.2 1982.6,926.5 1982.9,920.2 1983.2,915.2 1983.5,926.5 1983.7,915.9 1984.0,917.4 1984.3,909.9 1984.6,911.1 1984.9,924.6 1985.2,911.7 1985.5,908.3 1985.8,911.2 1986.1,918.6 1986.4,914.9 1986.7,908.4 1987.0,903.6 1987.3,908.6 1987.6,917.1 1987.9,913.8 1988.2,909.2 1988.5,924.6 1988.8,918.5 1989.1,911.1 1989.4,914.7 1989.7,910.9 1989.9,917.3 1990.2,920.5 1990.5,910.5 1990.8,921.0 1991.1,910.8 1991.4,909.3 1991.7,910.7 1992.0,910.3 1992.3,920.9 1992.6,914.2 1992.9,912.6 1993.2,912.3 1993.5,916.1 1993.8,919.0 1994.1,906.2 1994.4,909.2 1994.7,911.5 1995.0,911.6 1995.3,920.4 1995.6,916.2 1995.9,910.8 1996.1,911.1 1996.4,921.4 1996.7,913.6 1997.0,909.2 1997.3,918.7 1997.6,921.7 1997.9,904.8 1998.2,912.7 1998.5,923.1 1998.8,921.7 1999.1,917.5 1999.4,915.9 1999.7,908.9 2000.0,914.1 2000.3,909.5 2000.6,910.3 2000.9,917.6 2001.2,911.5 2001.5,910.7 2001.8,924.4 2002.1,916.0 2002.3,904.4 2002.6,907.9 2002.9,904.9 2003.2,916.3 2003.5,907.6 2003.8,910.5 2004.1,912.9 2004.4,914.4 2004.7,910.3 2005.0,914.6 2005.3,914.2 2005.6,908.5 2005.9,914.8 2006.2,912.0 2006.5,906.6 2006.8,903.5 2007.1,911.5 2007.4,919.4 2007.7,915.0 2008.0,907.2 2008.3,912.0 2008.5,904.2 2008.8,908.3 2009.1,913.0 2009.4,909.5 2009.7,911.9 2010.0,908.1 2010.3,909.5 2010.6,914.1 2010.9,900.4 2011.2,907.4 2011.5,902.9 2011.8,913.3 2012.1,907.9 2012.4,914.4 2012.7,900.2 2013.0,917.5 2013.3,912.0 2013.6,913.7 2013.9,906.4 2014.2,906.4 2014.5,909.4 2014.7,913.1 2015.0,912.0 2015.3,916.2 2015.6,906.9 2015.9,909.4 2016.2,899.7 2016.5,897.0 2016.8,906.7 2017.1,906.7 2017.4,905.8 2017.7,903.6 2018.0,902.7 2018.3,905.3 2018.6,895.7 2018.9,902.4 2019.2,905.0 2019.5,901.7 2019.8,903.8 2020.1,889.9 2020.4,900.6 2020.6,899.4 2020.9,902.0 2021.2,896.1 2021.5,897.6 2021.8,895.8 2022.1,891.2 2022.4,892.0 2022.7,891.3 2023.0,886.1 2023.3,892.3 2023.5,885.5 2023.6,888.6 2023.9,889.3 2024.2,894.0 2024.5,885.9 2024.8,896.2 2025.1,890.6 2025.4,891.4 2025.7,905.2 2026.0,895.2 2026.3,890.1 2026.6,900.6 2026.8,905.9 2027.1,906.3 2027.4,909.9 2027.7,901.5 2028.0,919.7 2028.3,907.4 2028.6,899.0 2028.9,917.4 2029.2,914.3 2029.5,912.9 2029.8,923.7 2030.1,915.4 2030.4,910.2 2030.7,911.9 2031.0,909.9 2031.3,916.1 2031.6,910.1 2031.9,909.8 2032.2,903.5 2032.5,913.8 2032.8,916.2 2033.0,912.2 2033.3,904.9 2033.6,909.3 2033.9,913.2 2034.2,911.1 2034.5,910.5 2034.8,903.8 2035.1,920.0 2035.4,914.5 2035.7,911.8 2036.0,912.0 2036.3,907.5 2036.6,918.7 2036.9,907.3 2037.2,909.5 2037.5,910.2 2037.8,906.5 2038.1,913.3 2038.4,910.3 2038.7,914.9 2039.0,912.9 2039.2,922.9 2039.5,905.4 2039.8,920.9 2040.1,918.6 2040.4,909.5 2040.7,916.2 2041.0,920.7 2041.3,907.0 2041.6,919.3 2041.9,907.8 2042.2,915.4 2042.5,915.6 2042.8,905.4 2043.1,909.2 2043.4,910.9 2043.7,907.5 2044.0,910.9 2044.3,912.8 2044.6,915.7 2044.9,911.9 2045.2,914.1 2045.4,916.2 2045.7,915.5 2046.0,917.3 2046.3,914.3 2046.6,915.0 2046.9,909.0 2047.2,907.3 2047.5,906.0 2047.8,909.5 2048.1,905.1 2048.4,920.2 2048.7,908.5 2049.0,913.9 2049.3,910.7 2049.6,914.5 2049.9,913.6 2050.2,921.2 2050.5,907.9 2050.8,915.7 2051.1,909.7 2051.4,919.2 2051.6,902.7 2051.9,910.8 2052.2,911.0 2052.5,919.3 2052.8,914.6 2053.1,920.3 2053.4,914.4 2053.7,916.1 2054.0,908.9 2054.3,908.8 2054.6,914.1 2054.9,910.6 2055.2,910.5 2055.5,908.7 2055.8,904.8 2056.1,902.8 2056.4,909.8 2056.7,909.4 2057.0,907.7 2057.3,921.7 2057.5,910.1 2057.8,914.4 2058.1,916.4 2058.4,907.9 2058.7,914.2 2059.0,913.1 2059.3,906.1 2059.6,915.0 2059.9,920.8 2060.2,925.1 2060.5,920.5 2060.8,905.4 2061.1,919.3 2061.4,902.5 2061.7,910.5 2062.0,899.8 2062.3,917.6 2062.6,910.5 2062.9,921.0 2063.2,919.4 2063.5,912.9 2063.7,917.9 2064.0,917.9 2064.3,910.7 2064.6,909.6 2064.9,912.6 2065.2,904.6 2065.5,902.5 2065.8,911.7 2066.1,914.9 2066.4,908.6 2066.7,926.4 2067.0,912.9 2067.3,921.6 2067.6,915.7 2067.9,916.1 2068.2,911.9 2068.5,908.0 2068.8,913.6 2069.1,913.3 2069.4,916.8 2069.7,912.3 2069.9,910.6 2070.2,916.4 2070.5,902.8 2070.8,908.6 2071.1,915.8 2071.4,910.7 2071.7,912.3 2072.0,913.7 2072.3,911.9 2072.6,923.7 2072.9,913.1 2073.2,908.9 2073.5,921.1 2073.8,914.7 2074.1,910.8 2074.4,919.3 2074.7,904.4 2075.0,918.3 2075.3,914.0 2075.6,915.6 2075.9,915.4 2076.1,916.0 2076.4,918.8 2076.7,907.5 2077.0,913.3 2077.3,920.6 2077.6,913.4 2077.9,910.7 2078.2,908.8 2078.5,913.5 2078.8,906.5 2079.1,918.9 2079.4,928.1 2079.7,918.9 2080.0,910.6 2080.3,917.5 2080.6,905.5 2080.9,914.9 2081.2,915.3 2081.5,916.8 2081.8,909.9 2082.1,915.4 2082.3,920.2 2082.6,912.1 2082.9,918.5 2083.2,911.3 2083.5,914.7 2083.8,919.8 2084.1,911.1 2084.4,912.0 2084.7,909.2 2085.0,908.0 2085.3,919.6 2085.6,916.8 2085.9,909.5 2086.2,908.5 2086.5,911.5 2086.8,916.7 2087.1,917.2 2087.4,916.6 2087.7,908.4 2088.0,921.4 2088.3,908.5 2088.5,916.0 2088.8,911.5 2089.1,920.3 2089.4,912.0 2089.7,916.3 2090.0,910.6 2090.3,910.6 2090.6,913.0 2090.9,917.1 2091.2,915.4 2091.5,917.3 2091.8,915.3 2092.1,902.4 2092.4,914.8 2092.7,912.7 2093.0,916.3 2093.3,911.8 2093.6,907.2 2093.9,906.1 2094.2,907.8 2094.4,903.0 2094.7,908.8 2095.0,918.6 2095.3,903.9 2095.6,910.1 2095.9,910.5 2096.2,908.2 2096.5,918.2 2096.8,906.5 2097.1,914.5 2097.4,910.8 2097.7,904.1 2098.0,908.6 2098.3,906.1 2098.6,901.0 2098.9,907.1 2099.2,911.7 2099.5,911.2 2099.8,895.5 2100.1,911.5 2100.4,912.7 2100.6,913.3 2100.9,927.1 2101.2,898.7 2101.5,909.8 2101.8,913.2 2102.1,899.1 2102.4,911.3 2102.7,906.4 2103.0,900.5 2103.3,917.0 2103.6,914.8 2103.9,900.8 2104.2,909.2 2104.5,901.0 2104.8,919.0 2105.1,899.5 2105.4,910.5 2105.7,902.1 2106.0,913.6 2106.3,906.2 2106.6,907.5 2106.8,903.7 2107.1,895.9 2107.4,903.0 2107.7,900.6 2108.0,898.1 2108.3,869.0 2108.6,875.9 2108.9,872.8 2109.2,865.1 2109.5,859.1 2109.8,844.4 2110.1,843.2 2110.4,825.4 2110.7,817.6 2111.0,817.0 2111.3,826.6 2111.6,826.8 2111.9,835.1 2112.2,832.4 2112.5,842.4 2112.8,845.2 2113.0,862.9 2113.3,866.4 2113.6,872.9 2113.9,887.7 2114.2,879.3 2114.5,892.1 2114.8,892.5 2115.1,899.2 2115.4,899.5 2115.7,905.5 2116.0,897.0 2116.3,903.7 2116.6,902.2 2116.9,906.2 2117.2,898.9 2117.5,910.3 2117.8,911.0 2118.1,916.8 2118.4,899.9 2118.7,905.0 2119.0,909.1 2119.2,909.4 2119.5,898.1 2119.8,901.1 2120.1,906.4 2120.4,910.8 2120.7,913.2 2121.0,912.0 2121.3,920.4 2121.6,917.0 2121.9,916.0 2122.2,913.4 2122.5,915.5 2122.8,912.8 2123.1,918.5 2123.4,902.2 2123.7,912.8 2124.0,913.7 2124.3,913.1 2124.6,908.7 2124.9,904.4 2125.2,908.3 2125.4,920.8 2125.7,911.1 2126.0,913.5 2126.3,916.0 2126.6,914.8 2126.9,912.7 2127.2,911.2 2127.5,918.0 2127.8,915.9 2128.1,914.2 2128.4,911.3 2128.7,912.5 2129.0,916.5 2129.3,921.3 2129.6,913.3 2129.9,911.4 2130.2,917.5 2130.5,920.8 2130.8,912.9 2131.1,910.4 2131.3,902.3 2131.6,903.4 2131.9,912.5 2132.2,913.2 2132.5,909.9 2132.8,911.0 2133.1,915.3 2133.4,911.4 2133.7,911.2 2134.0,904.4 2134.3,916.6 2134.6,908.6 2134.9,913.0 2135.2,913.0 2135.5,914.5 2135.8,912.0 2136.1,915.8 2136.4,908.7 2136.7,917.2 2137.0,910.3 2137.3,908.1 2137.5,912.7 2137.8,907.9 2138.1,911.7 2138.4,907.9 2138.7,925.5 2139.0,904.5 2139.3,911.9 2139.6,907.4 2139.9,905.1 2140.2,913.2 2140.5,920.6 2140.8,908.9 2141.1,921.0 2141.4,901.5 2141.7,912.5 2142.0,905.7 2142.3,903.0 2142.6,906.7 2142.9,909.3 2143.2,911.5 2143.5,921.2 2143.7,914.4 2144.0,917.4 2144.3,906.1 2144.6,903.5 2144.9,918.0 2145.2,913.2 2145.5,901.7 2145.8,904.9 2146.1,906.2 2146.4,902.6 2146.7,895.9 2147.0,904.1 2147.3,890.4 2147.6,913.2 2147.9,902.1 2148.2,895.2 2148.5,903.5 2148.8,905.4 2149.1,906.7 2149.4,901.6 2149.7,894.4 2149.9,896.2 2150.2,912.4 2150.5,901.6 2150.8,899.1 2151.1,903.4 2151.4,892.5 2151.7,898.4 2152.0,904.9 2152.3,895.1 2152.6,902.8 2152.9,886.6 2153.2,892.3 2153.5,889.0 2153.8,885.2 2154.1,871.3 2154.4,852.5 2154.7,852.8 2155.0,851.4 2155.3,841.3 2155.6,843.4 2155.9,824.8 2156.1,835.6 2156.3,830.2 2156.4,834.1 2156.7,836.9 2157.0,828.1 2157.3,843.0 2157.6,852.8 2157.9,857.6 2158.2,855.3 2158.5,871.9 2158.8,875.1 2159.1,879.4 2159.4,891.6 2159.7,904.7 2160.0,899.6 2160.3,896.5 2160.6,900.3 2160.9,907.5 2161.2,911.8 2161.5,903.2 2161.8,907.6 2162.1,898.6 2162.3,916.8 2162.6,910.2 2162.9,908.2 2163.2,915.2 2163.5,915.0 2163.8,916.5 2164.1,904.5 2164.4,911.2 2164.7,907.7 2165.0,913.5 2165.3,908.4 2165.6,904.6 2165.9,908.4 2166.2,916.2 2166.5,909.7 2166.8,911.9 2167.1,901.2 2167.4,911.8 2167.7,899.7 2168.0,907.0 2168.2,912.9 2168.5,921.3 2168.8,916.1 2169.1,909.9 2169.4,910.7 2169.7,916.8 2170.0,912.6 2170.3,912.2 2170.6,916.9 2170.9,917.5 2171.2,910.6 2171.5,916.5 2171.8,918.4 2172.1,906.8 2172.4,911.0 2172.7,913.8 2173.0,913.2 2173.3,917.4 2173.6,918.4 2173.9,908.8 2174.2,920.0 2174.4,915.7 2174.7,918.4 2175.0,925.8 2175.3,910.5 2175.6,907.1 2175.9,916.2 2176.2,912.9 2176.5,908.8 2176.8,916.8 2177.1,912.1 2177.4,898.5 2177.7,920.4 2178.0,911.1 2178.3,911.1 2178.6,913.4 2178.9,913.3 2179.2,905.9 2179.5,916.5 2179.8,907.1 2180.1,911.8 2180.4,909.5 2180.6,916.7 2180.9,914.3 2181.2,906.1 2181.5,906.9 2181.8,917.5 2182.1,917.3 2182.4,915.3 2182.7,914.8 2183.0,909.8 2183.3,903.9 2183.6,909.8 2183.9,907.1 2184.2,908.5 2184.5,899.1 2184.8,912.3 2185.1,900.0 2185.4,904.7 2185.7,887.2 2186.0,894.6 2186.3,885.7 2186.6,887.6 2186.8,865.3 2187.1,862.8 2187.4,853.6 2187.7,824.7 2188.0,804.5 2188.3,786.8 2188.6,765.2 2188.9,744.3 2189.2,716.4 2189.5,695.1 2189.8,676.0 2190.1,660.9 2190.4,638.9 2190.7,636.1 2191.0,635.3 2191.3,642.5 2191.6,638.3 2191.9,666.4 2192.2,682.0 2192.5,698.6 2192.8,718.6 2193.0,748.7 2193.3,765.6 2193.6,787.5 2193.9,816.1 2194.2,827.0 2194.5,843.2 2194.8,856.9 2195.1,869.9 2195.4,885.6 2195.7,889.6 2196.0,883.4 2196.3,897.6 2196.6,898.5 2196.9,905.1 2197.2,908.2 2197.5,901.5 2197.8,904.0 2198.1,898.4 2198.4,912.8 2198.7,909.7 2199.0,906.0 2199.2,900.9 2199.5,906.6 2199.8,906.7 2200.1,902.9 2200.4,910.1 2200.7,902.2 2201.0,907.6 2201.3,898.4 2201.6,913.5 2201.9,918.0 2202.2,898.8 2202.5,912.0 2202.8,912.2 2203.1,910.2 2203.4,915.5 2203.7,902.8 2204.0,912.8 2204.3,906.7 2204.6,907.6 2204.9,899.5 2205.1,907.2 2205.4,915.9 2205.7,911.7 2206.0,901.2 2206.3,918.5 2206.6,913.6 2206.9,910.9 2207.2,916.4 2207.5,908.4 2207.8,917.6 2208.1,916.3 2208.4,907.6 2208.7,914.1 2209.0,914.6 2209.3,921.3 2209.6,908.3 2209.9,899.8 2210.2,912.7 2210.5,905.2 2210.8,912.2 2211.1,910.4 2211.3,916.2 2211.6,914.1 2211.9,910.1 2212.2,908.6 2212.5,908.6 2212.8,907.7 2213.1,906.7 2213.4,906.8 2213.7,897.3 2214.0,906.3 2214.3,890.7 2214.6,895.9 2214.9,908.3 2215.2,898.1 2215.5,910.4 2215.8,909.3 2216.1,905.5 2216.4,916.2 2216.7,902.0 2217.0,918.2 2217.3,910.7 2217.5,919.9 2217.8,919.9 2218.1,916.0 2218.4,912.6 2218.7,918.0 2219.0,906.7 2219.3,921.4 2219.6,923.8 2219.9,913.2 2220.2,914.8 2220.5,919.5 2220.8,922.9 2221.1,918.4 2221.4,914.6 2221.7,915.0 2222.0,909.0 2222.3,904.7 2222.6,920.4 2222.9,924.0 2223.2,920.2 2223.5,911.8 2223.7,923.5 2224.0,922.9 2224.3,913.9 2224.6,915.7 2224.9,907.1 2225.2,917.8 2225.5,923.8 2225.8,923.7 2226.1,922.9 2226.4,919.5 2226.7,912.6 2227.0,912.2 2227.3,914.1 2227.6,915.4 2227.9,915.4 2228.2,921.6 2228.5,908.4 2228.8,919.6 2229.1,906.9 2229.4,914.9 2229.7,913.6 2229.9,918.3 2230.2,915.9 2230.5,915.7 2230.8,918.0 2231.1,914.9 2231.4,923.5 2231.7,913.5 2232.0,914.4 2232.3,921.2 2232.6,918.9 2232.9,917.4 2233.2,923.5 2233.5,918.5 2233.8,914.6 2234.1,921.4 2234.4,912.7 2234.7,924.6 2235.0,919.3 2235.3,914.1 2235.6,913.3 2235.9,917.3 2236.1,903.7 2236.4,906.0 2236.7,921.5 2237.0,910.1 2237.3,920.8 2237.6,916.9 2237.9,908.3 2238.2,919.5 2238.5,910.5 2238.8,917.0 2239.1,913.0 2239.4,902.0 2239.7,922.8 2240.0,906.0 2240.3,911.3 2240.6,918.4 2240.9,908.3 2241.2,913.9 2241.5,913.8 2241.8,914.3 2242.0,911.7 2242.3,913.9 2242.6,914.0 2242.9,914.0 2243.2,907.8 2243.5,919.7 2243.8,916.0 2244.1,916.1 2244.4,910.8 2244.7,907.6 2245.0,928.1 2245.3,908.9 2245.6,919.7 2245.9,916.4 2246.2,914.8 2246.5,912.0 2246.8,915.3 2247.1,920.9 2247.4,913.7 2247.7,916.0 2248.0,910.4 2248.2,915.2 2248.5,912.2 2248.8,906.6 2249.1,919.3 2249.4,920.4 2249.7,916.7 2250.0,912.8 2250.3,913.6 2250.6,910.7 2250.9,917.5 2251.2,911.5 2251.5,914.4 2251.8,915.6 2252.1,916.8 2252.4,913.3 2252.7,919.1 2253.0,913.1 2253.3,925.1 2253.6,911.6 2253.9,908.7 2254.2,921.7 2254.4,910.1 2254.7,916.5 2255.0,907.6 2255.3,923.5 2255.6,920.3 2255.9,920.2 2256.2,914.1 2256.5,908.2 2256.8,926.5 2257.1,920.7 2257.4,912.1 2257.7,915.9 2258.0,915.6 2258.3,905.2 2258.6,910.5 2258.9,909.5 2259.2,912.6 2259.5,915.8 2259.8,918.8 2260.1,923.8 2260.4,921.0 2260.6,912.9 2260.9,911.4 2261.2,920.9 2261.5,902.8 2261.8,906.4 2262.1,906.5 2262.4,920.2 2262.7,903.4 2263.0,914.1 2263.3,921.7 2263.6,916.6 2263.9,901.8 2264.2,915.0 2264.5,914.4 2264.8,914.8 2265.1,907.7 2265.4,907.8 2265.7,918.6 2266.0,910.7 2266.3,906.7 2266.6,911.5 2266.8,912.7 2267.1,917.7 2267.4,916.8 2267.7,902.6 2268.0,907.8 2268.3,900.7 2268.6,907.9 2268.9,917.2 2269.2,908.5 2269.5,903.0 2269.8,900.2 2269.9,901.2 2270.1,907.9 2270.4,907.1 2270.7,907.0 2271.0,917.7 2271.3,894.4 2271.6,911.0 2271.9,898.2 2272.2,912.6 2272.5,906.5 2272.8,901.7 2273.0,910.1 2273.3,905.8 2273.6,914.8 2273.9,901.4 2274.2,917.7 2274.5,913.7 2274.8,909.8 2275.1,910.7 2275.4,920.6 2275.7,923.4 2276.0,914.8 2276.3,914.9 2276.6,905.8 2276.9,908.6 2277.2,912.2 2277.5,911.7 2277.8,907.8 2278.1,915.0 2278.4,922.7 2278.7,923.1 2278.9,902.0 2279.2,917.4 2279.5,908.6 2279.8,919.5 2280.1,911.8 2280.4,914.1 2280.7,912.7 2281.0,909.5 2281.3,906.5 2281.6,902.7 2281.9,916.1 2282.2,908.9 2282.5,912.0 2282.8,915.6 2283.1,915.8 2283.4,918.4 2283.7,905.6 2284.0,924.0 2284.3,917.2 2284.6,918.8 2284.9,928.0 2285.1,915.2 2285.4,911.4 2285.7,913.7 2286.0,914.0 2286.3,918.1 2286.6,910.3 2286.9,920.1 2287.2,921.2 2287.5,911.0 2287.8,918.3 2288.1,913.3 2288.4,917.1 2288.7,913.3 2289.0,921.0 2289.3,917.9 2289.6,910.3 2289.9,909.6 2290.2,914.5 2290.5,916.6 2290.8,914.8 2291.1,924.1 2291.3,913.5 2291.6,911.7 2291.9,915.2 2292.2,925.9 2292.5,911.3 2292.8,915.9 2293.1,916.1 2293.4,900.5 2293.7,905.6 2294.0,912.1 2294.3,908.8 2294.6,913.4 2294.9,909.9 2295.2,897.5 2295.5,899.7 2295.8,902.9 2296.1,887.9 2296.4,896.1 2296.7,903.4 2297.0,901.4 2297.3,900.9 2297.5,903.9 2297.8,908.6 2298.1,905.8 2298.4,913.8 2298.7,909.8 2299.0,896.2 2299.3,910.1 2299.6,914.9 2299.9,917.0 2300.2,909.0 2300.5,903.0 2300.8,907.4 2301.1,899.5 2301.4,886.8 2301.7,891.4 2302.0,874.4 2302.3,876.3 2302.6,866.6 2302.9,869.1 2303.2,882.8 2303.5,869.9 2303.7,872.3 2304.0,873.9 2304.3,882.9 2304.6,881.2 2304.9,887.0 2305.2,893.0 2305.5,894.9 2305.8,893.2 2306.1,909.4 2306.4,911.7 2306.7,916.9 2307.0,914.4 2307.3,905.2 2307.6,905.4 2307.9,909.8 2308.2,905.0 2308.5,910.7 2308.8,914.7 2309.1,914.4 2309.4,915.2 2309.7,913.9 2309.9,924.1 2310.2,915.1 2310.5,920.1 2310.8,932.0 2311.1,912.4 2311.4,924.8 2311.7,920.5 2312.0,914.2 2312.3,916.6 2312.6,914.5 2312.9,913.3 2313.2,919.8 2313.5,912.7 2313.8,906.8 2314.1,923.7 2314.4,920.0 2314.7,910.2 2315.0,911.5 2315.3,920.0 2315.6,914.7 2315.8,918.0 2316.1,924.2 2316.4,915.2 2316.7,921.5 2317.0,920.3 2317.3,919.4 2317.6,913.4 2317.9,920.9 2318.2,914.6 2318.5,919.3 2318.8,910.7 2319.1,918.0 2319.4,919.3 2319.7,910.4 2320.0,910.8 2320.3,925.6 2320.6,923.7 2320.9,912.9 2321.2,921.2 2321.5,917.7 2321.8,918.6 2322.0,913.2 2322.3,917.8 2322.6,918.0 2322.9,914.4 2323.2,915.8 2323.5,928.9 2323.8,916.5 2324.1,925.1 2324.4,915.4 2324.7,912.2 2325.0,921.1 2325.3,906.7 2325.6,911.7 2325.9,919.6 2326.2,910.7 2326.5,912.6 2326.8,915.7 2327.1,919.7 2327.4,923.0 2327.7,922.8 2328.0,916.4 2328.2,904.7 2328.5,919.0 2328.8,919.2 2329.1,917.4 2329.4,919.0 2329.7,909.3 2330.0,923.2 2330.3,916.5 2330.6,908.0 2330.9,917.0 2331.2,922.7 2331.5,917.1 2331.8,916.3 2332.1,924.0 2332.4,918.4 2332.7,917.1 2333.0,921.0 2333.3,916.3 2333.6,916.0 2333.9,914.1 2334.2,923.4 2334.4,921.0 2334.7,920.2 2335.0,912.6 2335.3,921.3 2335.6,920.1 2335.9,920.9 2336.2,915.5 2336.5,922.4 2336.8,924.0 2337.1,922.2 2337.4,924.9 2337.7,904.9 2338.0,914.8 2338.3,914.7 2338.6,928.7 2338.9,920.5 2339.2,927.9 2339.5,919.4 2339.8,918.6 2340.1,918.9 2340.4,922.3 2340.6,918.9 2340.9,923.1 2341.2,925.8 2341.5,918.2 2341.8,911.4 2342.1,914.3 2342.4,913.2 2342.7,931.2 2343.0,915.3 2343.3,921.4 2343.6,924.1 2343.9,916.6 2344.2,923.0 2344.5,919.7 2344.8,922.7 2345.1,922.1 2345.4,913.0 2345.7,921.6 2346.0,918.9 2346.3,924.6 2346.6,926.3 2346.8,921.4 2347.1,916.3 2347.4,917.7 2347.7,927.0 2348.0,927.0 2348.3,923.7 2348.6,921.2 2348.9,915.1 2349.2,925.3 2349.5,926.2 2349.8,931.0 2350.1,923.0 2350.4,918.8 2350.7,930.8 2351.0,911.0 2351.3,918.2 2351.6,926.4 2351.9,922.9 2352.2,921.5 2352.5,923.5 2352.7,926.8 2353.0,917.4 2353.3,931.7 2353.6,915.7 2353.9,916.7 2354.2,915.8 2354.5,918.9 2354.8,914.0 2355.1,921.2 2355.4,923.7 2355.7,922.0 2356.0,914.8 2356.3,917.9 2356.6,921.2 2356.9,915.4 2357.2,917.9 2357.5,930.3 2357.8,917.5 2358.1,919.2 2358.4,918.0 2358.7,929.3 2358.9,918.6 2359.2,920.1 2359.5,932.9 2359.8,918.2 2360.1,922.3 2360.4,921.8 2360.7,915.4 2361.0,913.6 2361.3,933.3 2361.6,927.3 2361.9,917.9 2362.2,932.7 2362.5,917.6 2362.8,917.4 2363.1,913.0 2363.4,923.7 2363.7,922.9 2364.0,921.0 2364.3,916.9 2364.6,914.7 2364.9,917.6 2365.1,917.4 2365.4,928.6 2365.7,923.2 2366.0,922.4 2366.3,929.6 2366.6,929.1 2366.9,922.3 2367.2,927.4 2367.5,920.8 2367.8,916.4 2368.1,929.5 2368.4,930.0 2368.7,927.2 2369.0,929.1 2369.3,922.1 2369.6,919.6 2369.9,919.1 2370.2,913.1 2370.5,913.9 2370.8,923.9 2371.1,914.5 2371.3,920.5 2371.6,927.1 2371.9,922.1 2372.2,920.9 2372.5,923.6 2372.8,920.8 2373.1,917.3 2373.4,914.4 2373.7,925.7 2374.0,923.9 2374.3,917.1 2374.6,915.1 2374.9,919.1 2375.2,916.9 2375.5,915.2 2375.8,925.2 2376.1,917.9 2376.4,925.9 2376.7,926.9 2377.0,918.7 2377.3,922.1 2377.5,919.2 2377.8,921.4 2378.1,924.9 2378.4,917.7 2378.7,918.1 2379.0,916.9 2379.3,923.9 2379.6,926.1 2379.9,927.7 2380.2,922.0 2380.5,920.1 2380.8,911.7 2381.1,924.7 2381.4,922.3 2381.7,921.7 2382.0,920.5 2382.3,926.7 2382.6,919.2 2382.9,918.2 2383.2,917.6 2383.5,924.4 2383.7,923.4 2384.0,930.7 2384.3,921.8 2384.6,925.5 2384.9,919.6 2385.2,912.8 2385.5,925.5 2385.8,925.0 2386.1,912.2 2386.4,922.7 2386.7,925.0 2387.0,929.3 2387.3,917.8 2387.6,914.0 2387.9,913.8 2388.2,921.9 2388.5,908.1 2388.8,919.2 2389.1,910.2 2389.4,912.5 2389.6,904.8 2389.9,909.1 2390.2,913.8 2390.5,915.9 2390.8,916.7 2391.1,903.3 2391.4,913.8 2391.7,911.8 2392.0,918.4 2392.3,915.7 2392.6,921.5 2392.9,911.3 2393.2,911.6 2393.5,900.8 2393.8,919.9 2394.1,906.2 2394.4,903.7 2394.7,909.3 2395.0,916.5 2395.3,900.5 2395.6,909.1 2395.8,896.3 2396.1,910.0 2396.4,904.1 2396.7,904.5 2397.0,902.7 2397.3,896.7 2397.6,893.9 2397.9,903.9 2398.2,901.9 2398.5,905.2 2398.8,906.4 2399.1,904.2 2399.4,903.1 2399.7,905.2 2400.0,906.7 2400.3,909.3 2400.6,913.2 2400.9,914.3 2401.2,909.6 2401.5,915.2 2401.8,907.1 2402.0,920.9 2402.3,916.6 2402.6,910.6 2402.9,915.6 2403.2,925.6 2403.5,923.9 2403.8,917.5 2404.1,922.5 2404.4,903.8 2404.7,923.6 2405.0,927.8 2405.3,913.2 2405.6,905.9 2405.9,918.8 2406.2,925.7 2406.5,919.6 2406.8,922.9 2407.1,923.3 2407.4,919.9 2407.7,925.1 2408.0,924.8 2408.2,922.0 2408.5,912.8 2408.8,908.6 2409.1,910.3 2409.4,912.3 2409.7,928.0 2410.0,921.3 2410.3,910.8 2410.6,927.2 2410.9,912.2 2411.2,919.9 2411.5,917.5 2411.8,914.4 2412.1,916.1 2412.4,914.0 2412.7,918.3 2413.0,921.2 2413.3,911.6 2413.6,921.8 2413.9,915.6 2414.2,928.6 2414.4,912.1 2414.7,909.9 2415.0,918.5 2415.3,918.8 2415.6,917.3 2415.9,919.7 2416.2,908.8 2416.5,928.4 2416.8,913.3 2417.1,916.0 2417.4,915.4 2417.7,919.0 2418.0,922.5 2418.3,920.1 2418.6,922.6 2418.9,930.3 2419.2,924.0 2419.5,923.8 2419.8,912.3 2420.1,921.2 2420.4,926.3 2420.6,918.5 2420.9,909.9 2421.2,914.7 2421.5,911.8 2421.8,924.2 2422.1,920.7 2422.4,921.8 2422.7,911.8 2423.0,915.2 2423.3,921.1 2423.6,924.8 2423.9,926.0 2424.2,921.7 2424.5,918.1 2424.8,922.2 2425.1,911.9 2425.4,915.5 2425.7,913.8 2426.0,922.7 2426.3,910.6 2426.5,914.5 2426.8,919.7 2427.1,917.9 2427.4,920.5 2427.7,922.8 2428.0,915.6 2428.3,914.4 2428.6,916.6 2428.9,925.8 2429.2,916.0 2429.5,917.4 2429.8,922.2 2430.1,921.2 2430.4,918.4 2430.7,908.5 2431.0,921.8 2431.3,929.7 2431.6,912.0 2431.9,916.5 2432.2,923.3 2432.5,914.6 2432.7,907.7 2433.0,929.3 2433.3,912.8 2433.6,928.9 2433.9,919.9 2434.2,918.9 2434.5,910.7 2434.8,920.8 2435.1,920.5 2435.4,925.8 2435.7,920.7 2436.0,918.6 2436.3,921.0 2436.6,912.5 2436.9,924.3 2437.2,923.5 2437.5,920.7 2437.8,923.2 2438.1,922.7 2438.4,914.7 2438.7,928.5 2438.9,913.2 2439.2,924.3 2439.5,921.3 2439.8,915.1 2440.1,925.2 2440.4,913.8 2440.7,922.0 2441.0,908.9 2441.3,923.4 2441.6,921.6 2441.9,911.3 2442.2,914.6 2442.5,916.7 2442.8,914.5 2443.1,916.5 2443.4,914.2 2443.7,917.4 2444.0,910.9 2444.3,919.8 2444.6,915.7 2444.9,932.4 2445.1,920.5 2445.4,913.4 2445.7,920.5 2446.0,926.5 2446.3,924.7 2446.6,917.0 2446.9,921.1 2447.2,907.5 2447.5,918.4 2447.8,922.3 2448.1,914.9 2448.4,925.2 2448.7,915.5 2449.0,914.0 2449.3,911.5 2449.6,913.2 2449.9,915.7 2450.2,915.6 2450.5,908.3 2450.8,912.4 2451.1,912.0 2451.3,914.2 2451.6,909.5 2451.9,906.8 2452.2,923.2 2452.5,917.2 2452.8,899.3 2453.1,910.6 2453.4,899.7 2453.7,902.2 2454.0,902.5 2454.3,901.0 2454.6,903.4 2454.9,902.2 2455.2,905.2 2455.5,906.9 2455.8,911.2 2456.1,887.8 2456.4,911.4 2456.7,899.0 2457.0,896.0 2457.3,903.2 2457.5,916.9 2457.8,912.4 2458.1,914.4 2458.4,902.5 2458.7,915.9 2459.0,917.2 2459.3,916.3 2459.6,915.2 2459.9,905.6 2460.2,906.2 2460.5,906.4 2460.8,907.7 2461.1,906.4 2461.4,908.4 2461.7,906.0 2462.0,895.4 2462.3,905.5 2462.6,903.8 2462.9,908.6 2463.2,908.9 2463.4,906.1 2463.7,907.0 2464.0,904.1 2464.3,901.0 2464.6,895.2 2464.9,894.1 2465.2,896.6 2465.5,894.0 2465.8,900.1 2466.1,895.3 2466.4,895.2 2466.7,893.6 2467.0,892.2 2467.3,893.8 2467.6,899.9 2467.9,900.0 2468.2,897.3 2468.5,893.5 2468.8,900.0 2469.1,892.0 2469.4,900.8 2469.6,892.9 2469.9,897.5 2470.2,907.4 2470.5,906.8 2470.8,899.6 2471.1,905.6 2471.4,911.0 2471.7,903.7 2472.0,912.6 2472.3,916.4 2472.6,911.8 2472.9,916.4 2473.2,915.3 2473.5,918.8 2473.8,913.9 2474.1,911.9 2474.4,923.1 2474.7,912.8 2475.0,911.8 2475.3,915.4 2475.6,918.3 2475.8,915.3 2476.1,926.6 2476.4,909.3 2476.7,920.0 2477.0,909.5 2477.3,915.9 2477.6,921.0 2477.9,914.7 2478.2,905.3 2478.5,921.1 2478.8,921.4 2479.1,919.0 2479.4,913.8 2479.7,911.1 2480.0,919.2 2480.3,913.3 2480.6,906.9 2480.9,912.3 2481.2,918.7 2481.5,916.0 2481.8,918.4 2482.0,923.1 2482.3,927.5 2482.6,908.7 2482.9,920.8 2483.2,915.6 2483.5,914.0 2483.8,909.6 2484.1,923.2 2484.4,905.8 2484.7,915.4 2485.0,929.2 2485.3,912.4 2485.6,917.6 2485.9,910.7 2486.2,913.0 2486.5,921.0 2486.8,917.2 2487.1,913.8 2487.4,910.4 2487.7,911.6 2488.0,913.6 2488.2,911.1 2488.5,922.1 2488.8,913.8 2489.1,915.5 2489.4,910.3 2489.7,908.9 2490.0,918.6 2490.3,914.4 2490.6,919.3 2490.9,917.3 2491.2,929.9 2491.5,918.6 2491.8,924.8 2492.1,904.1 2492.4,918.6 2492.7,920.1 2493.0,907.8 2493.3,916.8 2493.6,909.9 2493.9,921.1 2494.2,910.8 2494.4,914.7 2494.7,925.0 2495.0,911.4 2495.3,906.7 2495.6,913.3 2495.9,910.3 2496.2,905.7 2496.5,917.1 2496.8,918.0 2497.1,906.4 2497.4,916.8 2497.7,903.0 2498.0,913.0 2498.3,915.1 2498.6,915.5 2498.9,906.3 2499.2,907.5 2499.5,905.3 2499.8,897.7 2500.1,913.3 2500.3,918.6 2500.6,905.3 2500.9,895.9 2501.2,902.9 2501.5,908.2 2501.8,910.6 2502.1,900.9 2502.4,909.9 2502.7,901.9 2503.0,904.9 2503.3,914.8 2503.6,902.8 2503.9,900.1 2504.2,899.5 2504.5,895.7 2504.8,893.0 2505.1,886.7 2505.4,884.3 2505.7,881.5 2506.0,888.9 2506.3,871.2 2506.5,877.3 2506.8,884.1 2507.1,872.8 2507.4,862.1 2507.7,858.9 2508.0,865.7 2508.3,851.8 2508.5,860.9 2508.6,844.5 2508.9,849.5 2509.2,869.4 2509.5,861.7 2509.8,881.4 2510.1,873.9 2510.4,882.3 2510.7,885.0 2511.0,879.8 2511.3,892.9 2511.6,893.0 2511.9,901.1 2512.2,891.3 2512.5,884.8 2512.7,898.7 2513.0,899.5 2513.3,901.1 2513.6,909.6 2513.9,906.7 2514.2,898.7 2514.5,897.5 2514.8,903.0 2515.1,908.5 2515.4,905.6 2515.7,912.4 2516.0,898.1 2516.3,915.8 2516.6,907.9 2516.9,915.3 2517.2,916.7 2517.5,912.4 2517.8,907.3 2518.1,911.3 2518.4,920.5 2518.7,917.5 2518.9,917.6 2519.2,913.8 2519.5,926.1 2519.8,930.5 2520.1,915.7 2520.4,917.0 2520.7,916.3 2521.0,913.5 2521.3,926.6 2521.6,926.3 2521.9,909.9 2522.2,914.7 2522.5,925.4 2522.8,921.2 2523.1,927.0 2523.4,918.2 2523.7,926.9 2524.0,914.7 2524.3,919.3 2524.6,919.0 2524.9,920.3 2525.1,923.5 2525.4,919.2 2525.7,917.5 2526.0,919.7 2526.3,932.8 2526.6,911.8 2526.9,917.2 2527.2,924.8 2527.5,915.0 2527.8,911.7 2528.1,922.9 2528.4,910.7 2528.7,911.1 2529.0,923.2 2529.3,918.9 2529.6,923.9 2529.9,916.7 2530.2,929.0 2530.5,916.6 2530.8,913.8 2531.1,926.7 2531.3,926.5 2531.6,917.8 2531.9,920.7 2532.2,924.5 2532.5,922.5 2532.8,923.6 2533.1,920.5 2533.4,931.6 2533.7,925.4 2534.0,913.9 2534.3,918.0 2534.6,916.5 2534.9,927.5 2535.2,927.8 2535.5,918.4 2535.8,930.4 2536.1,925.9 2536.4,926.1 2536.7,923.8 2537.0,920.7 2537.2,919.1 2537.5,930.2 2537.8,917.8 2538.1,925.0 2538.4,925.2 2538.7,922.7 2539.0,926.1 2539.3,926.6 2539.6,932.1 2539.9,925.4 2540.2,921.0 2540.5,925.8 2540.8,917.8 2541.1,926.1 2541.4,920.2 2541.7,921.4 2542.0,925.8 2542.3,924.8 2542.6,918.0 2542.9,926.6 2543.2,924.7 2543.4,915.9 2543.7,921.1 2544.0,931.0 2544.3,921.3 2544.6,919.8 2544.9,924.2 2545.2,924.2 2545.5,918.3 2545.8,915.3 2546.1,917.0 2546.4,916.0 2546.7,931.2 2547.0,926.5 2547.3,919.5 2547.6,907.1 2547.9,916.2 2548.2,929.2 2548.5,925.3 2548.8,920.3 2549.1,903.4 2549.4,922.3 2549.6,914.5 2549.9,927.2 2550.2,918.2 2550.5,923.5 2550.8,927.0 2551.1,917.8 2551.4,912.4 2551.7,917.6 2552.0,923.2 2552.3,931.8 2552.6,923.2 2552.9,914.1 2553.2,931.2 2553.5,915.7 2553.8,922.6 2554.1,919.4 2554.4,923.4 2554.7,914.2 2555.0,917.8 2555.3,921.6 2555.6,917.6 2555.8,922.1 2556.1,923.1 2556.4,912.6 2556.7,919.6 2557.0,915.0 2557.3,915.1 2557.6,916.6 2557.9,916.9 2558.2,919.7 2558.5,916.4 2558.8,924.1 2559.1,915.6 2559.4,917.8 2559.7,914.0 2560.0,917.7 2560.3,916.5 2560.6,911.5 2560.9,916.1 2561.2,916.8 2561.5,917.8 2561.8,914.1 2562.0,917.4 2562.3,911.1 2562.6,925.7 2562.9,923.8 2563.2,915.9 2563.5,913.9 2563.8,914.1 2564.1,925.8 2564.4,909.4 2564.7,925.1 2565.0,913.7 2565.3,914.6 2565.6,911.9 2565.9,923.0 2566.2,925.3 2566.5,920.5 2566.8,912.5 2567.1,904.5 2567.4,913.9 2567.7,921.9 2568.0,912.8 2568.2,918.6 2568.5,912.0 2568.8,911.9 2569.1,910.5 2569.4,923.8 2569.7,913.1 2570.0,908.0 2570.3,910.7 2570.6,905.6 2570.9,909.0 2571.2,905.0 2571.5,916.9 2571.8,922.6 2572.1,911.1 2572.4,922.3 2572.7,909.8 2573.0,924.2 2573.3,920.5 2573.6,918.4 2573.9,914.2 2574.1,902.8 2574.4,915.7 2574.7,911.9 2575.0,913.5 2575.3,916.1 2575.6,918.7 2575.9,912.3 2576.2,916.7 2576.5,911.8 2576.8,907.6 2577.1,915.4 2577.4,911.0 2577.7,910.6 2578.0,918.8 2578.3,910.2 2578.6,913.5 2578.9,906.7 2579.2,914.3 2579.5,926.0 2579.8,915.1 2580.1,914.6 2580.3,909.2 2580.6,916.7 2580.9,904.3 2581.2,907.7 2581.5,910.5 2581.8,922.3 2582.1,911.7 2582.4,908.5 2582.7,897.5 2583.0,912.6 2583.3,895.9 2583.6,896.2 2583.9,904.4 2584.2,905.9 2584.5,898.2 2584.8,899.7 2585.1,903.6 2585.4,899.4 2585.7,901.1 2586.0,905.7 2586.3,908.2 2586.5,905.3 2586.8,903.0 2587.1,896.9 2587.4,889.4 2587.7,904.4 2588.0,885.8 2588.3,881.0 2588.6,875.2 2588.9,882.9 2589.2,876.9 2589.5,859.9 2589.8,848.9 2590.1,851.0 2590.4,848.9 2590.7,844.9 2591.0,842.3 2591.1,846.2 2591.3,850.4 2591.6,859.8 2591.9,857.3 2592.2,866.0 2592.5,879.6 2592.7,874.5 2593.0,882.4 2593.3,872.1 2593.6,881.6 2593.9,886.8 2594.2,889.3 2594.5,887.5 2594.8,891.9 2595.1,898.5 2595.4,890.2 2595.7,902.5 2596.0,899.5 2596.3,904.7 2596.6,905.4 2596.9,900.0 2597.2,907.1 2597.5,907.3 2597.8,905.0 2598.1,912.5 2598.4,908.8 2598.7,919.8 2598.9,915.4 2599.2,908.6 2599.5,917.4 2599.8,911.6 2600.1,910.5 2600.4,922.1 2600.7,905.5 2601.0,913.5 2601.3,914.1 2601.6,915.9 2601.9,908.4 2602.2,917.8 2602.5,917.3 2602.8,911.0 2603.1,917.6 2603.4,919.4 2603.7,911.9 2604.0,921.9 2604.3,916.3 2604.6,916.0 2604.9,920.3 2605.1,916.5 2605.4,922.3 2605.7,913.7 2606.0,915.0 2606.3,913.2 2606.6,928.8 2606.9,925.9 2607.2,914.6 2607.5,920.9 2607.8,921.5 2608.1,920.0 2608.4,905.7 2608.7,915.6 2609.0,917.1 2609.3,914.7 2609.6,914.7 2609.9,918.9 2610.2,916.1 2610.5,921.1 2610.8,921.4 2611.0,907.3 2611.3,909.7 2611.6,920.7 2611.9,918.3 2612.2,916.6 2612.5,908.9 2612.8,915.0 2613.1,919.1 2613.4,916.3 2613.7,915.1 2614.0,916.5 2614.3,903.7 2614.6,916.7 2614.9,919.1 2615.2,922.6 2615.5,924.7 2615.8,915.9 2616.1,917.7 2616.4,912.7 2616.7,923.8 2617.0,916.3 2617.2,915.7 2617.5,917.6 2617.8,926.3 2618.1,913.1 2618.4,917.3 2618.7,920.4 2619.0,924.8 2619.3,920.4 2619.6,928.0 2619.9,919.0 2620.2,926.4 2620.5,928.3 2620.8,917.6 2621.1,923.5 2621.4,920.1 2621.7,920.2 2622.0,920.6 2622.3,928.4 2622.6,917.8 2622.9,924.8 2623.2,932.1 2623.4,912.3 2623.7,923.0 2624.0,931.0 2624.3,925.3 2624.6,937.5 2624.9,922.2 2625.2,927.3 2625.5,919.9 2625.8,916.9 2626.1,926.0 2626.4,923.2 2626.7,917.0 2627.0,926.6 2627.3,925.7 2627.6,928.4 2627.9,930.9 2628.2,930.4 2628.5,932.2 2628.8,918.2 2629.1,919.4 2629.4,924.6 2629.6,929.7 2629.9,929.6 2630.2,918.9 2630.5,927.3 2630.8,930.5 2631.1,922.6 2631.4,927.7 2631.7,927.8 2632.0,922.0 2632.3,933.1 2632.6,924.2 2632.9,919.5 2633.2,929.6 2633.5,918.8 2633.8,932.4 2634.1,919.3 2634.4,925.3 2634.7,924.5 2635.0,920.3 2635.3,926.1 2635.6,911.7 2635.8,916.6 2636.1,926.7 2636.4,936.3 2636.7,919.5 2637.0,922.5 2637.3,929.0 2637.6,924.7 2637.9,925.3 2638.2,917.0 2638.5,924.7 2638.8,917.3 2639.1,926.2 2639.4,924.4 2639.7,929.8 2640.0,925.0 2640.3,918.3 2640.6,934.3 2640.9,927.1 2641.2,927.1 2641.5,934.0 2641.8,924.1 2642.0,918.8 2642.3,914.1 2642.6,914.6 2642.9,926.7 2643.2,919.3 2643.5,923.4 2643.8,924.1 2644.1,927.7 2644.4,924.5 2644.7,920.7 2645.0,922.4 2645.3,922.3 2645.6,915.6 2645.9,920.8 2646.2,931.5 2646.5,923.1 2646.8,918.5 2647.1,916.6 2647.4,928.0 2647.7,920.9 2647.9,923.7 2648.2,932.9 2648.5,920.6 2648.8,929.0 2649.1,921.0 2649.4,918.3 2649.7,931.6 2650.0,916.2 2650.3,924.7 2650.6,924.7 2650.9,921.1 2651.2,925.4 2651.5,918.1 2651.8,923.2 2652.1,917.8 2652.4,931.3 2652.7,929.6 2653.0,917.9 2653.3,927.2 2653.6,917.3 2653.9,920.5 2654.1,924.9 2654.4,926.7 2654.7,919.4 2655.0,923.4 2655.3,915.3 2655.6,925.5 2655.9,926.5 2656.2,924.0 2656.5,923.5 2656.8,923.3 2657.1,924.3 2657.4,926.4 2657.7,923.0 2658.0,921.3 2658.3,924.5 2658.6,918.7 2658.9,920.9 2659.2,918.8 2659.5,919.7 2659.8,930.8 2660.1,928.0 2660.3,918.0 2660.6,927.5 2660.9,933.2 2661.2,927.9 2661.5,920.4 2661.8,925.2 2662.1,912.3 2662.4,923.3 2662.7,925.8 2663.0,929.5 2663.3,925.9 2663.6,920.8 2663.9,925.2 2664.2,912.6 2664.5,920.9 2664.8,925.6 2665.1,922.0 2665.4,912.6 2665.7,918.9 2666.0,929.8 2666.3,912.8 2666.5,923.9 2666.8,929.7 2667.1,918.4 2667.4,930.7 2667.7,925.7 2668.0,924.0 2668.3,926.8 2668.6,929.0 2668.9,926.3 2669.2,922.3 2669.5,932.5 2669.8,919.4 2670.1,927.2 2670.4,923.5 2670.7,924.8 2671.0,924.3 2671.3,931.8 2671.6,922.5 2671.9,932.7 2672.2,920.9 2672.5,922.1 2672.7,931.9 2673.0,921.8 2673.3,916.4 2673.6,922.0 2673.9,920.3 2674.2,921.5 2674.5,921.4 2674.8,919.8 2675.1,922.5 2675.4,919.3 2675.7,930.0 2676.0,927.7 2676.3,924.8 2676.6,926.3 2676.9,923.0 2677.2,929.8 2677.5,923.3 2677.8,922.9 2678.1,929.7 2678.4,924.6 2678.7,931.2 2678.9,921.9 2679.2,928.8 2679.5,920.7 2679.8,916.6 2680.1,911.0 2680.4,920.3 2680.7,921.9 2681.0,923.0 2681.3,923.1 2681.6,924.7 2681.9,920.8 2682.2,930.9 2682.5,927.2 2682.8,926.0 2683.1,914.2 2683.4,922.9 2683.7,914.4 2684.0,923.1 2684.3,925.5 2684.6,935.4 2684.8,926.2 2685.1,918.1 2685.4,929.6 2685.7,925.9 2686.0,930.7 2686.3,927.4 2686.6,919.6 2686.9,921.4 2687.2,922.7 2687.5,925.2 2687.8,923.3 2688.1,926.2 2688.4,925.0 2688.7,922.1 2689.0,922.7 2689.3,917.7 2689.6,922.7 2689.9,927.4 2690.2,927.0 2690.5,924.7 2690.8,934.1 2691.0,921.6 2691.3,923.2 2691.6,922.9 2691.9,921.8 2692.2,918.7 2692.5,921.0 2692.8,921.8 2693.1,920.0 2693.4,920.2 2693.7,925.6 2694.0,923.5 2694.3,918.2 2694.6,934.2 2694.9,924.3 2695.2,921.9 2695.5,936.2 2695.8,929.7 2696.1,922.8 2696.4,915.9 2696.7,924.0 2697.0,924.5 2697.2,930.9 2697.5,925.8 2697.8,926.9 2698.1,928.9 2698.4,926.6 2698.7,924.4 2699.0,919.6 2699.3,930.8 2699.6,930.3 2699.9,922.7 2700.2,923.1 2700.5,934.2 2700.8,916.3 2701.1,914.5 2701.4,927.0 2701.7,922.9 2702.0,932.8 2702.3,920.1 2702.6,910.6 2702.9,922.5 2703.2,915.5 2703.4,933.3 2703.7,924.0 2704.0,924.3 2704.3,930.1 2704.6,927.4 2704.9,929.8 2705.2,916.5 2705.5,928.1 2705.8,925.8 2706.1,925.0 2706.4,921.1 2706.7,925.8 2707.0,915.5 2707.3,922.9 2707.6,922.5 2707.9,921.5 2708.2,929.1 2708.5,923.3 2708.8,925.7 2709.1,927.2 2709.4,920.1 2709.6,919.4 2709.9,921.9 2710.2,920.8 2710.5,934.5 2710.8,932.3 2711.1,923.0 2711.4,925.3 2711.7,913.7 2712.0,914.7 2712.3,922.7 2712.6,922.9 2712.9,920.7 2713.2,938.2 2713.5,927.4 2713.8,921.9 2714.1,920.6 2714.4,920.9 2714.7,920.4 2715.0,919.9 2715.3,914.6 2715.6,924.1 2715.8,917.9 2716.1,912.0 2716.4,916.2 2716.7,916.3 2717.0,918.2 2717.3,913.8 2717.6,913.3 2717.9,917.7 2718.2,899.2 2718.5,920.3 2718.8,920.6 2719.1,917.1 2719.4,906.7 2719.7,912.1 2720.0,914.6 2720.3,914.8 2720.6,914.4 2720.9,916.3 2721.2,910.5 2721.5,919.9 2721.7,914.8 2722.0,922.6 2722.3,923.9 2722.6,909.6 2722.9,914.0 2723.2,919.8 2723.5,916.7 2723.8,917.3 2724.1,935.7 2724.4,930.6 2724.7,917.7 2725.0,921.5 2725.3,920.4 2725.6,917.4 2725.9,913.8 2726.2,931.9 2726.5,925.2 2726.8,928.7 2727.1,920.5 2727.4,935.2 2727.7,931.3 2727.9,930.0 2728.2,913.3 2728.5,934.2 2728.8,920.1 2729.1,906.5 2729.4,926.4 2729.7,923.9 2730.0,918.4 2730.3,918.1 2730.6,925.0 2730.9,919.1 2731.2,922.8 2731.5,921.2 2731.8,929.1 2732.1,945.4 2732.4,920.0 2732.7,923.0 2733.0,926.4 2733.3,927.3 2733.6,926.7 2733.9,923.5 2734.1,925.9 2734.4,923.9 2734.7,919.3 2735.0,926.0 2735.3,922.4 2735.6,922.7 2735.9,926.4 2736.2,918.4 2736.5,927.3 2736.8,923.9 2737.1,933.4 2737.4,924.1 2737.7,914.0 2738.0,920.7 2738.3,924.1 2738.6,918.0 2738.9,928.6 2739.2,924.7 2739.5,927.3 2739.8,925.5 2740.1,923.0 2740.3,929.2 2740.6,931.3 2740.9,921.9 2741.2,916.8 2741.5,921.6 2741.8,930.7 2742.1,928.6 2742.4,919.4 2742.7,924.4 2743.0,932.7 2743.3,928.1 2743.6,925.9 2743.9,917.3 2744.2,926.1 2744.5,915.6 2744.8,931.2 2745.1,925.0 2745.4,925.3 2745.7,924.1 2746.0,926.3 2746.3,918.5 2746.5,924.8 2746.8,927.1 2747.1,917.2 2747.4,925.9 2747.7,917.4 2748.0,922.2 2748.3,924.2 2748.6,925.0 2748.9,923.7 2749.2,912.5 2749.5,932.3 2749.8,915.2 2750.1,929.4 2750.4,914.8 2750.7,916.8 2751.0,920.8 2751.3,928.5 2751.6,923.7 2751.9,926.0 2752.2,919.4 2752.5,919.2 2752.7,921.8 2753.0,921.4 2753.3,923.9 2753.6,917.4 2753.9,918.3 2754.2,923.0 2754.5,922.2 2754.8,912.3 2755.1,924.2 2755.4,928.7 2755.7,922.8 2756.0,911.8 2756.3,925.6 2756.6,925.0 2756.9,933.4 2757.2,917.8 2757.5,925.5 2757.8,923.1 2758.1,916.1 2758.4,916.2 2758.6,920.6 2758.9,924.5 2759.2,925.1 2759.5,924.1 2759.8,914.3 2760.1,918.1 2760.4,917.2 2760.7,922.9 2761.0,908.9 2761.3,906.8 2761.6,920.8 2761.9,911.2 2762.2,914.5 2762.5,908.0 2762.8,923.4 2763.1,922.7 2763.4,911.9 2763.7,906.8 2764.0,917.5 2764.3,923.5 2764.6,926.3 2764.8,925.6 2765.1,919.7 2765.4,924.6 2765.7,918.9 2766.0,925.9 2766.3,926.8 2766.6,933.4 2766.9,931.5 2767.2,930.3 2767.5,928.3 2767.8,922.2 2768.1,931.2 2768.4,922.6 2768.7,932.6 2769.0,918.1 2769.3,927.8 2769.6,931.8 2769.9,909.5 2770.2,930.9 2770.5,927.5 2770.8,932.7 2771.0,927.6 2771.3,925.0 2771.6,924.6 2771.9,915.8 2772.2,923.0 2772.5,933.2 2772.8,926.5 2773.1,922.5 2773.4,923.2 2773.7,921.6 2774.0,938.1 2774.3,921.6 2774.6,932.1 2774.9,928.5 2775.2,923.4 2775.5,918.6 2775.8,931.6 2776.1,927.0 2776.4,931.4 2776.7,929.8 2777.0,927.8 2777.2,924.8 2777.5,929.2 2777.8,926.7 2778.1,930.5 2778.4,914.0 2778.7,930.0 2779.0,925.4 2779.3,930.8 2779.6,931.9 2779.9,924.8 2780.2,937.3 2780.5,916.3 2780.8,927.6 2781.1,933.1 2781.4,926.8 2781.7,919.6 2782.0,927.6 2782.3,927.9 2782.6,933.1 2782.9,933.5 2783.2,926.4 2783.4,929.7 2783.7,929.7 2784.0,921.8 2784.3,925.3 2784.6,930.0 2784.9,935.1 2785.2,933.9 2785.5,935.2 2785.8,935.6 2786.1,918.4 2786.4,928.3 2786.7,932.1 2787.0,936.1 2787.3,929.0 2787.6,932.7 2787.9,923.8 2788.2,920.6 2788.5,922.1 2788.8,929.8 2789.1,937.2 2789.4,933.9 2789.6,929.8 2789.9,928.0 2790.2,927.0 2790.5,919.1 2790.8,924.4 2791.1,926.0 2791.4,926.5 2791.7,928.7 2792.0,935.1 2792.3,932.1 2792.6,936.5 2792.9,926.0 2793.2,927.1 2793.5,922.5 2793.8,935.5 2794.1,924.3 2794.4,924.2 2794.7,924.0 2795.0,928.6 2795.3,927.9 2795.5,927.2 2795.8,925.1 2796.1,934.8 2796.4,932.2 2796.7,925.8 2797.0,922.2 2797.3,920.0 2797.6,931.2 2797.9,933.4 2798.2,926.4 2798.5,930.9 2798.8,913.8 2799.1,937.1 2799.4,920.9 2799.7,930.3 2800.0,922.6 2800.3,922.2 2800.6,924.9 2800.9,929.0 2801.2,933.7 2801.5,928.8 2801.7,922.7 2802.0,925.1 2802.3,923.5 2802.6,931.2 2802.9,937.7 2803.2,919.8 2803.5,937.9 2803.8,926.2 2804.1,920.9 2804.4,926.5 2804.7,921.8 2805.0,929.1 2805.3,925.7 2805.6,927.8 2805.9,934.3 2806.2,936.1 2806.5,932.1 2806.8,927.1 2807.1,933.7 2807.4,929.7 2807.7,915.3 2807.9,919.8 2808.2,926.0 2808.5,932.1 2808.8,927.8 2809.1,921.8 2809.4,929.7 2809.7,926.7 2810.0,922.6 2810.3,925.9 2810.6,930.1 2810.9,924.6 2811.2,916.5 2811.5,926.7 2811.8,922.4 2812.1,929.6 2812.4,935.8 2812.7,920.7 2813.0,926.5 2813.3,926.6 2813.6,929.0 2813.9,928.5 2814.1,915.6 2814.4,935.9 2814.7,927.8 2815.0,921.5 2815.3,933.4 2815.6,936.8 2815.9,927.6 2816.2,927.9 2816.5,925.2 2816.8,927.8 2817.1,922.7 2817.4,927.2 2817.7,919.9 2818.0,923.7 2818.3,923.3 2818.6,924.0 2818.9,933.1 2819.2,925.1 2819.5,927.3 2819.8,928.5 2820.1,918.2 2820.3,930.0 2820.6,935.7 2820.9,936.7 2821.2,924.1 2821.5,928.3 2821.8,928.6 2822.1,943.5 2822.4,933.7 2822.7,926.0 2823.0,933.9 2823.3,921.7 2823.6,935.0 2823.9,928.7 2824.2,927.7 2824.5,944.4 2824.8,922.0 2825.1,934.6 2825.4,932.9 2825.7,928.5 2826.0,924.3 2826.3,927.3 2826.5,920.3 2826.8,929.5 2827.1,933.0 2827.4,935.4 2827.7,924.9 2828.0,924.3 2828.3,934.4 2828.6,921.1 2828.9,928.4 2829.2,932.9 2829.5,926.9 2829.8,935.9 2830.1,922.0 2830.4,928.6 2830.7,932.6 2831.0,925.9 2831.3,929.7 2831.6,930.8 2831.9,930.3 2832.2,925.7 2832.4,930.1 2832.7,927.0 2833.0,922.5 2833.3,931.9 2833.6,912.0 2833.9,932.9 2834.2,936.0 2834.5,927.7 2834.8,931.2 2835.1,920.3 2835.4,928.2 2835.7,929.7 2836.0,935.5 2836.3,916.1 2836.6,921.9 2836.9,915.6 2837.2,925.2 2837.5,936.2 2837.8,934.8 2838.1,936.4 2838.4,938.4 2838.6,941.7 2838.9,924.8 2839.2,934.2 2839.5,930.9 2839.8,933.6 2840.1,931.0 2840.4,927.5 2840.7,938.0 2841.0,923.0 2841.3,926.8 2841.6,933.3 2841.9,928.5 2842.2,929.0 2842.5,922.3 2842.8,931.3 2843.1,916.2 2843.4,926.6 2843.7,929.6 2844.0,932.5 2844.3,930.6 2844.6,934.6 2844.8,933.5 2845.1,931.8 2845.4,924.7 2845.7,930.3 2846.0,932.4 2846.3,930.2 2846.6,928.8 2846.9,924.0 2847.2,922.0 2847.5,930.9 2847.8,935.5 2848.1,931.7 2848.4,923.5 2848.7,932.5 2849.0,934.2 2849.3,922.7 2849.6,929.0 2849.9,929.9 2850.2,935.1 2850.5,935.9 2850.8,933.9 2851.0,936.7 2851.3,932.2 2851.6,932.9 2851.9,929.8 2852.2,923.3 2852.5,933.7 2852.8,922.2 2853.1,931.2 2853.4,933.9 2853.7,940.7 2854.0,924.5 2854.3,931.8 2854.6,934.1 2854.9,935.6 2855.2,924.1 2855.5,936.8 2855.8,926.6 2856.1,932.5 2856.4,925.8 2856.7,929.3 2857.0,929.0 2857.2,924.1 2857.5,927.0 2857.8,936.1 2858.1,925.6 2858.4,937.2 2858.7,933.9 2859.0,929.0 2859.3,928.6 2859.6,938.1 2859.9,928.8 2860.2,930.1 2860.5,928.8 2860.8,938.1 2861.1,919.1 2861.4,927.8 2861.7,923.1 2862.0,934.6 2862.3,926.2 2862.6,938.9 2862.9,935.9 2863.2,926.3 2863.4,921.5 2863.7,935.6 2864.0,926.7 2864.3,923.8 2864.6,936.0 2864.9,941.8 2865.2,943.9 2865.5,925.0 2865.8,928.6 2866.1,926.5 2866.4,924.3 2866.7,925.3 2867.0,936.5 2867.3,933.5 2867.6,931.1 2867.9,921.6 2868.2,929.9 2868.5,933.3 2868.8,927.7 2869.1,927.7 2869.3,926.1 2869.6,925.9 2869.9,923.5 2870.2,926.7 2870.5,920.7 2870.8,931.3 2871.1,927.4 2871.4,932.0 2871.7,936.7 2872.0,938.2 2872.3,928.0 2872.6,934.1 2872.9,937.5 2873.2,928.2 2873.5,927.7 2873.8,932.3 2874.1,927.2 2874.4,934.9 2874.7,924.5 2875.0,934.0 2875.3,924.2 2875.5,930.3 2875.8,936.3 2876.1,932.5 2876.4,927.3 2876.7,927.1 2877.0,931.3 2877.3,929.5 2877.6,920.2 2877.9,925.0 2878.2,928.4 2878.5,931.9 2878.8,924.1 2879.1,930.9 2879.4,935.0 2879.7,928.5 2880.0,928.8 2880.3,926.3 2880.6,932.6 2880.9,931.4 2881.2,924.3 2881.5,927.6 2881.7,930.7 2882.0,928.7 2882.3,930.5 2882.6,939.3 2882.9,931.4 2883.2,932.5 2883.5,937.4 2883.8,929.3 2884.1,932.3 2884.4,935.6 2884.7,935.4 2885.0,932.6 2885.3,918.1 2885.6,926.4 2885.9,931.4 2886.2,929.5 2886.5,926.6 2886.8,934.1 2887.1,933.4 2887.4,933.7 2887.7,928.9 2887.9,933.9 2888.2,929.7 2888.5,935.8 2888.8,923.9 2889.1,925.8 2889.4,934.5 2889.7,932.3 2890.0,930.1 2890.3,932.7 2890.6,928.4 2890.9,927.8 2891.2,931.1 2891.5,931.1 2891.8,925.9 2892.1,938.3 2892.4,926.3 2892.7,926.1 2893.0,931.3 2893.3,927.2 2893.6,930.5 2893.9,926.9 2894.1,936.6 2894.4,930.6 2894.7,930.6 2895.0,926.0 2895.3,925.6 2895.6,928.6 2895.9,934.6 2896.2,934.5 2896.5,924.9 2896.8,931.6 2897.1,930.8 2897.4,936.1 2897.7,927.7 2898.0,934.3 2898.3,930.0 2898.6,929.9 2898.9,927.2 2899.2,946.6 2899.5,927.2 2899.8,921.8 2900.1,931.9 2900.3,930.1 2900.6,932.8 2900.9,932.5 2901.2,922.8 2901.5,928.2 2901.8,931.3 2902.1,938.1 2902.4,930.2 2902.7,927.4 2903.0,939.7 2903.3,931.5 2903.6,919.1 2903.9,931.7 2904.2,930.6 2904.5,926.2 2904.8,939.8 2905.1,933.0 2905.4,920.7 2905.7,925.1 2906.0,926.1 2906.2,932.2 2906.5,931.6 2906.8,927.8 2907.1,929.6 2907.4,924.4 2907.7,928.8 2908.0,930.4 2908.3,924.9 2908.6,930.1 2908.9,926.5 2909.2,930.0 2909.5,931.3 2909.8,928.7 2910.1,929.8 2910.4,926.8 2910.7,938.4 2911.0,926.3 2911.3,934.9 2911.6,933.1 2911.9,927.7 2912.2,932.3 2912.4,928.7 2912.7,931.5 2913.0,927.8 2913.3,926.8 2913.6,922.4 2913.9,934.4 2914.2,929.3 2914.5,925.1 2914.8,923.6 2915.1,936.6 2915.4,932.8 2915.7,934.6 2916.0,931.8 2916.3,937.8 2916.6,927.2 2916.9,934.0 2917.2,936.6 2917.5,932.5 2917.8,931.6 2918.1,926.8 2918.4,915.4 2918.6,932.2 2918.9,929.7 2919.2,924.6 2919.5,921.9 2919.8,925.8 2920.1,934.4 2920.4,933.2 2920.7,924.8 2921.0,926.0 2921.3,934.4 2921.6,928.2 2921.9,929.0 2922.2,940.3 2922.5,934.0 2922.8,927.6 2923.1,920.7 2923.4,927.8 2923.7,933.5 2924.0,937.7 2924.3,935.3 2924.6,934.1 2924.8,932.7 2925.1,932.1 2925.4,929.2 2925.7,929.2 2926.0,930.6 2926.3,942.0 2926.6,934.0 2926.9,931.8 2927.2,925.1 2927.5,921.7 2927.8,936.1 2928.1,930.0 2928.4,934.3 2928.7,932.5 2929.0,929.4 2929.3,936.1 2929.6,929.5 2929.9,931.5 2930.2,940.2 2930.5,923.6 2930.8,934.8 2931.0,931.9 2931.3,930.6 2931.6,939.8 2931.9,930.5 2932.2,938.4 2932.5,934.2 2932.8,929.5 2933.1,938.6 2933.4,934.7 2933.7,937.1 2934.0,928.7 2934.3,937.4 2934.6,932.5 2934.9,928.8 2935.2,925.0 2935.5,927.1 2935.8,937.5 2936.1,928.1 2936.4,917.5 2936.7,924.8 2937.0,927.2 2937.2,926.2 2937.5,929.6 2937.8,936.0 2938.1,929.0 2938.4,934.6 2938.7,928.8 2939.0,929.7 2939.3,938.8 2939.6,925.0 2939.9,931.3 2940.2,925.7 2940.5,929.9 2940.8,929.1 2941.1,930.5 2941.4,924.2 2941.7,930.0 2942.0,924.2 2942.3,933.3 2942.6,935.8 2942.9,943.9 2943.1,929.6 2943.4,932.5 2943.7,939.9 2944.0,932.2 2944.3,930.3 2944.6,942.1 2944.9,933.9 2945.2,929.8 2945.5,936.4 2945.8,939.5 2946.1,934.9 2946.4,938.0 2946.7,926.3 2947.0,927.8 2947.3,932.5 2947.6,926.8 2947.9,929.1 2948.2,933.5 2948.5,928.4 2948.8,936.8 2949.1,932.4 2949.3,940.6 2949.6,930.8 2949.9,923.4 2950.2,925.3 2950.5,936.5 2950.8,928.5 2951.1,937.6 2951.4,927.9 2951.7,933.4 2952.0,928.2 2952.3,929.9 2952.6,938.9 2952.9,930.6 2953.2,928.4 2953.5,933.7 2953.8,929.6 2954.1,924.2 2954.4,929.1 2954.7,923.9 2955.0,931.9 2955.3,932.7 2955.5,922.0 2955.8,928.5 2956.1,934.0 2956.4,925.2 2956.7,943.6 2957.0,932.2 2957.3,937.8 2957.6,926.1 2957.9,930.1 2958.2,932.8 2958.5,928.9 2958.8,926.7 2959.1,922.0 2959.4,936.5 2959.7,932.1 2960.0,939.6 2960.3,937.2 2960.6,931.2 2960.9,931.5 2961.2,932.4 2961.5,926.7 2961.7,938.8 2962.0,934.0 2962.3,933.4 2962.6,935.2 2962.9,930.7 2963.2,931.6 2963.5,933.9 2963.8,937.3 2964.1,924.2 2964.4,937.0 2964.7,936.4 2965.0,933.1 2965.3,933.1 2965.6,928.1 2965.9,933.2 2966.2,936.6 2966.5,946.7 2966.8,933.7 2967.1,940.7 2967.4,930.4 2967.7,936.8 2967.9,940.7 2968.2,936.1 2968.5,927.1 2968.8,939.7 2969.1,932.9 2969.4,939.3 2969.7,930.2 2970.0,937.2 2970.3,932.1 2970.6,935.9 2970.9,924.0 2971.2,929.2 2971.5,935.0 2971.8,931.8 2972.1,936.0 2972.4,933.9 2972.7,929.9 2973.0,938.6 2973.3,926.6 2973.6,927.2 2973.9,928.1 2974.1,929.4 2974.4,928.0 2974.7,933.1 2975.0,927.4 2975.3,937.4 2975.6,942.1 2975.9,933.2 2976.2,927.4 2976.5,933.9 2976.8,931.4 2977.1,936.4 2977.4,931.8 2977.7,932.8 2978.0,934.0 2978.3,933.1 2978.6,932.6 2978.9,934.0 2979.2,935.8 2979.5,934.2 2979.8,933.3 2980.0,925.3 2980.3,935.7 2980.6,929.4 2980.9,933.7 2981.2,931.6 2981.5,930.0 2981.8,938.4 2982.1,931.3 2982.4,928.9 2982.7,938.6 2983.0,927.6 2983.3,932.2 2983.6,930.3 2983.9,933.3 2984.2,941.1 2984.5,932.7 2984.8,921.0 2985.1,934.9 2985.4,936.0 2985.7,925.7 2986.0,928.4 2986.2,930.0 2986.5,929.6 2986.8,921.8 2987.1,926.0 2987.4,937.9 2987.7,923.6 2988.0,926.6 2988.3,931.6 2988.6,925.9 2988.9,939.0 2989.2,927.0 2989.5,936.4 2989.8,919.9 2990.1,918.8 2990.4,929.5 2990.7,926.3 2991.0,926.3 2991.3,924.7 2991.6,933.4 2991.9,926.2 2992.2,917.9 2992.4,927.5 2992.7,924.1 2993.0,922.3 2993.3,934.5 2993.6,934.9 2993.9,924.6 2994.2,923.3 2994.5,928.3 2994.8,929.9 2995.1,917.8 2995.4,921.2"/>
<polyline class="cv" stroke="#e63147" stroke-width="5" points="1814.6,542.0 1814.9,542.8 1815.2,542.1 1815.5,542.0 1815.8,541.9 1816.1,541.9 1816.4,545.5 1816.7,537.2 1817.0,548.0 1817.3,531.1 1817.6,529.8 1817.8,544.4 1818.1,543.0 1818.4,539.1 1818.7,536.4 1819.0,539.9 1819.3,552.8 1819.6,537.0 1819.9,543.5 1820.2,543.4 1820.5,551.7 1820.8,541.4 1821.1,544.5 1821.4,539.6 1821.7,545.3 1822.0,543.8 1822.3,538.4 1822.6,538.0 1822.9,539.1 1823.2,549.8 1823.5,543.7 1823.8,544.6 1824.0,541.2 1824.3,539.2 1824.6,544.4 1824.9,540.4 1825.2,548.3 1825.5,550.9 1825.8,545.7 1826.1,539.8 1826.4,548.8 1826.7,531.1 1827.0,538.1 1827.3,545.2 1827.6,545.3 1827.9,543.9 1828.2,543.0 1828.5,546.3 1828.8,543.7 1829.1,545.4 1829.4,548.4 1829.7,539.5 1830.0,542.2 1830.2,538.8 1830.5,538.2 1830.8,543.2 1831.1,544.1 1831.4,546.6 1831.7,545.7 1832.0,545.4 1832.3,548.7 1832.6,548.6 1832.9,543.9 1833.2,547.0 1833.5,546.4 1833.8,546.4 1834.1,544.9 1834.4,544.3 1834.7,540.4 1835.0,550.3 1835.3,542.0 1835.6,550.3 1835.9,541.9 1836.1,537.0 1836.4,548.4 1836.7,546.5 1837.0,549.5 1837.3,541.0 1837.6,543.7 1837.9,552.0 1838.2,549.4 1838.5,535.3 1838.8,541.6 1839.1,543.2 1839.4,553.2 1839.7,552.6 1840.0,537.1 1840.3,545.0 1840.6,559.0 1840.9,536.3 1841.2,549.2 1841.5,538.6 1841.8,544.5 1842.1,542.2 1842.3,544.3 1842.6,539.1 1842.9,534.5 1843.2,549.4 1843.5,550.4 1843.8,539.1 1844.1,545.1 1844.4,536.4 1844.7,545.8 1845.0,543.7 1845.3,539.5 1845.6,540.2 1845.9,551.9 1846.2,546.3 1846.5,536.8 1846.8,547.2 1847.1,544.3 1847.4,549.1 1847.7,551.0 1848.0,546.0 1848.3,553.8 1848.5,543.1 1848.8,550.5 1849.1,549.7 1849.4,540.0 1849.7,543.2 1850.0,549.1 1850.3,552.4 1850.6,547.8 1850.9,547.6 1851.2,543.9 1851.5,553.2 1851.8,540.6 1852.1,552.8 1852.4,549.2 1852.7,551.2 1853.0,546.8 1853.3,540.9 1853.6,542.2 1853.9,539.8 1854.2,545.6 1854.5,541.9 1854.7,547.7 1855.0,549.9 1855.3,546.3 1855.6,550.7 1855.9,537.6 1856.2,551.1 1856.5,543.7 1856.8,555.1 1857.1,540.1 1857.4,538.6 1857.7,546.1 1858.0,542.0 1858.3,552.4 1858.6,550.4 1858.9,551.6 1859.2,556.4 1859.5,550.7 1859.8,540.5 1860.1,546.9 1860.4,537.4 1860.7,541.5 1860.9,543.7 1861.2,541.3 1861.5,535.9 1861.8,540.6 1862.1,539.5 1862.4,544.0 1862.7,546.1 1863.0,539.8 1863.3,555.0 1863.6,537.3 1863.9,544.2 1864.2,545.4 1864.5,538.5 1864.8,539.2 1865.1,545.9 1865.4,541.2 1865.7,533.4 1866.0,542.8 1866.3,550.5 1866.6,551.1 1866.9,544.9 1867.1,552.0 1867.4,548.0 1867.7,532.7 1868.0,544.4 1868.3,544.0 1868.6,547.8 1868.9,547.3 1869.2,544.0 1869.5,540.7 1869.8,550.9 1870.1,534.0 1870.4,543.6 1870.7,538.6 1871.0,534.0 1871.3,544.9 1871.6,542.1 1871.9,540.9 1872.2,546.9 1872.5,538.6 1872.8,546.0 1873.0,545.3 1873.3,542.2 1873.6,545.4 1873.9,536.1 1874.2,538.7 1874.5,543.2 1874.8,542.3 1875.1,531.4 1875.4,542.7 1875.7,548.0 1876.0,549.2 1876.3,542.7 1876.6,552.7 1876.9,534.2 1877.2,548.4 1877.5,533.7 1877.8,540.9 1878.1,536.3 1878.4,538.2 1878.7,549.3 1879.0,548.3 1879.2,545.8 1879.5,544.2 1879.8,539.5 1880.1,545.7 1880.4,545.8 1880.7,552.7 1881.0,548.1 1881.3,551.0 1881.6,530.8 1881.9,543.7 1882.2,546.9 1882.5,542.8 1882.8,539.2 1883.1,540.0 1883.4,539.8 1883.7,536.5 1884.0,548.9 1884.3,544.8 1884.6,544.2 1884.9,539.4 1885.2,553.3 1885.4,540.7 1885.7,544.0 1886.0,543.9 1886.3,542.4 1886.6,542.2 1886.9,545.4 1887.2,540.4 1887.5,545.2 1887.8,544.7 1888.1,546.9 1888.4,553.1 1888.7,542.5 1889.0,537.7 1889.3,546.1 1889.6,543.6 1889.9,541.9 1890.2,541.6 1890.5,547.7 1890.8,551.3 1891.1,547.2 1891.4,549.7 1891.6,532.7 1891.9,539.3 1892.2,544.5 1892.5,545.1 1892.8,546.3 1893.1,551.0 1893.4,544.6 1893.7,550.2 1894.0,548.6 1894.3,550.8 1894.6,545.8 1894.9,554.4 1895.2,544.0 1895.5,549.5 1895.8,548.5 1896.1,548.1 1896.4,547.4 1896.7,548.5 1897.0,545.7 1897.3,541.6 1897.6,543.3 1897.8,539.2 1898.1,549.8 1898.4,546.7 1898.7,545.4 1899.0,541.4 1899.3,538.0 1899.6,550.3 1899.9,555.0 1900.2,541.6 1900.5,532.9 1900.8,552.1 1901.1,545.0 1901.4,540.0 1901.7,548.4 1902.0,548.0 1902.3,546.3 1902.6,538.1 1902.9,544.9 1903.2,555.9 1903.5,546.9 1903.8,543.5 1904.0,543.0 1904.3,546.3 1904.6,543.2 1904.9,545.1 1905.2,541.4 1905.5,553.4 1905.8,538.7 1906.1,545.0 1906.4,554.5 1906.7,558.3 1907.0,546.5 1907.3,536.9 1907.6,547.8 1907.9,554.5 1908.2,543.9 1908.5,548.7 1908.8,552.0 1909.1,545.2 1909.4,547.6 1909.7,544.7 1909.9,544.1 1910.2,547.9 1910.5,546.9 1910.8,541.3 1911.1,544.9 1911.4,548.4 1911.7,543.0 1912.0,547.3 1912.3,546.4 1912.6,540.1 1912.9,545.3 1913.2,551.2 1913.5,545.3 1913.8,547.0 1914.1,551.1 1914.4,540.5 1914.7,541.1 1915.0,543.2 1915.3,545.8 1915.6,546.1 1915.9,545.8 1916.1,546.1 1916.4,552.9 1916.7,553.0 1917.0,556.0 1917.3,538.5 1917.6,547.9 1917.9,550.2 1918.2,552.1 1918.5,539.5 1918.8,547.8 1919.1,552.5 1919.4,551.2 1919.7,551.5 1920.0,552.5 1920.3,553.2 1920.6,538.4 1920.9,534.2 1921.2,539.7 1921.5,546.8 1921.8,552.0 1922.1,547.5 1922.3,545.8 1922.6,539.4 1922.9,555.0 1923.2,542.4 1923.5,540.6 1923.8,555.8 1924.1,544.5 1924.4,541.6 1924.7,539.2 1925.0,548.5 1925.3,540.1 1925.6,549.1 1925.9,543.3 1926.2,543.4 1926.5,554.9 1926.8,550.0 1927.1,543.1 1927.4,547.8 1927.7,547.0 1928.0,557.7 1928.3,538.2 1928.5,535.3 1928.8,541.7 1929.1,539.3 1929.4,549.8 1929.7,546.9 1930.0,552.9 1930.3,542.4 1930.6,561.1 1930.9,554.3 1931.2,540.6 1931.5,553.0 1931.8,555.7 1932.1,543.2 1932.4,551.4 1932.7,545.7 1933.0,546.2 1933.3,551.5 1933.6,553.0 1933.9,540.8 1934.2,536.6 1934.5,550.9 1934.7,543.4 1935.0,545.7 1935.3,550.3 1935.6,549.3 1935.9,541.5 1936.2,534.0 1936.5,534.2 1936.8,535.4 1937.1,519.2 1937.4,532.2 1937.7,527.7 1938.0,529.2 1938.3,547.1 1938.6,543.6 1938.9,542.2 1939.2,544.4 1939.5,544.2 1939.8,547.3 1940.1,540.5 1940.4,535.3 1940.7,545.9 1940.9,545.3 1941.2,550.8 1941.5,546.2 1941.8,549.0 1942.1,564.5 1942.4,554.2 1942.7,541.7 1943.0,551.7 1943.3,546.9 1943.6,554.2 1943.9,549.3 1944.2,549.9 1944.5,550.6 1944.8,541.1 1945.1,545.1 1945.4,555.7 1945.7,551.7 1946.0,541.1 1946.3,543.7 1946.6,541.7 1946.8,545.8 1947.1,548.1 1947.4,552.3 1947.7,552.4 1948.0,543.7 1948.3,550.1 1948.6,545.9 1948.9,538.9 1949.2,562.4 1949.5,542.6 1949.8,555.7 1950.1,543.8 1950.4,542.0 1950.7,547.9 1951.0,542.9 1951.3,548.6 1951.6,549.9 1951.9,550.8 1952.2,541.3 1952.5,543.5 1952.8,536.9 1953.0,537.0 1953.3,543.9 1953.6,546.8 1953.9,549.0 1954.2,555.4 1954.5,535.5 1954.8,549.5 1955.1,539.6 1955.4,555.3 1955.7,552.7 1956.0,551.8 1956.3,550.6 1956.6,549.0 1956.9,543.9 1957.2,549.7 1957.5,543.1 1957.8,548.1 1958.1,539.1 1958.4,541.8 1958.7,547.4 1959.0,545.2 1959.2,553.0 1959.5,552.0 1959.8,552.6 1960.1,546.4 1960.4,545.5 1960.7,544.2 1961.0,541.6 1961.3,549.0 1961.6,543.6 1961.9,540.2 1962.2,538.5 1962.5,551.0 1962.8,548.5 1963.1,549.9 1963.4,539.9 1963.7,549.5 1964.0,548.1 1964.3,547.3 1964.6,549.7 1964.9,559.2 1965.2,552.0 1965.4,544.8 1965.7,548.2 1966.0,546.7 1966.3,542.5 1966.6,548.5 1966.9,554.9 1967.2,543.3 1967.5,534.8 1967.8,553.6 1968.1,546.1 1968.4,541.7 1968.7,546.2 1969.0,542.4 1969.3,532.3 1969.6,558.2 1969.9,553.3 1970.2,545.6 1970.5,548.2 1970.8,548.3 1971.1,549.4 1971.4,553.4 1971.6,535.4 1971.9,546.6 1972.2,554.5 1972.5,541.3 1972.8,541.8 1973.1,542.1 1973.4,551.6 1973.7,546.1 1974.0,543.7 1974.3,538.8 1974.6,549.8 1974.9,553.0 1975.2,544.0 1975.5,547.9 1975.8,539.7 1976.1,539.0 1976.4,542.9 1976.7,536.3 1977.0,545.5 1977.3,544.1 1977.6,542.3 1977.8,536.7 1978.1,542.4 1978.4,531.1 1978.7,541.4 1979.0,542.5 1979.3,535.0 1979.6,541.8 1979.9,554.0 1980.2,551.1 1980.5,545.3 1980.8,543.6 1981.1,535.7 1981.4,553.1 1981.7,550.3 1982.0,546.2 1982.3,543.9 1982.6,543.6 1982.9,547.3 1983.2,539.0 1983.5,546.8 1983.7,545.2 1984.0,537.2 1984.3,540.1 1984.6,546.3 1984.9,538.7 1985.2,543.4 1985.5,538.4 1985.8,539.3 1986.1,547.1 1986.4,551.4 1986.7,543.3 1987.0,553.9 1987.3,544.8 1987.6,549.7 1987.9,527.5 1988.2,542.4 1988.5,553.2 1988.8,551.6 1989.1,541.9 1989.4,542.4 1989.7,539.0 1989.9,545.2 1990.2,549.5 1990.5,550.6 1990.8,539.8 1991.1,534.5 1991.4,539.4 1991.7,541.9 1992.0,546.1 1992.3,540.6 1992.6,544.5 1992.9,542.6 1993.2,550.2 1993.5,544.0 1993.8,538.9 1994.1,539.7 1994.4,546.0 1994.7,540.3 1995.0,543.1 1995.3,533.1 1995.6,534.5 1995.9,547.4 1996.1,543.0 1996.4,548.5 1996.7,526.6 1997.0,539.2 1997.3,550.2 1997.6,543.7 1997.9,537.2 1998.2,547.7 1998.5,544.3 1998.8,548.6 1999.1,541.2 1999.4,545.9 1999.7,540.9 2000.0,553.8 2000.3,542.8 2000.6,545.0 2000.9,546.3 2001.2,542.7 2001.5,542.8 2001.8,535.9 2002.1,557.5 2002.3,547.9 2002.6,541.3 2002.9,545.5 2003.2,547.8 2003.5,549.0 2003.8,537.3 2004.1,542.7 2004.4,540.2 2004.7,547.8 2005.0,549.9 2005.3,550.6 2005.6,538.5 2005.9,543.9 2006.2,546.1 2006.5,543.9 2006.8,550.1 2007.1,542.3 2007.4,546.5 2007.7,538.4 2008.0,536.5 2008.3,547.5 2008.5,548.6 2008.8,548.7 2009.1,545.8 2009.4,543.5 2009.7,548.8 2010.0,546.7 2010.3,539.0 2010.6,538.3 2010.9,550.5 2011.2,545.6 2011.5,541.5 2011.8,549.7 2012.1,546.8 2012.4,540.6 2012.7,544.7 2013.0,554.1 2013.3,539.4 2013.6,541.7 2013.9,545.6 2014.2,538.0 2014.5,545.9 2014.7,538.3 2015.0,559.8 2015.3,548.1 2015.6,542.1 2015.9,550.8 2016.2,548.2 2016.5,541.1 2016.8,545.6 2017.1,545.0 2017.4,549.2 2017.7,543.5 2018.0,541.3 2018.3,537.0 2018.6,547.9 2018.9,539.1 2019.2,544.1 2019.5,541.3 2019.8,540.8 2020.1,546.7 2020.4,549.4 2020.6,546.2 2020.9,540.2 2021.2,547.2 2021.5,536.3 2021.8,546.8 2022.1,537.5 2022.4,548.6 2022.7,550.0 2023.0,546.6 2023.3,543.7 2023.6,546.5 2023.9,539.0 2024.2,544.7 2024.5,542.8 2024.8,536.7 2025.1,532.8 2025.4,539.8 2025.7,530.4 2026.0,542.1 2026.3,535.6 2026.6,545.8 2026.8,532.6 2027.1,537.7 2027.4,537.6 2027.7,535.0 2028.0,536.7 2028.3,542.6 2028.6,530.6 2028.9,528.6 2029.2,531.5 2029.5,542.6 2029.8,538.5 2030.1,536.2 2030.4,542.2 2030.7,538.3 2031.0,536.8 2031.3,538.5 2031.6,532.9 2031.9,547.5 2032.2,528.7 2032.5,547.0 2032.8,546.2 2033.0,528.4 2033.3,535.8 2033.6,540.5 2033.9,547.6 2034.2,547.4 2034.5,537.4 2034.8,541.3 2035.1,542.6 2035.4,544.6 2035.7,539.4 2036.0,537.0 2036.3,551.2 2036.6,537.7 2036.9,534.3 2037.2,545.5 2037.5,540.4 2037.8,532.1 2038.1,547.4 2038.4,541.1 2038.7,548.6 2039.0,536.8 2039.2,539.9 2039.5,531.6 2039.8,547.4 2040.1,546.2 2040.4,538.7 2040.7,544.1 2041.0,552.6 2041.3,540.7 2041.6,542.7 2041.9,541.5 2042.2,538.6 2042.5,539.4 2042.8,548.2 2043.1,543.7 2043.4,545.6 2043.7,537.1 2044.0,544.6 2044.3,549.1 2044.6,547.8 2044.9,540.9 2045.2,544.2 2045.4,549.8 2045.7,551.0 2046.0,551.8 2046.3,544.3 2046.6,547.1 2046.9,545.4 2047.2,539.1 2047.5,553.5 2047.8,547.4 2048.1,546.6 2048.4,548.3 2048.7,545.6 2049.0,556.8 2049.3,524.7 2049.6,535.9 2049.9,553.3 2050.2,536.3 2050.5,541.7 2050.8,539.2 2051.1,545.7 2051.4,541.0 2051.6,545.5 2051.9,537.4 2052.2,533.7 2052.5,549.0 2052.8,541.2 2053.1,545.2 2053.4,548.9 2053.7,537.5 2054.0,528.9 2054.3,537.5 2054.6,516.4 2054.9,516.1 2055.2,526.8 2055.5,512.7 2055.8,513.6 2056.1,505.3 2056.4,513.5 2056.7,506.7 2057.0,501.0 2057.3,507.8 2057.5,493.7 2057.8,510.5 2058.1,508.1 2058.4,516.3 2058.7,522.5 2059.0,506.8 2059.3,522.1 2059.6,541.4 2059.9,531.6 2060.2,528.2 2060.5,544.8 2060.8,538.3 2061.1,537.1 2061.4,539.3 2061.7,542.6 2062.0,543.9 2062.3,541.6 2062.6,542.4 2062.9,542.7 2063.2,541.6 2063.5,540.5 2063.7,545.1 2064.0,542.6 2064.3,543.3 2064.6,541.0 2064.9,553.5 2065.2,550.4 2065.5,542.4 2065.8,545.1 2066.1,550.6 2066.4,551.4 2066.7,545.2 2067.0,540.3 2067.3,549.6 2067.6,544.4 2067.9,546.2 2068.2,547.1 2068.5,558.9 2068.8,556.3 2069.1,546.0 2069.4,543.5 2069.7,543.2 2069.9,545.5 2070.2,548.1 2070.5,556.8 2070.8,549.9 2071.1,550.9 2071.4,548.2 2071.7,539.0 2072.0,538.3 2072.3,547.5 2072.6,544.6 2072.9,546.2 2073.2,545.6 2073.5,550.9 2073.8,545.1 2074.1,539.6 2074.4,548.4 2074.7,540.7 2075.0,548.4 2075.3,539.4 2075.6,543.9 2075.9,547.9 2076.1,541.4 2076.4,541.6 2076.7,541.5 2077.0,553.5 2077.3,548.5 2077.6,551.5 2077.9,549.8 2078.2,553.1 2078.5,540.4 2078.8,545.9 2079.1,552.6 2079.4,544.2 2079.7,542.4 2080.0,551.2 2080.3,541.1 2080.6,555.4 2080.9,547.1 2081.2,548.3 2081.5,546.5 2081.8,542.6 2082.1,547.6 2082.3,543.5 2082.6,545.7 2082.9,554.3 2083.2,552.0 2083.5,546.5 2083.8,548.4 2084.1,547.7 2084.4,547.1 2084.7,547.8 2085.0,546.6 2085.3,536.8 2085.6,550.6 2085.9,554.9 2086.2,539.7 2086.5,552.3 2086.8,550.2 2087.1,553.0 2087.4,533.2 2087.7,544.6 2088.0,551.6 2088.3,545.9 2088.5,552.1 2088.8,541.4 2089.1,555.9 2089.4,540.2 2089.7,542.5 2090.0,547.6 2090.3,545.8 2090.6,544.2 2090.9,545.2 2091.2,542.8 2091.5,539.6 2091.8,541.8 2092.1,537.1 2092.4,542.4 2092.7,548.0 2093.0,547.2 2093.3,546.9 2093.6,547.7 2093.9,537.0 2094.2,552.3 2094.4,538.9 2094.7,537.2 2095.0,557.0 2095.3,542.4 2095.6,545.3 2095.9,543.9 2096.2,543.7 2096.5,538.3 2096.8,549.1 2097.1,557.3 2097.4,545.3 2097.7,536.1 2098.0,543.5 2098.3,545.0 2098.6,549.2 2098.9,540.0 2099.2,544.2 2099.5,540.5 2099.8,536.4 2100.1,534.7 2100.4,553.1 2100.6,546.6 2100.9,540.7 2101.2,548.6 2101.5,542.3 2101.8,540.2 2102.1,549.9 2102.4,537.6 2102.7,547.3 2103.0,541.8 2103.3,543.8 2103.6,539.2 2103.9,544.0 2104.2,540.3 2104.5,543.9 2104.8,542.5 2105.1,531.2 2105.4,538.7 2105.7,539.4 2106.0,540.1 2106.3,540.9 2106.6,533.7 2106.8,545.1 2107.1,538.4 2107.4,529.6 2107.7,534.5 2108.0,529.1 2108.3,514.1 2108.6,518.7 2108.9,525.0 2109.2,508.8 2109.5,512.1 2109.8,511.2 2110.1,509.3 2110.4,499.0 2110.7,494.6 2111.0,498.8 2111.3,482.6 2111.6,493.3 2111.9,490.6 2112.0,492.8 2112.2,485.4 2112.5,491.6 2112.8,484.0 2113.0,493.5 2113.3,494.3 2113.6,493.6 2113.9,503.2 2114.2,505.1 2114.5,505.0 2114.8,513.6 2115.1,521.0 2115.4,520.7 2115.7,516.8 2116.0,530.6 2116.3,534.1 2116.6,531.5 2116.9,532.4 2117.2,531.6 2117.5,536.2 2117.8,529.6 2118.1,548.9 2118.4,543.6 2118.7,542.9 2119.0,530.5 2119.2,542.0 2119.5,537.8 2119.8,544.6 2120.1,540.1 2120.4,538.3 2120.7,549.1 2121.0,539.8 2121.3,540.2 2121.6,537.7 2121.9,543.0 2122.2,544.0 2122.5,544.3 2122.8,546.6 2123.1,541.6 2123.4,540.6 2123.7,549.5 2124.0,540.5 2124.3,540.3 2124.6,538.3 2124.9,556.7 2125.2,537.7 2125.4,538.4 2125.7,540.5 2126.0,537.8 2126.3,536.2 2126.6,550.2 2126.9,549.1 2127.2,555.4 2127.5,549.2 2127.8,551.5 2128.1,542.8 2128.4,546.4 2128.7,544.7 2129.0,546.7 2129.3,551.3 2129.6,550.6 2129.9,544.5 2130.2,551.6 2130.5,541.9 2130.8,546.5 2131.1,546.9 2131.3,535.9 2131.6,554.6 2131.9,548.9 2132.2,537.1 2132.5,551.4 2132.8,547.4 2133.1,549.1 2133.4,539.5 2133.7,547.4 2134.0,547.3 2134.3,532.2 2134.6,542.0 2134.9,545.3 2135.2,544.1 2135.5,543.0 2135.8,556.3 2136.1,543.0 2136.4,544.3 2136.7,556.0 2137.0,551.3 2137.3,546.5 2137.5,546.0 2137.8,539.4 2138.1,548.3 2138.4,555.2 2138.7,555.2 2139.0,559.8 2139.3,538.7 2139.6,540.8 2139.9,551.3 2140.2,545.6 2140.5,547.0 2140.8,542.0 2141.1,535.7 2141.4,540.4 2141.7,548.6 2142.0,542.1 2142.3,549.4 2142.6,543.8 2142.9,547.6 2143.2,541.7 2143.5,544.0 2143.7,542.8 2144.0,548.2 2144.3,545.5 2144.6,548.0 2144.9,553.8 2145.2,564.2 2145.5,537.0 2145.8,546.3 2146.1,551.8 2146.4,537.8 2146.7,544.5 2147.0,547.9 2147.3,541.0 2147.6,548.5 2147.9,547.8 2148.2,554.7 2148.5,548.8 2148.8,530.8 2149.1,549.4 2149.4,543.5 2149.7,550.0 2149.9,546.1 2150.2,545.0 2150.5,545.0 2150.8,539.0 2151.1,551.5 2151.4,542.7 2151.7,536.3 2152.0,555.2 2152.3,532.9 2152.6,530.2 2152.9,534.3 2153.2,526.6 2153.5,532.1 2153.8,522.9 2154.1,518.1 2154.4,522.9 2154.7,515.9 2155.0,514.0 2155.3,506.7 2155.6,514.8 2155.9,517.6 2156.1,509.5 2156.4,507.8 2156.7,524.3 2157.0,517.0 2157.3,535.7 2157.6,525.7 2157.9,529.1 2158.2,532.4 2158.5,531.3 2158.8,545.2 2159.1,547.4 2159.4,541.3 2159.7,546.7 2160.0,548.9 2160.3,536.9 2160.6,543.8 2160.9,540.2 2161.2,543.4 2161.5,541.8 2161.8,543.4 2162.1,545.8 2162.3,544.5 2162.6,549.3 2162.9,548.7 2163.2,550.1 2163.5,547.2 2163.8,548.4 2164.1,552.1 2164.4,537.5 2164.7,543.6 2165.0,542.1 2165.3,544.3 2165.6,550.6 2165.9,546.0 2166.2,544.6 2166.5,553.2 2166.8,541.8 2167.1,551.9 2167.4,543.8 2167.7,539.8 2168.0,543.1 2168.2,546.9 2168.5,547.8 2168.8,547.6 2169.1,551.4 2169.4,543.9 2169.7,546.9 2170.0,546.2 2170.3,554.4 2170.6,543.0 2170.9,537.9 2171.2,548.4 2171.5,534.6 2171.8,546.6 2172.1,546.3 2172.4,556.4 2172.7,550.4 2173.0,543.6 2173.3,554.6 2173.6,545.2 2173.9,534.4 2174.2,547.1 2174.4,547.3 2174.7,543.8 2175.0,532.8 2175.3,539.7 2175.6,539.9 2175.9,551.1 2176.2,548.1 2176.5,557.4 2176.8,544.9 2177.1,538.6 2177.4,542.9 2177.7,548.4 2178.0,548.9 2178.3,544.2 2178.6,539.8 2178.9,537.5 2179.2,550.3 2179.5,539.1 2179.8,547.5 2180.1,536.5 2180.4,546.4 2180.6,544.1 2180.9,541.6 2181.2,546.1 2181.5,535.1 2181.8,541.6 2182.1,539.6 2182.4,535.3 2182.7,541.1 2183.0,536.8 2183.3,536.0 2183.6,536.0 2183.9,529.7 2184.2,518.9 2184.5,514.5 2184.8,506.5 2185.1,491.1 2185.4,501.0 2185.7,489.7 2186.0,480.8 2186.3,467.7 2186.6,459.8 2186.8,455.2 2187.1,438.5 2187.4,425.5 2187.7,418.6 2188.0,412.0 2188.3,392.2 2188.6,392.6 2188.9,376.3 2189.2,385.8 2189.5,365.6 2189.8,366.3 2189.9,364.0 2190.1,369.8 2190.4,372.5 2190.7,379.5 2191.0,379.7 2191.3,378.6 2191.6,397.6 2191.9,411.6 2192.2,422.4 2192.5,418.4 2192.8,429.3 2193.0,440.5 2193.3,455.6 2193.6,468.1 2193.9,473.3 2194.2,477.0 2194.5,482.8 2194.8,501.7 2195.1,501.5 2195.4,503.4 2195.7,508.3 2196.0,522.2 2196.3,525.1 2196.6,511.6 2196.9,531.9 2197.2,518.6 2197.5,525.9 2197.6,533.2 2197.8,530.8 2198.1,529.3 2198.4,528.3 2198.7,531.4 2199.0,522.6 2199.2,530.7 2199.5,534.4 2199.8,531.1 2200.1,530.5 2200.4,539.1 2200.7,529.8 2201.0,536.4 2201.3,536.4 2201.6,531.0 2201.9,532.7 2202.2,538.9 2202.5,538.1 2202.8,536.0 2203.1,530.7 2203.4,542.0 2203.7,526.1 2204.0,535.7 2204.3,541.6 2204.6,531.5 2204.9,533.6 2205.1,540.1 2205.4,541.6 2205.7,536.1 2206.0,539.8 2206.3,532.6 2206.6,550.0 2206.9,542.2 2207.2,544.1 2207.5,540.1 2207.8,545.3 2208.1,537.1 2208.4,539.4 2208.7,544.0 2209.0,538.2 2209.3,534.5 2209.6,537.7 2209.9,548.0 2210.2,541.8 2210.5,541.1 2210.8,540.9 2211.1,539.6 2211.3,543.5 2211.6,546.3 2211.9,546.6 2212.2,551.6 2212.5,532.4 2212.8,541.6 2213.1,544.8 2213.4,545.9 2213.7,541.0 2214.0,540.4 2214.3,546.4 2214.6,543.3 2214.9,533.3 2215.2,540.5 2215.5,538.9 2215.8,536.3 2216.1,548.8 2216.4,542.4 2216.7,549.9 2217.0,549.5 2217.3,538.6 2217.5,546.3 2217.8,540.1 2218.1,546.6 2218.4,549.8 2218.7,551.8 2219.0,548.0 2219.3,542.7 2219.6,541.2 2219.9,542.1 2220.2,545.9 2220.5,555.9 2220.8,549.1 2221.1,543.1 2221.4,541.1 2221.7,549.8 2222.0,554.9 2222.3,544.3 2222.6,549.2 2222.9,541.6 2223.2,542.6 2223.5,546.5 2223.7,550.2 2224.0,546.7 2224.3,545.0 2224.6,542.0 2224.9,544.1 2225.2,540.9 2225.5,542.8 2225.8,543.5 2226.1,546.0 2226.4,549.3 2226.7,543.2 2227.0,557.0 2227.3,548.4 2227.6,538.6 2227.9,542.2 2228.2,548.1 2228.5,550.5 2228.8,544.4 2229.1,546.9 2229.4,541.5 2229.7,540.9 2229.9,547.6 2230.2,543.2 2230.5,548.9 2230.8,551.4 2231.1,541.5 2231.4,538.9 2231.7,541.6 2232.0,547.2 2232.3,548.7 2232.6,550.2 2232.9,549.6 2233.2,547.8 2233.5,545.6 2233.8,544.0 2234.1,542.4 2234.4,559.8 2234.7,554.9 2235.0,544.8 2235.3,536.6 2235.6,539.4 2235.9,549.0 2236.1,542.4 2236.4,546.3 2236.7,546.1 2237.0,546.6 2237.3,547.5 2237.6,551.2 2237.9,550.0 2238.2,554.3 2238.5,561.0 2238.8,554.0 2239.1,556.9 2239.4,550.1 2239.7,555.8 2240.0,548.2 2240.3,559.8 2240.6,549.0 2240.9,542.8 2241.2,546.2 2241.5,542.1 2241.8,554.3 2242.0,551.3 2242.3,553.7 2242.6,545.2 2242.9,559.0 2243.2,548.8 2243.5,548.9 2243.8,544.3 2244.1,556.4 2244.4,553.3 2244.7,560.0 2245.0,549.1 2245.3,551.6 2245.6,548.2 2245.9,548.7 2246.2,542.2 2246.5,554.0 2246.8,554.0 2247.1,554.4 2247.4,541.8 2247.7,548.6 2248.0,556.3 2248.2,553.2 2248.5,560.2 2248.8,547.2 2249.1,543.1 2249.4,553.3 2249.7,550.5 2250.0,549.7 2250.3,554.4 2250.6,553.0 2250.9,554.8 2251.2,555.0 2251.5,546.2 2251.8,543.8 2252.1,544.8 2252.4,542.8 2252.7,543.9 2253.0,550.4 2253.3,537.0 2253.6,547.2 2253.9,552.2 2254.2,550.3 2254.4,558.6 2254.7,558.9 2255.0,557.2 2255.3,540.8 2255.6,549.1 2255.9,554.6 2256.2,551.9 2256.5,549.6 2256.8,552.1 2257.1,547.4 2257.4,548.3 2257.7,550.9 2258.0,550.3 2258.3,544.8 2258.6,559.7 2258.9,551.9 2259.2,551.5 2259.5,552.3 2259.8,550.1 2260.1,545.1 2260.4,554.0 2260.6,552.5 2260.9,558.2 2261.2,551.8 2261.5,552.0 2261.8,560.7 2262.1,549.1 2262.4,535.1 2262.7,552.4 2263.0,542.5 2263.3,556.6 2263.6,543.3 2263.9,549.0 2264.2,549.7 2264.5,542.5 2264.8,549.0 2265.1,537.0 2265.4,546.3 2265.7,556.6 2266.0,551.4 2266.3,551.3 2266.6,540.1 2266.8,550.1 2267.1,540.0 2267.4,549.4 2267.7,547.2 2268.0,551.4 2268.3,556.5 2268.6,554.6 2268.9,547.5 2269.2,546.6 2269.5,551.9 2269.8,551.5 2270.1,551.6 2270.4,543.5 2270.7,556.0 2271.0,550.5 2271.3,543.8 2271.6,549.3 2271.9,555.2 2272.2,537.9 2272.5,555.7 2272.8,539.1 2273.0,550.3 2273.3,554.0 2273.6,542.1 2273.9,547.7 2274.2,543.5 2274.5,549.6 2274.8,553.3 2275.1,551.0 2275.4,557.4 2275.7,536.3 2276.0,543.6 2276.3,558.4 2276.6,549.7 2276.9,545.8 2277.2,545.9 2277.5,554.4 2277.8,538.6 2278.1,554.0 2278.4,550.0 2278.7,557.7 2278.9,545.5 2279.2,550.2 2279.5,552.8 2279.8,550.7 2280.1,545.0 2280.4,547.7 2280.7,540.7 2281.0,551.2 2281.3,544.7 2281.6,551.9 2281.9,544.6 2282.2,558.3 2282.5,548.3 2282.8,548.8 2283.1,554.0 2283.4,548.9 2283.7,549.5 2284.0,543.2 2284.3,545.4 2284.6,546.3 2284.9,547.9 2285.1,537.2 2285.4,543.8 2285.7,539.5 2286.0,534.3 2286.3,538.7 2286.6,530.1 2286.9,534.8 2287.2,537.7 2287.5,515.1 2287.8,530.2 2288.1,541.3 2288.4,541.8 2288.7,549.1 2289.0,542.4 2289.3,553.6 2289.6,553.5 2289.9,545.0 2290.2,541.4 2290.5,550.3 2290.8,545.5 2291.1,549.0 2291.3,561.3 2291.6,553.8 2291.9,557.3 2292.2,550.1 2292.5,554.6 2292.8,557.9 2293.1,542.0 2293.4,548.0 2293.7,555.7 2294.0,554.2 2294.3,544.2 2294.6,540.4 2294.9,558.0 2295.2,540.5 2295.5,553.4 2295.8,552.1 2296.1,550.5 2296.4,548.7 2296.7,552.3 2297.0,554.5 2297.3,539.8 2297.5,555.6 2297.8,547.4 2298.1,544.0 2298.4,546.6 2298.7,542.9 2299.0,536.5 2299.3,553.4 2299.6,546.6 2299.9,538.4 2300.2,540.5 2300.5,519.9 2300.8,534.7 2301.1,536.8 2301.4,525.3 2301.7,523.9 2302.0,515.9 2302.3,513.9 2302.6,521.1 2302.9,519.1 2303.2,514.0 2303.5,511.1 2303.7,519.6 2304.0,511.9 2304.3,511.3 2304.6,512.3 2304.9,521.0 2305.2,533.0 2305.5,537.6 2305.8,529.7 2306.1,529.9 2306.4,527.5 2306.7,539.3 2307.0,540.5 2307.3,543.6 2307.6,538.6 2307.9,543.8 2308.2,544.8 2308.5,544.9 2308.8,549.5 2309.1,546.2 2309.4,545.9 2309.7,545.5 2309.9,553.0 2310.2,548.7 2310.5,538.8 2310.8,545.9 2311.1,549.5 2311.4,559.3 2311.7,558.7 2312.0,546.9 2312.3,554.3 2312.6,548.9 2312.9,545.9 2313.2,561.3 2313.5,544.8 2313.8,566.6 2314.1,555.9 2314.4,549.6 2314.7,558.0 2315.0,552.9 2315.3,551.9 2315.6,552.7 2315.8,547.2 2316.1,556.8 2316.4,545.2 2316.7,552.4 2317.0,551.9 2317.3,548.7 2317.6,552.2 2317.9,549.5 2318.2,548.9 2318.5,557.1 2318.8,553.9 2319.1,545.3 2319.4,553.2 2319.7,551.8 2320.0,551.1 2320.3,553.6 2320.6,559.0 2320.9,551.9 2321.2,559.9 2321.5,551.2 2321.8,555.1 2322.0,549.0 2322.3,551.9 2322.6,559.4 2322.9,554.6 2323.2,556.8 2323.5,549.0 2323.8,556.1 2324.1,549.6 2324.4,554.9 2324.7,547.6 2325.0,544.7 2325.3,557.8 2325.6,551.6 2325.9,552.8 2326.2,558.1 2326.5,551.0 2326.8,554.2 2327.1,560.4 2327.4,554.5 2327.7,555.6 2328.0,556.9 2328.2,556.5 2328.5,550.6 2328.8,554.4 2329.1,562.1 2329.4,559.6 2329.7,551.2 2330.0,557.5 2330.3,555.4 2330.6,550.9 2330.9,557.9 2331.2,553.5 2331.5,545.8 2331.8,556.7 2332.1,546.7 2332.4,560.3 2332.7,557.4 2333.0,561.0 2333.3,561.6 2333.6,567.7 2333.9,556.7 2334.2,546.5 2334.4,558.1 2334.7,553.9 2335.0,561.3 2335.3,567.1 2335.6,554.4 2335.9,553.8 2336.2,556.2 2336.5,556.5 2336.8,561.1 2337.1,562.1 2337.4,557.5 2337.7,562.0 2338.0,554.4 2338.3,556.7 2338.6,559.2 2338.9,558.5 2339.2,555.1 2339.5,554.6 2339.8,558.8 2340.1,556.1 2340.4,543.6 2340.6,552.5 2340.9,550.7 2341.2,561.5 2341.5,557.4 2341.8,553.5 2342.1,557.6 2342.4,553.3 2342.7,555.4 2343.0,559.2 2343.3,552.2 2343.6,558.7 2343.9,554.5 2344.2,558.6 2344.5,561.3 2344.8,564.1 2345.1,553.7 2345.4,552.4 2345.7,550.5 2346.0,560.8 2346.3,562.5 2346.6,549.9 2346.8,557.9 2347.1,557.7 2347.4,553.2 2347.7,561.8 2348.0,556.0 2348.3,561.4 2348.6,549.6 2348.9,554.0 2349.2,558.8 2349.5,552.4 2349.8,562.7 2350.1,555.4 2350.4,553.1 2350.7,552.9 2351.0,547.3 2351.3,565.4 2351.6,547.1 2351.9,563.6 2352.2,558.1 2352.5,556.2 2352.7,553.8 2353.0,549.9 2353.3,559.6 2353.6,554.4 2353.9,553.8 2354.2,550.9 2354.5,560.8 2354.8,559.9 2355.1,558.2 2355.4,557.2 2355.7,556.4 2356.0,554.2 2356.3,553.7 2356.6,546.7 2356.9,560.2 2357.2,555.3 2357.5,558.7 2357.8,554.0 2358.1,553.7 2358.4,551.5 2358.7,556.5 2358.9,555.5 2359.2,550.9 2359.5,550.8 2359.8,559.3 2360.1,550.8 2360.4,555.5 2360.7,544.8 2361.0,548.3 2361.3,553.1 2361.6,561.4 2361.9,549.3 2362.2,545.6 2362.5,561.3 2362.8,551.5 2363.1,552.5 2363.4,561.0 2363.7,555.1 2364.0,559.7 2364.3,537.7 2364.6,557.1 2364.9,553.2 2365.1,551.2 2365.4,556.2 2365.7,555.6 2366.0,555.7 2366.3,547.0 2366.6,552.8 2366.9,557.5 2367.2,548.3 2367.5,549.0 2367.8,549.6 2368.1,549.7 2368.4,553.6 2368.7,562.4 2369.0,553.9 2369.3,556.9 2369.6,554.4 2369.9,550.0 2370.2,544.6 2370.5,553.3 2370.8,550.0 2371.1,547.1 2371.3,557.5 2371.6,552.4 2371.9,553.4 2372.2,551.1 2372.5,566.4 2372.8,548.5 2373.1,547.9 2373.4,541.9 2373.7,549.3 2374.0,552.7 2374.3,547.8 2374.6,555.4 2374.9,553.7 2375.2,544.8 2375.5,547.8 2375.8,559.6 2376.1,548.4 2376.4,550.3 2376.7,553.2 2377.0,549.4 2377.3,550.6 2377.5,552.1 2377.8,550.6 2378.1,553.0 2378.4,548.1 2378.7,547.4 2379.0,537.3 2379.3,561.7 2379.6,551.7 2379.9,551.5 2380.2,548.1 2380.5,544.3 2380.8,551.2 2381.1,550.1 2381.4,551.6 2381.7,552.3 2382.0,562.4 2382.3,555.4 2382.6,552.9 2382.9,554.5 2383.2,550.3 2383.5,543.6 2383.7,559.4 2384.0,546.4 2384.3,562.0 2384.6,556.4 2384.9,549.3 2385.2,544.4 2385.5,562.5 2385.8,553.8 2386.1,554.9 2386.4,559.9 2386.7,552.4 2387.0,557.8 2387.3,554.6 2387.6,557.8 2387.9,549.8 2388.2,554.5 2388.5,551.4 2388.8,548.4 2389.1,554.8 2389.4,546.8 2389.6,553.3 2389.9,558.0 2390.2,553.9 2390.5,553.8 2390.8,558.2 2391.1,555.1 2391.4,562.4 2391.7,556.0 2392.0,556.7 2392.3,551.2 2392.6,546.6 2392.9,560.0 2393.2,562.9 2393.5,550.9 2393.8,561.3 2394.1,553.4 2394.4,557.5 2394.7,556.5 2395.0,546.4 2395.3,547.9 2395.6,551.2 2395.8,544.9 2396.1,545.1 2396.4,546.1 2396.7,554.8 2397.0,552.3 2397.3,543.9 2397.6,545.6 2397.9,553.8 2398.2,554.9 2398.5,550.1 2398.8,545.0 2399.1,549.0 2399.4,556.4 2399.7,554.7 2400.0,558.2 2400.3,557.6 2400.6,553.1 2400.9,548.4 2401.2,549.3 2401.5,556.8 2401.8,557.4 2402.0,564.3 2402.3,559.2 2402.6,554.8 2402.9,559.9 2403.2,559.9 2403.5,562.5 2403.8,565.3 2404.1,548.4 2404.4,560.4 2404.7,558.9 2405.0,555.2 2405.3,557.8 2405.6,553.9 2405.9,549.6 2406.2,555.2 2406.5,561.3 2406.8,547.0 2407.1,560.0 2407.4,553.6 2407.7,558.2 2408.0,555.6 2408.2,559.7 2408.5,557.2 2408.8,558.7 2409.1,554.4 2409.4,549.1 2409.7,555.3 2410.0,552.8 2410.3,554.2 2410.6,555.0 2410.9,560.8 2411.2,554.0 2411.5,554.3 2411.8,562.0 2412.1,550.9 2412.4,553.1 2412.7,560.8 2413.0,556.0 2413.3,555.2 2413.6,548.1 2413.9,548.8 2414.2,549.1 2414.4,550.6 2414.7,566.6 2415.0,559.7 2415.3,545.1 2415.6,551.4 2415.9,563.1 2416.2,562.5 2416.5,558.3 2416.8,552.7 2417.1,557.8 2417.4,554.0 2417.7,560.3 2418.0,553.8 2418.3,563.1 2418.6,555.7 2418.9,559.3 2419.2,553.6 2419.5,560.5 2419.8,553.9 2420.1,554.8 2420.4,562.9 2420.6,549.0 2420.9,555.4 2421.2,567.9 2421.5,555.7 2421.8,558.7 2422.1,555.2 2422.4,555.6 2422.7,554.1 2423.0,545.3 2423.3,558.3 2423.6,549.5 2423.9,559.1 2424.2,553.0 2424.5,563.7 2424.8,557.6 2425.1,554.1 2425.4,559.8 2425.7,558.3 2426.0,558.7 2426.3,550.7 2426.5,561.7 2426.8,561.3 2427.1,559.5 2427.4,557.4 2427.7,565.3 2428.0,548.9 2428.3,546.6 2428.6,549.8 2428.9,554.3 2429.2,564.7 2429.5,552.8 2429.8,551.2 2430.1,554.0 2430.4,553.5 2430.7,553.4 2431.0,549.6 2431.3,552.1 2431.6,558.6 2431.9,557.0 2432.2,563.5 2432.5,552.5 2432.7,559.3 2433.0,563.5 2433.3,550.7 2433.6,559.9 2433.9,545.3 2434.2,551.8 2434.5,557.2 2434.8,551.2 2435.1,560.1 2435.4,548.0 2435.7,556.2 2436.0,555.8 2436.3,560.1 2436.6,548.7 2436.9,557.2 2437.2,556.5 2437.5,543.2 2437.8,547.0 2438.1,558.5 2438.4,547.8 2438.7,546.4 2438.9,549.7 2439.2,556.4 2439.5,553.7 2439.8,545.9 2440.1,561.4 2440.4,549.2 2440.7,543.5 2441.0,554.5 2441.3,548.5 2441.6,544.6 2441.9,550.2 2442.2,556.3 2442.5,546.2 2442.8,556.8 2443.1,553.0 2443.4,552.0 2443.7,546.9 2444.0,556.6 2444.3,550.6 2444.6,550.8 2444.9,554.4 2445.1,547.5 2445.4,556.4 2445.7,548.4 2446.0,539.2 2446.3,557.8 2446.6,552.3 2446.9,545.7 2447.2,550.7 2447.5,548.7 2447.8,558.6 2448.1,546.4 2448.4,552.6 2448.7,551.4 2449.0,551.7 2449.3,541.9 2449.6,551.6 2449.9,540.4 2450.2,546.4 2450.5,548.4 2450.8,545.8 2451.1,548.0 2451.3,548.7 2451.6,543.6 2451.9,544.3 2452.2,544.0 2452.5,549.8 2452.8,542.0 2453.1,559.3 2453.4,559.6 2453.7,550.8 2454.0,535.3 2454.3,545.5 2454.6,539.3 2454.9,539.9 2455.2,552.7 2455.5,544.5 2455.8,543.9 2456.1,554.3 2456.4,552.3 2456.7,544.5 2457.0,549.2 2457.3,540.5 2457.5,544.7 2457.8,546.6 2458.1,544.2 2458.4,547.2 2458.7,547.7 2459.0,547.6 2459.3,546.6 2459.6,535.8 2459.9,542.7 2460.2,536.9 2460.5,557.6 2460.8,538.0 2461.1,552.6 2461.4,540.7 2461.7,552.8 2462.0,545.8 2462.3,542.6 2462.6,542.8 2462.9,545.1 2463.2,547.2 2463.3,540.3 2463.4,541.4 2463.7,536.2 2464.0,542.3 2464.3,537.2 2464.6,542.4 2464.9,545.2 2465.2,548.7 2465.5,548.2 2465.8,550.3 2466.1,546.1 2466.4,545.8 2466.7,550.2 2467.0,554.9 2467.3,551.9 2467.6,538.7 2467.9,548.7 2468.2,545.5 2468.5,562.9 2468.8,545.2 2469.1,534.6 2469.4,547.2 2469.6,549.7 2469.9,540.2 2470.2,553.5 2470.5,551.0 2470.8,561.4 2471.1,551.5 2471.4,561.8 2471.7,559.4 2472.0,547.4 2472.3,547.0 2472.6,549.5 2472.9,549.2 2473.2,550.5 2473.5,547.2 2473.8,555.2 2474.1,555.6 2474.4,551.1 2474.7,552.0 2475.0,548.6 2475.3,545.9 2475.6,556.1 2475.8,547.0 2476.1,558.7 2476.4,548.3 2476.7,544.5 2477.0,542.6 2477.3,557.2 2477.6,549.3 2477.9,552.9 2478.2,553.4 2478.5,552.2 2478.8,543.4 2479.1,552.5 2479.4,549.9 2479.7,563.8 2480.0,553.1 2480.3,548.8 2480.6,565.0 2480.9,561.0 2481.2,554.4 2481.5,557.7 2481.8,547.9 2482.0,558.2 2482.3,548.7 2482.6,553.2 2482.9,550.5 2483.2,551.9 2483.5,560.2 2483.8,557.3 2484.1,561.2 2484.4,543.4 2484.7,561.9 2485.0,557.6 2485.3,548.1 2485.6,546.0 2485.9,565.8 2486.2,546.7 2486.5,551.8 2486.8,551.1 2487.1,561.2 2487.4,552.3 2487.7,547.2 2488.0,554.8 2488.2,551.4 2488.5,552.4 2488.8,555.9 2489.1,558.1 2489.4,556.0 2489.7,544.8 2490.0,566.9 2490.3,559.2 2490.6,545.2 2490.9,550.9 2491.2,558.2 2491.5,553.9 2491.8,559.7 2492.1,549.3 2492.4,556.7 2492.7,554.1 2493.0,544.8 2493.3,558.1 2493.6,553.5 2493.9,559.7 2494.2,548.6 2494.4,554.5 2494.7,563.9 2495.0,554.9 2495.3,555.4 2495.6,547.0 2495.9,557.3 2496.2,539.7 2496.5,550.3 2496.8,550.8 2497.1,550.8 2497.4,551.5 2497.7,552.0 2498.0,556.4 2498.3,541.6 2498.6,547.2 2498.9,544.8 2499.2,545.2 2499.5,556.3 2499.8,542.9 2500.1,539.4 2500.3,547.7 2500.6,555.3 2500.9,547.3 2501.2,545.5 2501.5,546.8 2501.8,538.2 2502.1,550.4 2502.4,540.6 2502.7,550.0 2503.0,540.3 2503.3,532.2 2503.6,534.7 2503.9,542.6 2504.2,533.1 2504.5,530.6 2504.8,530.5 2505.1,523.8 2505.4,526.6 2505.7,520.5 2506.0,525.2 2506.3,529.8 2506.5,524.4 2506.8,524.2 2507.1,529.5 2507.4,516.3 2507.7,517.7 2508.0,526.2 2508.3,526.1 2508.6,528.3 2508.9,520.7 2509.2,521.9 2509.5,537.3 2509.8,530.6 2510.1,530.2 2510.4,519.1 2510.7,530.0 2511.0,530.9 2511.3,520.7 2511.6,537.0 2511.9,534.0 2512.2,533.1 2512.5,526.0 2512.7,538.6 2513.0,546.3 2513.3,541.9 2513.6,535.6 2513.9,538.6 2514.2,547.3 2514.5,540.5 2514.8,549.5 2515.1,555.2 2515.4,543.2 2515.7,540.3 2516.0,550.2 2516.3,554.8 2516.6,554.6 2516.9,543.6 2517.2,555.9 2517.5,554.1 2517.8,552.3 2518.1,558.6 2518.4,543.3 2518.7,549.0 2518.9,545.2 2519.2,552.4 2519.5,555.3 2519.8,560.4 2520.1,553.6 2520.4,565.3 2520.7,541.2 2521.0,553.2 2521.3,547.1 2521.6,549.4 2521.9,558.9 2522.2,557.6 2522.5,554.9 2522.8,558.2 2523.1,547.5 2523.4,552.3 2523.7,556.1 2524.0,548.4 2524.3,560.3 2524.6,550.4 2524.9,553.7 2525.1,561.8 2525.4,551.6 2525.7,557.5 2526.0,557.8 2526.3,554.7 2526.6,559.9 2526.9,554.6 2527.2,551.4 2527.5,553.7 2527.8,555.8 2528.1,553.7 2528.4,564.6 2528.7,572.0 2529.0,547.7 2529.3,558.6 2529.6,558.2 2529.9,558.8 2530.2,549.8 2530.5,549.2 2530.8,554.7 2531.1,555.7 2531.3,558.8 2531.6,562.8 2531.9,564.2 2532.2,554.0 2532.5,559.8 2532.8,557.8 2533.1,557.0 2533.4,564.3 2533.7,557.2 2534.0,548.8 2534.3,565.7 2534.6,542.6 2534.9,562.0 2535.2,549.8 2535.5,557.5 2535.8,558.8 2536.1,554.5 2536.4,554.0 2536.7,561.2 2537.0,560.4 2537.2,556.0 2537.5,557.2 2537.8,551.4 2538.1,554.6 2538.4,551.0 2538.7,560.1 2539.0,555.3 2539.3,558.9 2539.6,561.3 2539.9,553.5 2540.2,556.2 2540.5,565.7 2540.8,567.4 2541.1,558.3 2541.4,544.7 2541.7,548.5 2542.0,567.6 2542.3,550.9 2542.6,547.6 2542.9,556.7 2543.2,562.9 2543.4,553.7 2543.7,555.4 2544.0,559.5 2544.3,545.5 2544.6,556.1 2544.9,548.2 2545.2,561.0 2545.5,549.3 2545.8,552.6 2546.1,554.1 2546.4,556.9 2546.7,565.6 2547.0,555.5 2547.3,561.1 2547.6,549.6 2547.9,543.2 2548.2,557.4 2548.5,555.6 2548.8,555.9 2549.1,554.9 2549.4,555.7 2549.6,557.4 2549.9,552.4 2550.2,560.0 2550.5,557.4 2550.8,554.6 2551.1,560.7 2551.4,560.2 2551.7,557.2 2552.0,555.4 2552.3,559.4 2552.6,553.6 2552.9,546.2 2553.2,555.9 2553.5,554.3 2553.8,549.7 2554.1,563.9 2554.4,555.5 2554.7,557.0 2555.0,555.3 2555.3,559.3 2555.6,549.8 2555.8,556.9 2556.1,562.4 2556.4,554.9 2556.7,561.6 2557.0,556.0 2557.3,548.7 2557.6,553.7 2557.9,552.1 2558.2,549.9 2558.5,569.6 2558.8,559.3 2559.1,554.0 2559.4,551.0 2559.7,556.8 2560.0,548.3 2560.3,547.3 2560.6,549.7 2560.9,564.5 2561.2,551.5 2561.5,558.1 2561.8,557.9 2562.0,556.9 2562.3,553.4 2562.6,559.9 2562.9,552.0 2563.2,565.7 2563.5,548.5 2563.8,551.9 2564.1,552.2 2564.4,545.1 2564.7,548.5 2565.0,551.1 2565.3,553.0 2565.6,538.8 2565.9,544.9 2566.2,552.8 2566.5,543.2 2566.8,537.9 2567.1,542.7 2567.4,550.0 2567.7,533.8 2568.0,550.9 2568.2,539.9 2568.5,540.4 2568.8,547.8 2569.1,543.9 2569.4,557.2 2569.7,559.7 2570.0,546.6 2570.3,554.3 2570.6,541.7 2570.9,550.5 2571.2,547.3 2571.5,552.8 2571.8,554.4 2572.1,555.3 2572.4,559.1 2572.7,553.3 2573.0,559.8 2573.3,555.6 2573.6,548.6 2573.9,541.7 2574.1,550.7 2574.4,555.2 2574.7,545.7 2575.0,550.8 2575.3,555.7 2575.6,551.3 2575.9,560.4 2576.2,551.3 2576.5,549.1 2576.8,555.0 2577.1,547.7 2577.4,554.0 2577.7,545.8 2578.0,547.0 2578.3,548.1 2578.6,546.3 2578.9,549.4 2579.2,551.1 2579.5,542.5 2579.8,554.0 2580.1,553.2 2580.3,551.4 2580.6,558.9 2580.9,556.3 2581.2,542.7 2581.5,554.0 2581.8,548.9 2582.1,550.2 2582.4,547.0 2582.7,561.6 2583.0,547.9 2583.3,547.4 2583.6,529.8 2583.9,547.4 2584.2,538.8 2584.5,545.7 2584.8,547.0 2585.1,533.6 2585.4,536.3 2585.7,531.1 2586.0,537.3 2586.3,542.7 2586.5,525.5 2586.8,537.4 2587.1,540.6 2587.4,537.3 2587.7,536.8 2588.0,530.1 2588.3,535.3 2588.6,521.4 2588.9,525.6 2589.2,528.8 2589.5,523.3 2589.8,530.7 2590.1,523.0 2590.4,530.8 2590.7,523.1 2591.0,525.3 2591.3,528.3 2591.6,527.4 2591.9,529.3 2592.2,529.1 2592.5,514.1 2592.7,522.6 2593.0,523.3 2593.3,525.7 2593.6,537.5 2593.9,537.0 2594.2,541.4 2594.5,542.1 2594.8,534.7 2595.1,527.8 2595.4,536.6 2595.7,536.5 2596.0,542.3 2596.3,537.7 2596.6,528.9 2596.9,537.2 2597.2,526.3 2597.5,538.3 2597.8,547.7 2598.1,546.4 2598.4,543.6 2598.7,543.7 2598.9,550.1 2599.2,554.7 2599.5,549.1 2599.8,543.1 2600.1,545.0 2600.4,543.6 2600.7,544.6 2601.0,546.4 2601.3,548.9 2601.6,553.2 2601.9,548.6 2602.2,546.7 2602.5,556.5 2602.8,550.9 2603.1,556.0 2603.4,552.4 2603.7,557.7 2604.0,560.5 2604.3,553.8 2604.6,554.6 2604.9,548.2 2605.1,557.6 2605.4,566.8 2605.7,559.3 2606.0,564.6 2606.3,555.5 2606.6,552.3 2606.9,556.5 2607.2,555.5 2607.5,547.1 2607.8,553.7 2608.1,548.6 2608.4,560.8 2608.7,556.4 2609.0,554.3 2609.3,552.1 2609.6,555.3 2609.9,557.4 2610.2,554.8 2610.5,562.7 2610.8,554.1 2611.0,559.6 2611.3,554.8 2611.6,546.6 2611.9,549.9 2612.2,562.4 2612.5,566.2 2612.8,557.4 2613.1,555.6 2613.4,554.1 2613.7,552.5 2614.0,562.2 2614.3,559.1 2614.6,558.7 2614.9,556.3 2615.2,557.6 2615.5,549.4 2615.8,554.5 2616.1,551.1 2616.4,560.5 2616.7,555.7 2617.0,564.8 2617.2,553.4 2617.5,553.2 2617.8,556.4 2618.1,556.3 2618.4,561.2 2618.7,560.0 2619.0,568.3 2619.3,559.5 2619.6,558.7 2619.9,553.5 2620.2,554.3 2620.5,548.0 2620.8,562.7 2621.1,556.0 2621.4,560.6 2621.7,549.1 2622.0,558.0 2622.3,570.4 2622.6,554.3 2622.9,558.5 2623.2,550.1 2623.4,564.0 2623.7,569.0 2624.0,554.6 2624.3,561.5 2624.6,550.2 2624.9,553.7 2625.2,563.7 2625.5,552.3 2625.8,562.2 2626.1,555.0 2626.4,563.9 2626.7,562.8 2627.0,560.2 2627.3,561.7 2627.6,561.1 2627.9,552.3 2628.2,562.7 2628.5,547.1 2628.8,559.1 2629.1,554.2 2629.4,556.1 2629.6,556.8 2629.9,556.5 2630.2,563.1 2630.5,557.0 2630.8,554.7 2631.1,554.1 2631.4,555.8 2631.7,567.4 2632.0,559.4 2632.3,560.3 2632.6,553.9 2632.9,565.8 2633.2,554.5 2633.5,561.2 2633.8,560.1 2634.1,554.5 2634.4,562.9 2634.7,548.3 2635.0,556.3 2635.3,552.8 2635.6,562.4 2635.8,564.2 2636.1,554.1 2636.4,556.8 2636.7,554.8 2637.0,562.4 2637.3,551.7 2637.6,553.6 2637.9,557.9 2638.2,562.9 2638.5,557.2 2638.8,567.1 2639.1,557.2 2639.4,561.3 2639.7,557.4 2640.0,563.6 2640.3,552.7 2640.6,568.2 2640.9,558.2 2641.2,555.3 2641.5,544.9 2641.8,561.3 2642.0,557.5 2642.3,558.5 2642.6,564.5 2642.9,555.4 2643.2,555.1 2643.5,568.8 2643.8,563.4 2644.1,563.2 2644.4,562.7 2644.7,560.2 2645.0,555.4 2645.3,556.1 2645.6,552.8 2645.9,555.4 2646.2,560.3 2646.5,559.3 2646.8,565.5 2647.1,550.8 2647.4,545.3 2647.7,554.6 2647.9,566.3 2648.2,561.5 2648.5,557.6 2648.8,552.6 2649.1,560.3 2649.4,563.6 2649.7,554.5 2650.0,558.7 2650.3,566.3 2650.6,556.2 2650.9,549.3 2651.2,554.9 2651.5,566.6 2651.8,549.7 2652.1,551.2 2652.4,549.7 2652.7,552.6 2653.0,551.7 2653.3,561.3 2653.6,566.4 2653.9,558.4 2654.1,556.4 2654.4,557.3 2654.7,556.1 2655.0,562.1 2655.3,555.6 2655.6,558.4 2655.9,543.6 2656.2,556.6 2656.5,565.2 2656.8,552.8 2657.1,545.1 2657.4,560.0 2657.7,548.9 2658.0,556.3 2658.3,556.8 2658.6,556.2 2658.9,549.8 2659.2,555.3 2659.5,541.5 2659.8,560.5 2660.1,552.6 2660.3,568.4 2660.6,556.8 2660.9,555.9 2661.2,558.6 2661.5,549.9 2661.8,556.3 2662.1,544.7 2662.4,557.1 2662.7,561.4 2663.0,554.7 2663.3,556.1 2663.6,559.1 2663.9,562.0 2664.2,553.1 2664.5,561.9 2664.8,569.2 2665.1,562.6 2665.4,564.3 2665.7,569.3 2666.0,559.7 2666.3,557.6 2666.5,555.6 2666.8,561.6 2667.1,559.7 2667.4,548.1 2667.7,555.9 2668.0,564.2 2668.3,565.1 2668.6,555.5 2668.9,570.7 2669.2,557.3 2669.5,561.3 2669.8,563.8 2670.1,558.2 2670.4,569.1 2670.7,556.9 2671.0,561.3 2671.3,570.2 2671.6,554.1 2671.9,563.8 2672.2,558.7 2672.5,553.0 2672.7,556.1 2673.0,555.7 2673.3,551.0 2673.6,560.5 2673.9,560.0 2674.2,554.9 2674.5,563.6 2674.8,558.4 2675.1,560.5 2675.4,564.4 2675.7,550.9 2676.0,557.2 2676.3,564.1 2676.6,565.3 2676.9,563.8 2677.2,564.2 2677.5,563.9 2677.8,556.7 2678.1,557.3 2678.4,556.7 2678.7,556.4 2678.9,562.7 2679.2,559.5 2679.5,556.9 2679.8,551.2 2680.1,567.0 2680.4,562.5 2680.7,559.6 2681.0,554.4 2681.3,557.6 2681.6,561.5 2681.9,563.6 2682.2,561.2 2682.5,566.8 2682.8,555.2 2683.1,562.4 2683.4,568.6 2683.7,572.9 2684.0,566.3 2684.3,557.3 2684.6,565.4 2684.8,560.7 2685.1,552.8 2685.4,558.7 2685.7,562.1 2686.0,560.9 2686.3,559.8 2686.6,560.9 2686.9,556.1 2687.2,556.1 2687.5,559.6 2687.8,573.0 2688.1,561.1 2688.4,560.0 2688.7,561.3 2689.0,561.3 2689.3,558.1 2689.6,552.2 2689.9,554.9 2690.2,565.1 2690.5,568.4 2690.8,567.9 2691.0,557.6 2691.3,555.3 2691.6,557.0 2691.9,556.9 2692.2,556.1 2692.5,559.8 2692.8,567.4 2693.1,555.8 2693.4,561.3 2693.7,564.2 2694.0,559.5 2694.3,566.0 2694.6,562.2 2694.9,549.2 2695.2,569.1 2695.5,559.2 2695.8,563.4 2696.1,561.0 2696.4,560.3 2696.7,562.5 2697.0,564.1 2697.2,556.6 2697.5,555.3 2697.8,557.8 2698.1,565.7 2698.4,552.2 2698.7,565.0 2699.0,561.4 2699.3,569.6 2699.6,546.6 2699.9,567.9 2700.2,559.8 2700.5,551.1 2700.8,556.2 2701.1,562.3 2701.4,568.4 2701.7,558.9 2702.0,559.7 2702.3,560.4 2702.6,565.9 2702.9,566.9 2703.2,564.5 2703.4,573.1 2703.7,561.5 2704.0,569.6 2704.3,573.0 2704.6,551.6 2704.9,567.3 2705.2,567.5 2705.5,559.1 2705.8,561.1 2706.1,550.9 2706.4,562.5 2706.7,563.4 2707.0,562.5 2707.3,557.1 2707.6,558.8 2707.9,566.9 2708.2,566.5 2708.5,560.5 2708.8,567.7 2709.1,557.7 2709.4,549.6 2709.6,561.1 2709.9,556.8 2710.2,565.0 2710.5,561.4 2710.8,560.8 2711.1,558.7 2711.4,563.7 2711.7,556.9 2712.0,554.0 2712.3,564.3 2712.6,560.8 2712.9,562.9 2713.2,553.0 2713.5,558.9 2713.8,558.5 2714.1,555.3 2714.4,557.6 2714.7,553.8 2715.0,563.6 2715.3,555.6 2715.6,568.8 2715.8,558.5 2716.1,556.3 2716.4,553.4 2716.7,556.9 2717.0,547.4 2717.3,553.6 2717.6,560.7 2717.9,551.5 2718.2,552.0 2718.5,553.6 2718.8,550.3 2719.1,555.0 2719.4,546.2 2719.7,560.6 2720.0,553.9 2720.3,552.7 2720.6,555.6 2720.9,560.5 2721.2,551.1 2721.5,548.1 2721.7,558.5 2722.0,545.8 2722.3,546.5 2722.6,558.7 2722.9,550.3 2723.2,558.0 2723.5,558.7 2723.8,558.1 2724.1,550.9 2724.4,560.6 2724.7,556.0 2725.0,564.1 2725.3,555.0 2725.6,553.9 2725.9,550.7 2726.2,553.9 2726.5,557.9 2726.8,557.8 2727.1,555.4 2727.4,554.5 2727.7,556.7 2727.9,561.2 2728.2,561.7 2728.5,564.9 2728.8,550.7 2729.1,552.7 2729.4,573.0 2729.7,566.6 2730.0,553.3 2730.3,556.1 2730.6,552.7 2730.9,556.3 2731.2,554.8 2731.5,558.5 2731.8,553.7 2732.1,563.9 2732.4,554.7 2732.7,558.3 2733.0,560.0 2733.3,564.8 2733.6,553.2 2733.9,560.4 2734.1,549.6 2734.4,553.1 2734.7,560.0 2735.0,557.6 2735.3,566.0 2735.6,563.3 2735.9,546.0 2736.2,557.1 2736.5,554.6 2736.8,563.5 2737.1,552.6 2737.4,560.3 2737.7,570.3 2738.0,558.1 2738.3,549.4 2738.6,553.6 2738.9,561.5 2739.2,567.1 2739.5,567.4 2739.8,552.4 2740.1,563.7 2740.3,552.8 2740.6,548.2 2740.9,554.7 2741.2,561.9 2741.5,563.3 2741.8,561.3 2742.1,561.1 2742.4,545.7 2742.7,561.6 2743.0,567.5 2743.3,554.9 2743.6,563.1 2743.9,556.9 2744.2,558.3 2744.5,553.9 2744.8,555.9 2745.1,561.2 2745.4,554.9 2745.7,566.2 2746.0,557.6 2746.3,563.1 2746.5,561.6 2746.8,559.4 2747.1,548.7 2747.4,561.7 2747.7,562.0 2748.0,564.1 2748.3,552.4 2748.6,554.6 2748.9,555.5 2749.2,561.9 2749.5,567.0 2749.8,559.2 2750.1,552.4 2750.4,561.3 2750.7,555.4 2751.0,558.1 2751.3,562.3 2751.6,554.9 2751.9,563.6 2752.2,565.4 2752.5,559.0 2752.7,555.9 2753.0,552.1 2753.3,562.7 2753.6,573.7 2753.9,556.6 2754.2,559.1 2754.5,556.8 2754.8,560.1 2755.1,564.3 2755.4,559.9 2755.7,554.6 2756.0,570.3 2756.3,557.5 2756.6,548.7 2756.9,565.1 2757.2,558.6 2757.5,566.1 2757.8,559.3 2758.1,559.6 2758.4,553.1 2758.6,560.8 2758.9,571.8 2759.2,562.2 2759.5,560.6 2759.8,556.2 2760.1,568.6 2760.4,553.6 2760.7,561.7 2761.0,549.5 2761.3,556.7 2761.6,558.6 2761.9,554.9 2762.2,556.6 2762.5,555.0 2762.8,550.6 2763.1,551.8 2763.4,549.4 2763.7,550.5 2764.0,544.2 2764.3,551.9 2764.6,555.5 2764.8,552.0 2765.1,554.9 2765.4,567.5 2765.7,561.4 2766.0,555.1 2766.3,562.9 2766.6,558.4 2766.9,553.2 2767.2,557.6 2767.5,552.5 2767.8,558.2 2768.1,562.1 2768.4,557.0 2768.7,565.5 2769.0,570.5 2769.3,567.6 2769.6,562.6 2769.9,569.2 2770.2,552.3 2770.5,560.3 2770.8,557.3 2771.0,559.7 2771.3,554.1 2771.6,554.4 2771.9,559.2 2772.2,565.2 2772.5,562.8 2772.8,558.5 2773.1,553.9 2773.4,557.4 2773.7,556.1 2774.0,563.1 2774.3,568.3 2774.6,561.3 2774.9,563.3 2775.2,565.7 2775.5,557.0 2775.8,562.9 2776.1,554.5 2776.4,557.0 2776.7,562.0 2777.0,561.7 2777.2,568.1 2777.5,562.6 2777.8,561.8 2778.1,569.2 2778.4,558.7 2778.7,559.9 2779.0,551.8 2779.3,562.8 2779.6,566.2 2779.9,566.6 2780.2,566.5 2780.5,560.6 2780.8,571.1 2781.1,561.4 2781.4,555.4 2781.7,561.9 2782.0,550.4 2782.3,561.4 2782.6,563.4 2782.9,562.6 2783.2,564.6 2783.4,569.5 2783.7,569.6 2784.0,559.1 2784.3,563.8 2784.6,560.3 2784.9,559.3 2785.2,552.4 2785.5,562.6 2785.8,551.1 2786.1,560.5 2786.4,568.4 2786.7,564.3 2787.0,564.5 2787.3,549.7 2787.6,568.5 2787.9,565.5 2788.2,560.6 2788.5,557.7 2788.8,558.0 2789.1,563.4 2789.4,557.2 2789.6,552.5 2789.9,556.2 2790.2,560.5 2790.5,550.7 2790.8,565.3 2791.1,553.9 2791.4,561.1 2791.7,558.3 2792.0,556.4 2792.3,562.9 2792.6,555.3 2792.9,565.2 2793.2,554.0 2793.5,566.7 2793.8,569.2 2794.1,564.0 2794.4,548.6 2794.7,563.9 2795.0,550.3 2795.3,558.5 2795.5,569.6 2795.8,559.0 2796.1,560.6 2796.4,561.6 2796.7,558.0 2797.0,563.3 2797.3,572.3 2797.6,554.0 2797.9,564.8 2798.2,567.0 2798.5,556.6 2798.8,562.1 2799.1,562.5 2799.4,563.6 2799.7,563.7 2800.0,559.9 2800.3,555.6 2800.6,560.1 2800.9,561.1 2801.2,572.0 2801.5,562.7 2801.7,565.7 2802.0,560.4 2802.3,562.9 2802.6,554.0 2802.9,565.3 2803.2,564.2 2803.5,566.3 2803.8,565.6 2804.1,573.0 2804.4,570.7 2804.7,560.5 2805.0,557.0 2805.3,562.8 2805.6,561.5 2805.9,565.6 2806.2,560.2 2806.5,556.4 2806.8,566.5 2807.1,562.5 2807.4,563.2 2807.7,565.1 2807.9,556.3 2808.2,567.7 2808.5,560.5 2808.8,567.6 2809.1,555.5 2809.4,553.3 2809.7,559.0 2810.0,560.6 2810.3,559.4 2810.6,567.3 2810.9,567.3 2811.2,567.6 2811.5,562.7 2811.8,555.6 2812.1,560.9 2812.4,566.8 2812.7,562.7 2813.0,560.1 2813.3,563.3 2813.6,556.6 2813.9,559.7 2814.1,560.3 2814.4,554.5 2814.7,566.2 2815.0,564.5 2815.3,565.3 2815.6,552.4 2815.9,566.0 2816.2,554.6 2816.5,562.6 2816.8,565.7 2817.1,552.3 2817.4,562.2 2817.7,562.0 2818.0,566.6 2818.3,560.2 2818.6,558.3 2818.9,555.0 2819.2,555.3 2819.5,554.2 2819.8,566.8 2820.1,555.2 2820.3,572.6 2820.6,555.3 2820.9,560.0 2821.2,564.3 2821.5,566.8 2821.8,552.7 2822.1,559.4 2822.4,558.5 2822.7,561.0 2823.0,558.7 2823.3,566.4 2823.6,559.0 2823.9,564.9 2824.2,559.2 2824.5,560.3 2824.8,562.6 2825.1,558.3 2825.4,557.3 2825.7,555.8 2826.0,551.1 2826.3,567.0 2826.5,554.5 2826.8,560.1 2827.1,556.7 2827.4,557.8 2827.7,559.8 2828.0,566.4 2828.3,555.7 2828.6,560.9 2828.9,558.3 2829.2,555.6 2829.5,558.7 2829.8,569.5 2830.1,566.5 2830.4,551.9 2830.7,546.4 2831.0,561.8 2831.3,559.5 2831.6,572.4 2831.9,558.9 2832.2,566.0 2832.4,555.1 2832.7,561.0 2833.0,557.7 2833.3,567.5 2833.6,563.4 2833.9,558.3 2834.2,547.2 2834.5,553.7 2834.8,560.5 2835.1,554.4 2835.4,553.8 2835.7,552.7 2836.0,556.9 2836.3,557.4 2836.6,565.6 2836.9,567.3 2837.2,564.2 2837.5,556.1 2837.8,560.8 2838.1,552.6 2838.4,565.7 2838.6,557.4 2838.9,549.9 2839.2,563.5 2839.5,558.3 2839.8,567.3 2840.1,565.0 2840.4,555.2 2840.7,558.3 2841.0,568.3 2841.3,559.4 2841.6,555.6 2841.9,566.4 2842.2,563.5 2842.5,558.1 2842.8,565.5 2843.1,570.6 2843.4,557.7 2843.7,560.8 2844.0,576.2 2844.3,567.3 2844.6,560.8 2844.8,564.0 2845.1,558.1 2845.4,564.6 2845.7,557.1 2846.0,559.3 2846.3,561.9 2846.6,560.7 2846.9,564.2 2847.2,562.7 2847.5,557.3 2847.8,556.7 2848.1,563.8 2848.4,576.7 2848.7,559.5 2849.0,557.7 2849.3,554.6 2849.6,558.0 2849.9,562.1 2850.2,565.5 2850.5,562.4 2850.8,561.3 2851.0,562.8 2851.3,557.2 2851.6,569.3 2851.9,567.2 2852.2,558.0 2852.5,555.1 2852.8,562.3 2853.1,569.5 2853.4,564.9 2853.7,575.7 2854.0,557.7 2854.3,555.9 2854.6,561.3 2854.9,567.9 2855.2,566.5 2855.5,559.4 2855.8,564.2 2856.1,557.2 2856.4,563.2 2856.7,560.7 2857.0,565.0 2857.2,574.1 2857.5,563.5 2857.8,565.5 2858.1,566.9 2858.4,564.4 2858.7,561.3 2859.0,561.9 2859.3,553.5 2859.6,557.3 2859.9,565.8 2860.2,560.0 2860.5,554.1 2860.8,558.3 2861.1,561.0 2861.4,568.7 2861.7,566.6 2862.0,555.3 2862.3,570.1 2862.6,559.3 2862.9,561.0 2863.2,561.0 2863.4,566.0 2863.7,569.1 2864.0,573.8 2864.3,567.4 2864.6,566.0 2864.9,564.6 2865.2,559.2 2865.5,564.7 2865.8,565.3 2866.1,562.5 2866.4,567.1 2866.7,570.2 2867.0,560.3 2867.3,561.9 2867.6,562.9 2867.9,563.2 2868.2,561.7 2868.5,564.8 2868.8,564.2 2869.1,564.8 2869.3,564.7 2869.6,562.8 2869.9,562.2 2870.2,563.8 2870.5,571.2 2870.8,563.3 2871.1,577.9 2871.4,572.0 2871.7,569.6 2872.0,565.0 2872.3,566.1 2872.6,561.0 2872.9,552.9 2873.2,563.0 2873.5,559.3 2873.8,566.7 2874.1,563.7 2874.4,555.5 2874.7,568.7 2875.0,555.6 2875.3,568.5 2875.5,561.7 2875.8,559.2 2876.1,559.9 2876.4,568.9 2876.7,557.7 2877.0,552.4 2877.3,565.0 2877.6,554.1 2877.9,561.1 2878.2,560.4 2878.5,562.4 2878.8,557.4 2879.1,562.3 2879.4,558.6 2879.7,565.0 2880.0,564.1 2880.3,563.3 2880.6,572.9 2880.9,565.3 2881.2,556.3 2881.5,559.3 2881.7,560.8 2882.0,572.4 2882.3,556.2 2882.6,571.2 2882.9,565.4 2883.2,550.9 2883.5,570.1 2883.8,557.1 2884.1,566.4 2884.4,564.8 2884.7,569.3 2885.0,568.1 2885.3,566.3 2885.6,569.0 2885.9,566.5 2886.2,564.1 2886.5,559.9 2886.8,548.6 2887.1,564.9 2887.4,573.1 2887.7,564.8 2887.9,567.5 2888.2,572.0 2888.5,561.5 2888.8,573.4 2889.1,555.1 2889.4,561.0 2889.7,563.3 2890.0,569.6 2890.3,568.4 2890.6,558.8 2890.9,567.6 2891.2,556.4 2891.5,561.6 2891.8,561.5 2892.1,573.5 2892.4,561.9 2892.7,568.3 2893.0,569.3 2893.3,567.4 2893.6,564.4 2893.9,571.3 2894.1,564.9 2894.4,569.6 2894.7,569.9 2895.0,568.7 2895.3,561.6 2895.6,573.0 2895.9,574.9 2896.2,569.3 2896.5,558.4 2896.8,562.7 2897.1,567.5 2897.4,572.8 2897.7,565.7 2898.0,568.4 2898.3,565.1 2898.6,572.1 2898.9,572.3 2899.2,557.1 2899.5,579.7 2899.8,564.1 2900.1,578.3 2900.3,564.2 2900.6,573.8 2900.9,570.9 2901.2,574.7 2901.5,569.5 2901.8,570.8 2902.1,570.8 2902.4,565.1 2902.7,557.4 2903.0,570.9 2903.3,561.4 2903.6,567.3 2903.9,574.6 2904.2,570.8 2904.5,566.3 2904.8,566.4 2905.1,569.6 2905.4,567.8 2905.7,573.6 2906.0,574.6 2906.2,558.3 2906.5,563.1 2906.8,567.3 2907.1,575.8 2907.4,574.9 2907.7,564.1 2908.0,565.9 2908.3,567.1 2908.6,559.3 2908.9,563.0 2909.2,567.2 2909.5,568.9 2909.8,560.0 2910.1,575.4 2910.4,570.3 2910.7,566.9 2911.0,559.6 2911.3,564.3 2911.6,564.4 2911.9,580.1 2912.2,565.7 2912.4,557.7 2912.7,559.8 2913.0,559.9 2913.3,560.2 2913.6,560.7 2913.9,560.0 2914.2,569.1 2914.5,561.2 2914.8,551.2 2915.1,562.2 2915.4,555.8 2915.7,568.2 2916.0,564.7 2916.3,569.5 2916.6,555.5 2916.9,558.5 2917.2,561.9 2917.5,562.7 2917.8,566.2 2918.1,574.8 2918.4,561.2 2918.6,564.3 2918.9,562.6 2919.2,572.2 2919.5,562.5 2919.8,564.6 2920.1,570.3 2920.4,563.3 2920.7,571.4 2921.0,567.7 2921.3,562.8 2921.6,571.6 2921.9,564.5 2922.2,570.5 2922.5,560.4 2922.8,569.5 2923.1,573.7 2923.4,561.3 2923.7,558.8 2924.0,570.2 2924.3,567.0 2924.6,564.0 2924.8,568.7 2925.1,557.7 2925.4,563.6 2925.7,563.7 2926.0,565.2 2926.3,562.0 2926.6,557.8 2926.9,566.2 2927.2,562.4 2927.5,565.5 2927.8,565.0 2928.1,562.9 2928.4,558.9 2928.7,552.5 2929.0,569.1 2929.3,564.7 2929.6,568.5 2929.9,562.8 2930.2,552.1 2930.5,547.8 2930.8,559.0 2931.0,559.7 2931.3,550.7 2931.6,557.0 2931.9,563.9 2932.2,557.8 2932.5,569.8 2932.8,570.0 2933.1,563.7 2933.4,556.3 2933.7,562.1 2934.0,563.1 2934.3,567.7 2934.6,571.7 2934.9,570.8 2935.2,559.7 2935.5,556.7 2935.8,551.0 2936.1,559.7 2936.4,551.0 2936.7,555.7 2937.0,559.0 2937.2,554.8 2937.5,561.0 2937.8,561.3 2938.1,562.2 2938.4,561.7 2938.7,554.6 2939.0,561.8 2939.3,569.0 2939.6,553.7 2939.9,553.4 2940.2,563.5 2940.5,568.2 2940.8,562.9 2941.1,570.6 2941.4,553.8 2941.7,554.2 2942.0,559.5 2942.3,566.6 2942.6,554.1 2942.9,558.3 2943.1,555.5 2943.4,559.6 2943.7,555.8 2944.0,561.1 2944.3,560.2 2944.6,561.6 2944.9,562.5 2945.2,563.7 2945.5,569.9 2945.8,558.3 2946.1,564.5 2946.4,557.6 2946.7,562.2 2947.0,559.3 2947.3,564.8 2947.6,569.7 2947.9,568.7 2948.2,558.0 2948.5,559.8 2948.8,555.0 2949.1,565.5 2949.3,573.4 2949.6,562.1 2949.9,571.1 2950.2,566.0 2950.5,564.9 2950.8,564.7 2951.1,559.5 2951.4,571.9 2951.7,566.4 2952.0,557.8 2952.3,565.6 2952.6,562.0 2952.9,565.8 2953.2,561.7 2953.5,559.0 2953.8,553.5 2954.1,569.6 2954.4,559.0 2954.7,561.0 2955.0,563.2 2955.3,565.8 2955.5,564.7 2955.8,562.0 2956.1,572.6 2956.4,568.1 2956.7,569.7 2957.0,556.0 2957.3,560.4 2957.6,570.9 2957.9,562.4 2958.2,563.3 2958.5,565.4 2958.8,571.2 2959.1,574.3 2959.4,562.4 2959.7,574.0 2960.0,561.3 2960.3,576.2 2960.6,566.9 2960.9,563.3 2961.2,567.0 2961.5,563.0 2961.7,560.2 2962.0,563.2 2962.3,569.9 2962.6,569.6 2962.9,573.7 2963.2,562.8 2963.5,559.1 2963.8,556.0 2964.1,574.0 2964.4,567.1 2964.7,563.2 2965.0,555.5 2965.3,580.5 2965.6,563.5 2965.9,568.6 2966.2,575.9 2966.5,557.1 2966.8,563.4 2967.1,569.4 2967.4,564.2 2967.7,568.7 2967.9,570.3 2968.2,566.9 2968.5,552.6 2968.8,566.5 2969.1,570.0 2969.4,566.2 2969.7,553.2 2970.0,564.4 2970.3,569.7 2970.6,562.6 2970.9,566.2 2971.2,564.4 2971.5,564.8 2971.8,565.6 2972.1,574.6 2972.4,562.8 2972.7,562.4 2973.0,578.3 2973.3,572.0 2973.6,566.3 2973.9,562.6 2974.1,563.9 2974.4,563.4 2974.7,554.9 2975.0,561.8 2975.3,563.6 2975.6,564.7 2975.9,562.0 2976.2,565.0 2976.5,556.9 2976.8,558.7 2977.1,568.8 2977.4,568.8 2977.7,555.9 2978.0,568.7 2978.3,560.8 2978.6,570.6 2978.9,563.3 2979.2,565.0 2979.5,568.9 2979.8,568.6 2980.0,564.8 2980.3,554.8 2980.6,577.3 2980.9,562.9 2981.2,568.1 2981.5,569.7 2981.8,554.7 2982.1,565.2 2982.4,555.9 2982.7,569.5 2983.0,566.9 2983.3,558.0 2983.6,560.0 2983.9,559.2 2984.2,566.6 2984.5,558.8 2984.8,562.4 2985.1,560.4 2985.4,570.0 2985.7,557.0 2986.0,556.3 2986.2,558.1 2986.5,560.8 2986.8,557.7 2987.1,562.7 2987.4,562.9 2987.7,563.3 2988.0,556.2 2988.3,545.9 2988.6,557.4 2988.9,556.0 2989.2,567.9 2989.5,559.0 2989.8,568.4 2990.1,565.9 2990.4,557.3 2990.7,552.9 2991.0,563.0 2991.3,566.3 2991.6,551.5 2991.9,553.7 2992.2,560.9 2992.4,563.3 2992.7,564.5 2993.0,558.9 2993.3,555.5 2993.6,564.0 2993.9,555.5 2994.2,567.9 2994.5,554.2 2994.8,565.8 2995.1,564.7 2995.4,562.7"/>
<text x="420.0" y="1038.4" font-size="56" text-anchor="middle">10</text>
<text x="567.8" y="1038.4" font-size="56" text-anchor="middle">20</text>
<text x="715.5" y="1038.4" font-size="56" text-anchor="middle">30</text>
<text x="863.3" y="1038.4" font-size="56" text-anchor="middle">40</text>
<text x="1011.1" y="1038.4" font-size="56" text-anchor="middle">50</text>
<text x="1158.9" y="1038.4" font-size="56" text-anchor="middle">60</text>
<text x="1306.7" y="1038.4" font-size="56" text-anchor="middle">70</text>
<text x="1454.4" y="1038.4" font-size="56" text-anchor="middle">80</text>
<text x="1602.2" y="1038.4" font-size="56" text-anchor="middle">90</text>
<text x="1812.4" y="1038.4" font-size="56" text-anchor="middle">10</text>
<text x="1960.0" y="1038.4" font-size="56" text-anchor="middle">20</text>
<text x="2107.6" y="1038.4" font-size="56" text-anchor="middle">30</text>
<text x="2255.2" y="1038.4" font-size="56" text-anchor="middle">40</text>
<text x="2402.8" y="1038.4" font-size="56" text-anchor="middle">50</text>
<text x="2550.4" y="1038.4" font-size="56" text-anchor="middle">60</text>
<text x="2698.0" y="1038.4" font-size="56" text-anchor="middle">70</text>
<text x="2845.6" y="1038.4" font-size="56" text-anchor="middle">80</text>
<text x="2993.2" y="1038.4" font-size="56" text-anchor="middle">90</text>
<text x="1010" y="1118.7" font-size="56" text-anchor="middle">2<tspan class="it">θ</tspan>/(°)</text>
<text x="2404.3" y="1117" font-size="56" text-anchor="middle">2<tspan class="it">θ</tspan>/(°)</text>
<text transform="translate(374,492) rotate(-90)" font-size="55" text-anchor="middle">强度</text>
<text transform="translate(1766.6,491) rotate(-90)" font-size="55" text-anchor="middle">强度</text>
<text x="431.0" y="56.8" font-size="56" text-anchor="start">(a)</text>
<text x="1825.0" y="54.6" font-size="56" text-anchor="start">(b)</text>
<text font-size="56"><tspan x="1048.3" y="61.3">1</tspan><tspan x="1073.8" y="61.3">−</tspan><tspan x="1105.6" y="61.3">Fe</tspan><tspan x="1161.6" y="73.0" font-size="35" letter-spacing="-1.4">2.75</tspan><tspan x="1219.5" y="61.3">Ti</tspan><tspan x="1265.5" y="73.0" font-size="35" letter-spacing="-1.4">0.25</tspan><tspan x="1321.6" y="61.3">O</tspan><tspan x="1362.0" y="73.0" font-size="35" letter-spacing="-1.4">4</tspan></text>
<text font-size="56"><tspan x="1404.3" y="61.3">2</tspan><tspan x="1431.7" y="61.3">−</tspan><tspan x="1465.0" y="61.3">Ti</tspan><tspan x="1512.8" y="61.3">O</tspan><tspan x="1553.2" y="73.0" font-size="35" letter-spacing="-1.4">2</tspan></text>
<text font-size="56"><tspan x="1046.7" y="119.7">3</tspan><tspan x="1074.0" y="119.7">−</tspan><tspan x="1105.6" y="119.7">Fe</tspan></text>
<text font-size="56"><tspan x="1404.9" y="119.7">4</tspan><tspan x="1431.7" y="119.7">−</tspan><tspan x="1464.1" y="119.7">C</tspan></text>
<text font-size="56"><tspan x="2438.3" y="63.6">1</tspan><tspan x="2464.5" y="63.6">-</tspan><tspan x="2483.7" y="63.6">Fe</tspan><tspan x="2539.4" y="75.3" font-size="35" letter-spacing="-1.4">2.75</tspan><tspan x="2597.1" y="63.6">Ti</tspan><tspan x="2643.8" y="75.3" font-size="35" letter-spacing="-1.4">0.25</tspan><tspan x="2699.9" y="63.6">O</tspan><tspan x="2739.8" y="75.3" font-size="35" letter-spacing="-1.4">4</tspan></text>
<text font-size="56"><tspan x="2775.8" y="63.6">2</tspan><tspan x="2803.5" y="63.6">-</tspan><tspan x="2821.7" y="63.6">Fe</tspan><tspan x="2877.7" y="63.6">Ti</tspan><tspan x="2926.7" y="63.6">O</tspan><tspan x="2966.9" y="75.3" font-size="35" letter-spacing="-1.4">3</tspan></text>
<text font-size="56"><tspan x="2436.7" y="121.9">3</tspan><tspan x="2464.5" y="121.9">-</tspan><tspan x="2483.7" y="121.9">Fe</tspan><tspan x="2539.4" y="133.6" font-size="35" letter-spacing="-1.4">2</tspan><tspan x="2553.2" y="121.9">V</tspan><tspan x="2595.0" y="121.9">O</tspan><tspan x="2635.4" y="133.6" font-size="35" letter-spacing="-1.4">4</tspan></text>
<text font-size="56"><tspan x="2776.3" y="121.9">4</tspan><tspan x="2803.5" y="121.9">-</tspan><tspan x="2822.9" y="121.9">C</tspan></text>
<text x="632.0" y="492.0" font-size="55" text-anchor="middle">2</text>
<text x="663.0" y="484.0" font-size="55" text-anchor="middle">4</text>
<text x="715.2" y="491.0" font-size="55" text-anchor="middle">2</text>
<text x="792.0" y="434.4" font-size="55" text-anchor="middle">2</text>
<text x="794.0" y="477.0" font-size="55" text-anchor="middle">1</text>
<text x="932.8" y="321.8" font-size="55" text-anchor="middle">3</text>
<text x="1116.4" y="506.7" font-size="55" text-anchor="middle">1</text>
<text x="1192.0" y="505.6" font-size="55" text-anchor="middle">2</text>
<text x="1230.5" y="505.6" font-size="55" text-anchor="middle">3</text>
<text x="1490.0" y="485.7" font-size="55" text-anchor="middle">3</text>
<text x="631.0" y="886.4" font-size="55" text-anchor="middle">2</text>
<text x="716.0" y="890.2" font-size="55" text-anchor="middle">2</text>
<text x="793.0" y="818.2" font-size="55" text-anchor="middle">2</text>
<text x="795.0" y="862.4" font-size="55" text-anchor="middle">1</text>
<text x="932.0" y="706.6" font-size="55" text-anchor="middle">3</text>
<text x="1115.6" y="897.5" font-size="55" text-anchor="middle">1</text>
<text x="1195.8" y="894.8" font-size="55" text-anchor="middle">2</text>
<text x="1232.5" y="890.0" font-size="55" text-anchor="middle">3</text>
<text x="1490.0" y="867.5" font-size="55" text-anchor="middle">3</text>
<text x="1528.0" y="889.0" font-size="55" text-anchor="middle">0</text>
<text x="1937.0" y="508.8" font-size="55" text-anchor="middle">1</text>
<text x="2031.0" y="516.0" font-size="55" text-anchor="middle">2</text>
<text x="2056.4" y="480.3" font-size="55" text-anchor="middle">4</text>
<text x="2113.0" y="426.5" font-size="55" text-anchor="middle">3</text>
<text x="2113.0" y="475.2" font-size="55" text-anchor="middle">1</text>
<text x="2156.2" y="494.2" font-size="55" text-anchor="middle">2</text>
<text x="2192.4" y="302.2" font-size="55" text-anchor="middle">2</text>
<text x="2193.0" y="349.7" font-size="55" text-anchor="middle">1</text>
<text x="2304.0" y="452.2" font-size="55" text-anchor="middle">2</text>
<text x="2304.2" y="499.6" font-size="55" text-anchor="middle">1</text>
<text x="2400.0" y="526.0" font-size="55" text-anchor="middle">2</text>
<text x="2508.0" y="464.0" font-size="55" text-anchor="middle">3</text>
<text x="2508.9" y="504.0" font-size="55" text-anchor="middle">1</text>
<text x="2590.5" y="465.5" font-size="55" text-anchor="middle">3</text>
<text x="2591.7" y="509.8" font-size="55" text-anchor="middle">1</text>
<text x="1937.2" y="881.0" font-size="55" text-anchor="middle">1</text>
<text x="2024.3" y="876.5" font-size="55" text-anchor="middle">2</text>
<text x="2113.0" y="763.0" font-size="55" text-anchor="middle">3</text>
<text x="2112.8" y="806.7" font-size="55" text-anchor="middle">1</text>
<text x="2158.4" y="816.4" font-size="55" text-anchor="middle">2</text>
<text x="2193.5" y="587.7" font-size="55" text-anchor="middle">2</text>
<text x="2193.7" y="628.6" font-size="55" text-anchor="middle">1</text>
<text x="2307.5" y="813.0" font-size="55" text-anchor="middle">2</text>
<text x="2305.6" y="855.0" font-size="55" text-anchor="middle">1</text>
<text x="2399.3" y="881.0" font-size="55" text-anchor="middle">2</text>
<text x="2508.0" y="793.0" font-size="55" text-anchor="middle">3</text>
<text x="2509.0" y="837.4" font-size="55" text-anchor="middle">1</text>
<text x="2590.3" y="790.0" font-size="55" text-anchor="middle">3</text>
<text x="2591.2" y="835.0" font-size="55" text-anchor="middle">1</text>
<text x="2917.8" y="903.7" font-size="55" text-anchor="middle">0</text>
<text x="1511.5" y="498.8" font-size="55" class="it">6<tspan dx="0.5">%</tspan></text>
<text x="2904.5" y="533.4" font-size="55">6%</text>
</svg></body></html>
